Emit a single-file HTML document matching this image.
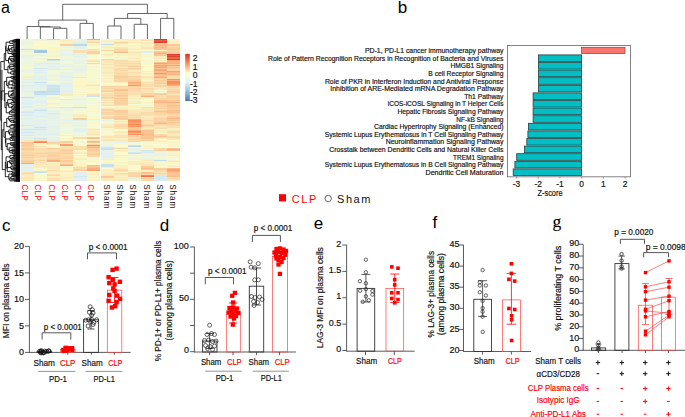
<!DOCTYPE html><html><head><meta charset="utf-8"><style>html,body{margin:0;padding:0;background:#fff;width:685px;height:417px;overflow:hidden;}body{position:relative;font-family:"Liberation Sans", sans-serif;}text{font-family:"Liberation Sans",sans-serif;}</style></head><body><svg width="685" height="417" viewBox="0 0 685 417" style="position:absolute;left:0;top:0;font-family:'Liberation Sans', sans-serif">
<rect x="0" y="0" width="685" height="417" fill="#fff"/>
<text x="1.00" y="12.50" font-size="16" fill="#000">a</text>
<text x="397.80" y="12.70" font-size="17" fill="#000">b</text>
<text x="2.00" y="230.70" font-size="17" fill="#000">c</text>
<text x="159.70" y="231.30" font-size="17" fill="#000">d</text>
<text x="313.80" y="228.70" font-size="17" fill="#000">e</text>
<text x="432.40" y="228.20" font-size="17" fill="#000">f</text>
<text x="552.6" y="227.3" font-size="17.5" fill="#000" stroke="#000" stroke-width="0.12" style="font-family:'Liberation Serif',serif">g</text>
<g shape-rendering="crispEdges">
<rect x="20.50" y="39.00" width="13.28" height="1.05" fill="#edf5df"/><rect x="20.50" y="40.00" width="13.28" height="1.05" fill="#f1f7da"/><rect x="20.50" y="41.00" width="13.28" height="1.05" fill="#edf5df"/><rect x="20.50" y="42.00" width="13.28" height="1.05" fill="#edf5e0"/><rect x="20.50" y="43.00" width="13.28" height="1.05" fill="#eaf4e4"/><rect x="20.50" y="44.00" width="13.28" height="1.05" fill="#edf5df"/><rect x="20.50" y="45.00" width="13.28" height="1.05" fill="#f4f8d6"/><rect x="20.50" y="46.00" width="13.28" height="1.05" fill="#f1f7da"/><rect x="20.50" y="47.00" width="13.28" height="1.05" fill="#f4f8d6"/><rect x="20.50" y="48.00" width="13.28" height="1.05" fill="#f0f6dc"/><rect x="20.50" y="49.00" width="13.28" height="1.05" fill="#fbd4a3"/><rect x="20.50" y="50.00" width="13.28" height="1.05" fill="#eff6dc"/><rect x="20.50" y="51.00" width="13.28" height="1.05" fill="#e6f2e9"/><rect x="20.50" y="52.00" width="13.28" height="1.05" fill="#f3f8d7"/><rect x="20.50" y="53.00" width="13.28" height="1.05" fill="#f1f7da"/><rect x="20.50" y="54.00" width="13.28" height="1.05" fill="#f1f7da"/><rect x="20.50" y="55.00" width="13.28" height="1.05" fill="#e6f2e9"/><rect x="20.50" y="56.00" width="13.28" height="1.05" fill="#e6f2ea"/><rect x="20.50" y="57.00" width="13.28" height="1.05" fill="#eaf4e4"/><rect x="20.50" y="58.00" width="13.28" height="1.05" fill="#ecf5e1"/><rect x="20.50" y="59.00" width="13.28" height="1.05" fill="#f0f6db"/><rect x="20.50" y="60.00" width="13.28" height="1.05" fill="#eef6de"/><rect x="20.50" y="61.00" width="13.28" height="1.05" fill="#f1f7da"/><rect x="20.50" y="62.00" width="13.28" height="1.05" fill="#ebf4e2"/><rect x="20.50" y="63.00" width="13.28" height="1.05" fill="#f0f6db"/><rect x="20.50" y="64.00" width="13.28" height="1.05" fill="#f0f7db"/><rect x="20.50" y="65.00" width="13.28" height="1.05" fill="#ebf4e2"/><rect x="20.50" y="66.00" width="13.28" height="1.05" fill="#f7f9d1"/><rect x="20.50" y="67.00" width="13.28" height="1.05" fill="#f1f7da"/><rect x="20.50" y="68.00" width="13.28" height="1.05" fill="#f4f8d5"/><rect x="20.50" y="69.00" width="13.28" height="1.05" fill="#ebf4e2"/><rect x="20.50" y="70.00" width="13.28" height="1.05" fill="#ebf4e3"/><rect x="20.50" y="71.00" width="13.28" height="1.05" fill="#edf5e0"/><rect x="20.50" y="72.00" width="13.28" height="1.05" fill="#eef6de"/><rect x="20.50" y="73.00" width="13.28" height="1.05" fill="#f2f7d9"/><rect x="20.50" y="74.00" width="13.28" height="1.05" fill="#f0f6dc"/><rect x="20.50" y="75.00" width="13.28" height="1.05" fill="#ecf5e1"/><rect x="20.50" y="76.00" width="13.28" height="1.05" fill="#fbf0c0"/><rect x="20.50" y="77.00" width="13.28" height="1.05" fill="#fbedbd"/><rect x="20.50" y="78.00" width="13.28" height="1.05" fill="#ecf5e1"/><rect x="20.50" y="79.00" width="13.28" height="1.05" fill="#e2f1ef"/><rect x="20.50" y="80.00" width="13.28" height="1.05" fill="#e7f3e7"/><rect x="20.50" y="81.00" width="13.28" height="1.05" fill="#e8f3e6"/><rect x="20.50" y="82.00" width="13.28" height="1.05" fill="#deeff3"/><rect x="20.50" y="83.00" width="13.28" height="1.05" fill="#e6f2e9"/><rect x="20.50" y="84.00" width="13.28" height="1.05" fill="#edf5e0"/><rect x="20.50" y="85.00" width="13.28" height="1.05" fill="#d8ebf2"/><rect x="20.50" y="86.00" width="13.28" height="1.05" fill="#e4f2eb"/><rect x="20.50" y="87.00" width="13.28" height="1.05" fill="#e5f2ea"/><rect x="20.50" y="88.00" width="13.28" height="1.05" fill="#e2f1ef"/><rect x="20.50" y="89.00" width="13.28" height="1.05" fill="#e8f3e6"/><rect x="20.50" y="90.00" width="13.28" height="1.05" fill="#e6f2e9"/><rect x="20.50" y="91.00" width="13.28" height="1.05" fill="#dfeff3"/><rect x="20.50" y="92.00" width="13.28" height="1.05" fill="#eaf4e3"/><rect x="20.50" y="93.00" width="13.28" height="1.05" fill="#e9f4e4"/><rect x="20.50" y="94.00" width="13.28" height="1.05" fill="#ebf4e2"/><rect x="20.50" y="95.00" width="13.28" height="1.05" fill="#edf5df"/><rect x="20.50" y="96.00" width="13.28" height="1.05" fill="#e8f3e6"/><rect x="20.50" y="97.00" width="13.28" height="1.05" fill="#c9e2ed"/><rect x="20.50" y="98.00" width="13.28" height="1.05" fill="#dff0f2"/><rect x="20.50" y="99.00" width="13.28" height="1.05" fill="#e9f4e5"/><rect x="20.50" y="100.00" width="13.28" height="1.05" fill="#e3f1ed"/><rect x="20.50" y="101.00" width="13.28" height="1.05" fill="#e4f1ec"/><rect x="20.50" y="102.00" width="13.28" height="1.05" fill="#e0f0f2"/><rect x="20.50" y="103.00" width="13.28" height="1.05" fill="#e1f0f0"/><rect x="20.50" y="104.00" width="13.28" height="1.05" fill="#e3f1ed"/><rect x="20.50" y="105.00" width="13.28" height="1.05" fill="#ecf5e0"/><rect x="20.50" y="106.00" width="13.28" height="1.05" fill="#d8ebf2"/><rect x="20.50" y="107.00" width="13.28" height="1.05" fill="#dfeff3"/><rect x="20.50" y="108.00" width="13.28" height="1.05" fill="#e7f3e7"/><rect x="20.50" y="109.00" width="13.28" height="1.05" fill="#edf5df"/><rect x="20.50" y="110.00" width="13.28" height="1.05" fill="#e9f4e5"/><rect x="20.50" y="111.00" width="13.28" height="1.05" fill="#daecf3"/><rect x="20.50" y="112.00" width="13.28" height="1.05" fill="#d2e7f0"/><rect x="20.50" y="113.00" width="13.28" height="1.05" fill="#e8f3e7"/><rect x="20.50" y="114.00" width="13.28" height="1.05" fill="#deeff4"/><rect x="20.50" y="115.00" width="13.28" height="1.05" fill="#d9ecf2"/><rect x="20.50" y="116.00" width="13.28" height="1.05" fill="#e7f3e8"/><rect x="20.50" y="117.00" width="13.28" height="1.05" fill="#e7f3e7"/><rect x="20.50" y="118.00" width="13.28" height="1.05" fill="#e3f1ee"/><rect x="20.50" y="119.00" width="13.28" height="1.05" fill="#e3f1ed"/><rect x="20.50" y="120.00" width="13.28" height="1.05" fill="#e4f1ec"/><rect x="20.50" y="121.00" width="13.28" height="1.05" fill="#eaf4e4"/><rect x="20.50" y="122.00" width="13.28" height="1.05" fill="#e5f2ea"/><rect x="20.50" y="123.00" width="13.28" height="1.05" fill="#e4f2eb"/><rect x="20.50" y="124.00" width="13.28" height="1.05" fill="#e5f2eb"/><rect x="20.50" y="125.00" width="13.28" height="1.05" fill="#d3e8f0"/><rect x="20.50" y="126.00" width="13.28" height="1.05" fill="#e8f3e6"/><rect x="20.50" y="127.00" width="13.28" height="1.05" fill="#e7f3e8"/><rect x="20.50" y="128.00" width="13.28" height="1.05" fill="#e4f2eb"/><rect x="20.50" y="129.00" width="13.28" height="1.05" fill="#d0e6ef"/><rect x="20.50" y="130.00" width="13.28" height="1.05" fill="#dfeff3"/><rect x="20.50" y="131.00" width="13.28" height="1.05" fill="#e6f2e9"/><rect x="20.50" y="132.00" width="13.28" height="1.05" fill="#d1e7f0"/><rect x="20.50" y="133.00" width="13.28" height="1.05" fill="#e1f0f0"/><rect x="20.50" y="134.00" width="13.28" height="1.05" fill="#e7f3e8"/><rect x="20.50" y="135.00" width="13.28" height="1.05" fill="#d6eaf2"/><rect x="20.50" y="136.00" width="13.28" height="1.05" fill="#eaf4e4"/><rect x="20.50" y="137.00" width="13.28" height="1.05" fill="#e5f2eb"/><rect x="20.50" y="138.00" width="13.28" height="1.05" fill="#e1f0f0"/><rect x="20.50" y="139.00" width="13.28" height="1.05" fill="#e3f1ed"/><rect x="20.50" y="140.00" width="13.28" height="1.05" fill="#fbe4b4"/><rect x="20.50" y="141.00" width="13.28" height="1.05" fill="#fbe8b8"/><rect x="20.50" y="142.00" width="13.28" height="1.05" fill="#fcc291"/><rect x="20.50" y="143.00" width="13.28" height="1.05" fill="#fbcf9e"/><rect x="20.50" y="144.00" width="13.28" height="1.05" fill="#fbce9d"/><rect x="20.50" y="145.00" width="13.28" height="1.05" fill="#fbcc9b"/><rect x="20.50" y="146.00" width="13.28" height="1.05" fill="#fbd3a3"/><rect x="20.50" y="147.00" width="13.28" height="1.05" fill="#fbdaaa"/><rect x="20.50" y="148.00" width="13.28" height="1.05" fill="#fbcd9c"/><rect x="20.50" y="149.00" width="13.28" height="1.05" fill="#fbc998"/><rect x="20.50" y="150.00" width="13.28" height="1.05" fill="#fbd7a6"/><rect x="20.50" y="151.00" width="13.28" height="1.05" fill="#fbdead"/><rect x="20.50" y="152.00" width="13.28" height="1.05" fill="#fbd5a4"/><rect x="20.50" y="153.00" width="13.28" height="1.05" fill="#fbd5a4"/><rect x="20.50" y="154.00" width="13.28" height="1.05" fill="#fbd6a5"/><rect x="20.50" y="155.00" width="13.28" height="1.05" fill="#fbc998"/><rect x="20.50" y="156.00" width="13.28" height="1.05" fill="#fbdbab"/><rect x="20.50" y="157.00" width="13.28" height="1.05" fill="#fbcb99"/><rect x="20.50" y="158.00" width="13.28" height="1.05" fill="#fbddad"/><rect x="20.50" y="159.00" width="13.28" height="1.05" fill="#fbd9a9"/><rect x="20.50" y="160.00" width="13.28" height="1.05" fill="#fbcf9e"/><rect x="20.50" y="161.00" width="13.28" height="1.05" fill="#fbcb9a"/><rect x="20.50" y="162.00" width="13.28" height="1.05" fill="#fbcd9c"/><rect x="20.50" y="163.00" width="13.28" height="1.05" fill="#fca976"/><rect x="20.50" y="164.00" width="13.28" height="1.05" fill="#e2f1ee"/><rect x="20.50" y="165.00" width="13.28" height="1.05" fill="#e3f1ee"/><rect x="20.50" y="166.00" width="13.28" height="1.05" fill="#e5f2eb"/><rect x="20.50" y="167.00" width="13.28" height="1.05" fill="#e1f0f0"/><rect x="20.50" y="168.00" width="13.28" height="1.05" fill="#e3f1ed"/><rect x="20.50" y="169.00" width="13.28" height="1.05" fill="#e5f2eb"/><rect x="20.50" y="170.00" width="13.28" height="1.05" fill="#e2f1ef"/><rect x="20.50" y="171.00" width="13.28" height="1.05" fill="#e6f2e9"/><rect x="20.50" y="172.00" width="13.28" height="1.05" fill="#fbe5b5"/><rect x="20.50" y="173.00" width="13.28" height="1.05" fill="#fbdaaa"/><rect x="20.50" y="174.00" width="13.28" height="1.05" fill="#fbe6b7"/><rect x="20.50" y="175.00" width="13.28" height="1.05" fill="#fbecbc"/><rect x="20.50" y="176.00" width="13.28" height="1.05" fill="#fbecbc"/><rect x="20.50" y="177.00" width="13.28" height="1.05" fill="#fbe9b9"/><rect x="20.50" y="178.00" width="13.28" height="1.05" fill="#fbe2b2"/><rect x="20.50" y="179.00" width="13.28" height="1.05" fill="#fbebbc"/><rect x="20.50" y="180.00" width="13.28" height="1.05" fill="#fbe6b6"/><rect x="33.73" y="39.00" width="13.28" height="1.05" fill="#fbeebe"/><rect x="33.73" y="40.00" width="13.28" height="1.05" fill="#eef6de"/><rect x="33.73" y="41.00" width="13.28" height="1.05" fill="#f5f9d4"/><rect x="33.73" y="42.00" width="13.28" height="1.05" fill="#fbf9ca"/><rect x="33.73" y="43.00" width="13.28" height="1.05" fill="#fbf8c9"/><rect x="33.73" y="44.00" width="13.28" height="1.05" fill="#fbf9ca"/><rect x="33.73" y="45.00" width="13.28" height="1.05" fill="#f9facf"/><rect x="33.73" y="46.00" width="13.28" height="1.05" fill="#fbf6c7"/><rect x="33.73" y="47.00" width="13.28" height="1.05" fill="#fbf9ca"/><rect x="33.73" y="48.00" width="13.28" height="1.05" fill="#f8fad0"/><rect x="33.73" y="49.00" width="13.28" height="1.05" fill="#fbe9ba"/><rect x="33.73" y="50.00" width="13.28" height="1.05" fill="#a5cce2"/><rect x="33.73" y="51.00" width="13.28" height="1.05" fill="#a0c9e0"/><rect x="33.73" y="52.00" width="13.28" height="1.05" fill="#a3cae1"/><rect x="33.73" y="53.00" width="13.28" height="1.05" fill="#f1f7d9"/><rect x="33.73" y="54.00" width="13.28" height="1.05" fill="#f2f7d8"/><rect x="33.73" y="55.00" width="13.28" height="1.05" fill="#e5f2eb"/><rect x="33.73" y="56.00" width="13.28" height="1.05" fill="#f0f7db"/><rect x="33.73" y="57.00" width="13.28" height="1.05" fill="#f8fad1"/><rect x="33.73" y="58.00" width="13.28" height="1.05" fill="#edf5e0"/><rect x="33.73" y="59.00" width="13.28" height="1.05" fill="#f2f7d8"/><rect x="33.73" y="60.00" width="13.28" height="1.05" fill="#f7fad1"/><rect x="33.73" y="61.00" width="13.28" height="1.05" fill="#eaf4e3"/><rect x="33.73" y="62.00" width="13.28" height="1.05" fill="#edf5df"/><rect x="33.73" y="63.00" width="13.28" height="1.05" fill="#dceef3"/><rect x="33.73" y="64.00" width="13.28" height="1.05" fill="#e4f2eb"/><rect x="33.73" y="65.00" width="13.28" height="1.05" fill="#e4f2eb"/><rect x="33.73" y="66.00" width="13.28" height="1.05" fill="#e9f4e5"/><rect x="33.73" y="67.00" width="13.28" height="1.05" fill="#ebf5e1"/><rect x="33.73" y="68.00" width="13.28" height="1.05" fill="#d1e7f0"/><rect x="33.73" y="69.00" width="13.28" height="1.05" fill="#ebf5e1"/><rect x="33.73" y="70.00" width="13.28" height="1.05" fill="#dfeff3"/><rect x="33.73" y="71.00" width="13.28" height="1.05" fill="#e9f4e4"/><rect x="33.73" y="72.00" width="13.28" height="1.05" fill="#deeff3"/><rect x="33.73" y="73.00" width="13.28" height="1.05" fill="#e7f3e8"/><rect x="33.73" y="74.00" width="13.28" height="1.05" fill="#ecf5e1"/><rect x="33.73" y="75.00" width="13.28" height="1.05" fill="#e5f2ea"/><rect x="33.73" y="76.00" width="13.28" height="1.05" fill="#e3f1ed"/><rect x="33.73" y="77.00" width="13.28" height="1.05" fill="#e6f2e9"/><rect x="33.73" y="78.00" width="13.28" height="1.05" fill="#e2f1ee"/><rect x="33.73" y="79.00" width="13.28" height="1.05" fill="#e1f0ef"/><rect x="33.73" y="80.00" width="13.28" height="1.05" fill="#eaf4e4"/><rect x="33.73" y="81.00" width="13.28" height="1.05" fill="#e7f3e8"/><rect x="33.73" y="82.00" width="13.28" height="1.05" fill="#c7e1ec"/><rect x="33.73" y="83.00" width="13.28" height="1.05" fill="#f0f6dc"/><rect x="33.73" y="84.00" width="13.28" height="1.05" fill="#d9ecf2"/><rect x="33.73" y="85.00" width="13.28" height="1.05" fill="#e6f2e8"/><rect x="33.73" y="86.00" width="13.28" height="1.05" fill="#e0f0f1"/><rect x="33.73" y="87.00" width="13.28" height="1.05" fill="#e2f1ee"/><rect x="33.73" y="88.00" width="13.28" height="1.05" fill="#e5f2ea"/><rect x="33.73" y="89.00" width="13.28" height="1.05" fill="#e3f1ed"/><rect x="33.73" y="90.00" width="13.28" height="1.05" fill="#e5f2ea"/><rect x="33.73" y="91.00" width="13.28" height="1.05" fill="#c0dcea"/><rect x="33.73" y="92.00" width="13.28" height="1.05" fill="#c0dcea"/><rect x="33.73" y="93.00" width="13.28" height="1.05" fill="#cce4ee"/><rect x="33.73" y="94.00" width="13.28" height="1.05" fill="#c3deeb"/><rect x="33.73" y="95.00" width="13.28" height="1.05" fill="#e1f0f0"/><rect x="33.73" y="96.00" width="13.28" height="1.05" fill="#dfeff3"/><rect x="33.73" y="97.00" width="13.28" height="1.05" fill="#ecf5e0"/><rect x="33.73" y="98.00" width="13.28" height="1.05" fill="#eaf4e4"/><rect x="33.73" y="99.00" width="13.28" height="1.05" fill="#edf5df"/><rect x="33.73" y="100.00" width="13.28" height="1.05" fill="#e1f0f0"/><rect x="33.73" y="101.00" width="13.28" height="1.05" fill="#e6f2e9"/><rect x="33.73" y="102.00" width="13.28" height="1.05" fill="#e0f0f1"/><rect x="33.73" y="103.00" width="13.28" height="1.05" fill="#eaf4e4"/><rect x="33.73" y="104.00" width="13.28" height="1.05" fill="#eef6de"/><rect x="33.73" y="105.00" width="13.28" height="1.05" fill="#e1f0ef"/><rect x="33.73" y="106.00" width="13.28" height="1.05" fill="#eef6de"/><rect x="33.73" y="107.00" width="13.28" height="1.05" fill="#ebf4e2"/><rect x="33.73" y="108.00" width="13.28" height="1.05" fill="#e5f2ea"/><rect x="33.73" y="109.00" width="13.28" height="1.05" fill="#d9ecf2"/><rect x="33.73" y="110.00" width="13.28" height="1.05" fill="#cce4ee"/><rect x="33.73" y="111.00" width="13.28" height="1.05" fill="#e1f0ef"/><rect x="33.73" y="112.00" width="13.28" height="1.05" fill="#dfeff3"/><rect x="33.73" y="113.00" width="13.28" height="1.05" fill="#e4f1ec"/><rect x="33.73" y="114.00" width="13.28" height="1.05" fill="#e4f1ec"/><rect x="33.73" y="115.00" width="13.28" height="1.05" fill="#e9f4e4"/><rect x="33.73" y="116.00" width="13.28" height="1.05" fill="#daedf3"/><rect x="33.73" y="117.00" width="13.28" height="1.05" fill="#e8f3e7"/><rect x="33.73" y="118.00" width="13.28" height="1.05" fill="#e9f4e4"/><rect x="33.73" y="119.00" width="13.28" height="1.05" fill="#e9f4e5"/><rect x="33.73" y="120.00" width="13.28" height="1.05" fill="#e1f0f0"/><rect x="33.73" y="121.00" width="13.28" height="1.05" fill="#deeff4"/><rect x="33.73" y="122.00" width="13.28" height="1.05" fill="#e7f3e8"/><rect x="33.73" y="123.00" width="13.28" height="1.05" fill="#e2f1ee"/><rect x="33.73" y="124.00" width="13.28" height="1.05" fill="#e2f1ee"/><rect x="33.73" y="125.00" width="13.28" height="1.05" fill="#e9f4e5"/><rect x="33.73" y="126.00" width="13.28" height="1.05" fill="#e0f0f1"/><rect x="33.73" y="127.00" width="13.28" height="1.05" fill="#cee5ef"/><rect x="33.73" y="128.00" width="13.28" height="1.05" fill="#e0f0f1"/><rect x="33.73" y="129.00" width="13.28" height="1.05" fill="#d1e7f0"/><rect x="33.73" y="130.00" width="13.28" height="1.05" fill="#e6f2e9"/><rect x="33.73" y="131.00" width="13.28" height="1.05" fill="#e3f1ed"/><rect x="33.73" y="132.00" width="13.28" height="1.05" fill="#dfeff3"/><rect x="33.73" y="133.00" width="13.28" height="1.05" fill="#e2f1ef"/><rect x="33.73" y="134.00" width="13.28" height="1.05" fill="#e6f2e9"/><rect x="33.73" y="135.00" width="13.28" height="1.05" fill="#e2f1ee"/><rect x="33.73" y="136.00" width="13.28" height="1.05" fill="#e8f3e6"/><rect x="33.73" y="137.00" width="13.28" height="1.05" fill="#e1f0ef"/><rect x="33.73" y="138.00" width="13.28" height="1.05" fill="#cee5ef"/><rect x="33.73" y="139.00" width="13.28" height="1.05" fill="#fbe4b4"/><rect x="33.73" y="140.00" width="13.28" height="1.05" fill="#fbe3b3"/><rect x="33.73" y="141.00" width="13.28" height="1.05" fill="#fc9d69"/><rect x="33.73" y="142.00" width="13.28" height="1.05" fill="#f88253"/><rect x="33.73" y="143.00" width="13.28" height="1.05" fill="#fbf6c7"/><rect x="33.73" y="144.00" width="13.28" height="1.05" fill="#fbf1c1"/><rect x="33.73" y="145.00" width="13.28" height="1.05" fill="#fbf7c8"/><rect x="33.73" y="146.00" width="13.28" height="1.05" fill="#fbe1b1"/><rect x="33.73" y="147.00" width="13.28" height="1.05" fill="#fbf2c2"/><rect x="33.73" y="148.00" width="13.28" height="1.05" fill="#fbddac"/><rect x="33.73" y="149.00" width="13.28" height="1.05" fill="#fbdeae"/><rect x="33.73" y="150.00" width="13.28" height="1.05" fill="#fbddad"/><rect x="33.73" y="151.00" width="13.28" height="1.05" fill="#fbe1b1"/><rect x="33.73" y="152.00" width="13.28" height="1.05" fill="#fbdbab"/><rect x="33.73" y="153.00" width="13.28" height="1.05" fill="#fbd09f"/><rect x="33.73" y="154.00" width="13.28" height="1.05" fill="#fbdcac"/><rect x="33.73" y="155.00" width="13.28" height="1.05" fill="#fbd9a8"/><rect x="33.73" y="156.00" width="13.28" height="1.05" fill="#fbd5a5"/><rect x="33.73" y="157.00" width="13.28" height="1.05" fill="#fbdeae"/><rect x="33.73" y="158.00" width="13.28" height="1.05" fill="#fbe6b6"/><rect x="33.73" y="159.00" width="13.28" height="1.05" fill="#fbe1b1"/><rect x="33.73" y="160.00" width="13.28" height="1.05" fill="#fbd5a4"/><rect x="33.73" y="161.00" width="13.28" height="1.05" fill="#fbe9b9"/><rect x="33.73" y="162.00" width="13.28" height="1.05" fill="#fbe1b1"/><rect x="33.73" y="163.00" width="13.28" height="1.05" fill="#fbe8b8"/><rect x="33.73" y="164.00" width="13.28" height="1.05" fill="#fbe9b9"/><rect x="33.73" y="165.00" width="13.28" height="1.05" fill="#fbefbf"/><rect x="33.73" y="166.00" width="13.28" height="1.05" fill="#fbe9b9"/><rect x="33.73" y="167.00" width="13.28" height="1.05" fill="#fbeebe"/><rect x="33.73" y="168.00" width="13.28" height="1.05" fill="#fbf7c8"/><rect x="33.73" y="169.00" width="13.28" height="1.05" fill="#fbfacb"/><rect x="33.73" y="170.00" width="13.28" height="1.05" fill="#fbf4c4"/><rect x="33.73" y="171.00" width="13.28" height="1.05" fill="#cee5ef"/><rect x="33.73" y="172.00" width="13.28" height="1.05" fill="#c5e0ec"/><rect x="33.73" y="173.00" width="13.28" height="1.05" fill="#f9facf"/><rect x="33.73" y="174.00" width="13.28" height="1.05" fill="#f9face"/><rect x="33.73" y="175.00" width="13.28" height="1.05" fill="#f5f9d4"/><rect x="33.73" y="176.00" width="13.28" height="1.05" fill="#fbf9ca"/><rect x="33.73" y="177.00" width="13.28" height="1.05" fill="#f7f9d1"/><rect x="33.73" y="178.00" width="13.28" height="1.05" fill="#fbf5c6"/><rect x="33.73" y="179.00" width="13.28" height="1.05" fill="#f1f7da"/><rect x="33.73" y="180.00" width="13.28" height="1.05" fill="#fbf6c6"/><rect x="46.97" y="39.00" width="13.28" height="1.05" fill="#fbc998"/><rect x="46.97" y="40.00" width="13.28" height="1.05" fill="#f1f7da"/><rect x="46.97" y="41.00" width="13.28" height="1.05" fill="#fbf6c6"/><rect x="46.97" y="42.00" width="13.28" height="1.05" fill="#faface"/><rect x="46.97" y="43.00" width="13.28" height="1.05" fill="#f0f6dc"/><rect x="46.97" y="44.00" width="13.28" height="1.05" fill="#f7f9d2"/><rect x="46.97" y="45.00" width="13.28" height="1.05" fill="#fbf9ca"/><rect x="46.97" y="46.00" width="13.28" height="1.05" fill="#f9facf"/><rect x="46.97" y="47.00" width="13.28" height="1.05" fill="#fbf5c6"/><rect x="46.97" y="48.00" width="13.28" height="1.05" fill="#fbf6c6"/><rect x="46.97" y="49.00" width="13.28" height="1.05" fill="#fbf6c7"/><rect x="46.97" y="50.00" width="13.28" height="1.05" fill="#fbf9ca"/><rect x="46.97" y="51.00" width="13.28" height="1.05" fill="#fbf1c2"/><rect x="46.97" y="52.00" width="13.28" height="1.05" fill="#fbf6c7"/><rect x="46.97" y="53.00" width="13.28" height="1.05" fill="#fbf8c9"/><rect x="46.97" y="54.00" width="13.28" height="1.05" fill="#f0f7db"/><rect x="46.97" y="55.00" width="13.28" height="1.05" fill="#fbf4c5"/><rect x="46.97" y="56.00" width="13.28" height="1.05" fill="#fbf1c2"/><rect x="46.97" y="57.00" width="13.28" height="1.05" fill="#faface"/><rect x="46.97" y="58.00" width="13.28" height="1.05" fill="#f9facf"/><rect x="46.97" y="59.00" width="13.28" height="1.05" fill="#fcb987"/><rect x="46.97" y="60.00" width="13.28" height="1.05" fill="#d1e7f0"/><rect x="46.97" y="61.00" width="13.28" height="1.05" fill="#e4f2ec"/><rect x="46.97" y="62.00" width="13.28" height="1.05" fill="#eef6de"/><rect x="46.97" y="63.00" width="13.28" height="1.05" fill="#dcedf3"/><rect x="46.97" y="64.00" width="13.28" height="1.05" fill="#e5f2ea"/><rect x="46.97" y="65.00" width="13.28" height="1.05" fill="#ebf4e2"/><rect x="46.97" y="66.00" width="13.28" height="1.05" fill="#e1f0f0"/><rect x="46.97" y="67.00" width="13.28" height="1.05" fill="#e5f2eb"/><rect x="46.97" y="68.00" width="13.28" height="1.05" fill="#e6f2e9"/><rect x="46.97" y="69.00" width="13.28" height="1.05" fill="#dceef3"/><rect x="46.97" y="70.00" width="13.28" height="1.05" fill="#eef6de"/><rect x="46.97" y="71.00" width="13.28" height="1.05" fill="#f0f6db"/><rect x="46.97" y="72.00" width="13.28" height="1.05" fill="#f3f8d8"/><rect x="46.97" y="73.00" width="13.28" height="1.05" fill="#eef6de"/><rect x="46.97" y="74.00" width="13.28" height="1.05" fill="#edf5df"/><rect x="46.97" y="75.00" width="13.28" height="1.05" fill="#e9f4e4"/><rect x="46.97" y="76.00" width="13.28" height="1.05" fill="#edf5e0"/><rect x="46.97" y="77.00" width="13.28" height="1.05" fill="#f3f8d7"/><rect x="46.97" y="78.00" width="13.28" height="1.05" fill="#eff6dd"/><rect x="46.97" y="79.00" width="13.28" height="1.05" fill="#eaf4e3"/><rect x="46.97" y="80.00" width="13.28" height="1.05" fill="#eaf4e3"/><rect x="46.97" y="81.00" width="13.28" height="1.05" fill="#fbfacb"/><rect x="46.97" y="82.00" width="13.28" height="1.05" fill="#f4f8d5"/><rect x="46.97" y="83.00" width="13.28" height="1.05" fill="#f2f7d9"/><rect x="46.97" y="84.00" width="13.28" height="1.05" fill="#e1f0ef"/><rect x="46.97" y="85.00" width="13.28" height="1.05" fill="#cce4ee"/><rect x="46.97" y="86.00" width="13.28" height="1.05" fill="#cbe3ee"/><rect x="46.97" y="87.00" width="13.28" height="1.05" fill="#d2e7f0"/><rect x="46.97" y="88.00" width="13.28" height="1.05" fill="#cbe3ee"/><rect x="46.97" y="89.00" width="13.28" height="1.05" fill="#c8e1ed"/><rect x="46.97" y="90.00" width="13.28" height="1.05" fill="#cbe3ee"/><rect x="46.97" y="91.00" width="13.28" height="1.05" fill="#bedbea"/><rect x="46.97" y="92.00" width="13.28" height="1.05" fill="#cee5ef"/><rect x="46.97" y="93.00" width="13.28" height="1.05" fill="#cae3ee"/><rect x="46.97" y="94.00" width="13.28" height="1.05" fill="#c5dfec"/><rect x="46.97" y="95.00" width="13.28" height="1.05" fill="#f5f9d4"/><rect x="46.97" y="96.00" width="13.28" height="1.05" fill="#f8fad1"/><rect x="46.97" y="97.00" width="13.28" height="1.05" fill="#e7f3e7"/><rect x="46.97" y="98.00" width="13.28" height="1.05" fill="#ebf4e2"/><rect x="46.97" y="99.00" width="13.28" height="1.05" fill="#f0f6db"/><rect x="46.97" y="100.00" width="13.28" height="1.05" fill="#fbfacb"/><rect x="46.97" y="101.00" width="13.28" height="1.05" fill="#f9facf"/><rect x="46.97" y="102.00" width="13.28" height="1.05" fill="#f6f9d3"/><rect x="46.97" y="103.00" width="13.28" height="1.05" fill="#fbecbc"/><rect x="46.97" y="104.00" width="13.28" height="1.05" fill="#fbf3c4"/><rect x="46.97" y="105.00" width="13.28" height="1.05" fill="#f5f9d4"/><rect x="46.97" y="106.00" width="13.28" height="1.05" fill="#f4f8d5"/><rect x="46.97" y="107.00" width="13.28" height="1.05" fill="#fbefbf"/><rect x="46.97" y="108.00" width="13.28" height="1.05" fill="#ebf4e2"/><rect x="46.97" y="109.00" width="13.28" height="1.05" fill="#eff6dc"/><rect x="46.97" y="110.00" width="13.28" height="1.05" fill="#eaf4e3"/><rect x="46.97" y="111.00" width="13.28" height="1.05" fill="#e2f0ef"/><rect x="46.97" y="112.00" width="13.28" height="1.05" fill="#e7f3e7"/><rect x="46.97" y="113.00" width="13.28" height="1.05" fill="#d6eaf1"/><rect x="46.97" y="114.00" width="13.28" height="1.05" fill="#e2f1ee"/><rect x="46.97" y="115.00" width="13.28" height="1.05" fill="#e6f2e9"/><rect x="46.97" y="116.00" width="13.28" height="1.05" fill="#e9f3e5"/><rect x="46.97" y="117.00" width="13.28" height="1.05" fill="#e2f1ee"/><rect x="46.97" y="118.00" width="13.28" height="1.05" fill="#e5f2ea"/><rect x="46.97" y="119.00" width="13.28" height="1.05" fill="#e8f3e6"/><rect x="46.97" y="120.00" width="13.28" height="1.05" fill="#e8f3e6"/><rect x="46.97" y="121.00" width="13.28" height="1.05" fill="#e9f4e5"/><rect x="46.97" y="122.00" width="13.28" height="1.05" fill="#e7f3e8"/><rect x="46.97" y="123.00" width="13.28" height="1.05" fill="#e4f2eb"/><rect x="46.97" y="124.00" width="13.28" height="1.05" fill="#eaf4e4"/><rect x="46.97" y="125.00" width="13.28" height="1.05" fill="#e6f2e9"/><rect x="46.97" y="126.00" width="13.28" height="1.05" fill="#e2f1ef"/><rect x="46.97" y="127.00" width="13.28" height="1.05" fill="#e3f1ed"/><rect x="46.97" y="128.00" width="13.28" height="1.05" fill="#e6f2e9"/><rect x="46.97" y="129.00" width="13.28" height="1.05" fill="#e5f2ea"/><rect x="46.97" y="130.00" width="13.28" height="1.05" fill="#e7f3e8"/><rect x="46.97" y="131.00" width="13.28" height="1.05" fill="#e6f2e9"/><rect x="46.97" y="132.00" width="13.28" height="1.05" fill="#e7f3e8"/><rect x="46.97" y="133.00" width="13.28" height="1.05" fill="#e5f2ea"/><rect x="46.97" y="134.00" width="13.28" height="1.05" fill="#e0f0f2"/><rect x="46.97" y="135.00" width="13.28" height="1.05" fill="#e8f3e6"/><rect x="46.97" y="136.00" width="13.28" height="1.05" fill="#ebf5e2"/><rect x="46.97" y="137.00" width="13.28" height="1.05" fill="#e8f3e6"/><rect x="46.97" y="138.00" width="13.28" height="1.05" fill="#e5f2ea"/><rect x="46.97" y="139.00" width="13.28" height="1.05" fill="#e8f3e6"/><rect x="46.97" y="140.00" width="13.28" height="1.05" fill="#e1f0f0"/><rect x="46.97" y="141.00" width="13.28" height="1.05" fill="#daecf3"/><rect x="46.97" y="142.00" width="13.28" height="1.05" fill="#fbd09f"/><rect x="46.97" y="143.00" width="13.28" height="1.05" fill="#fbd7a7"/><rect x="46.97" y="144.00" width="13.28" height="1.05" fill="#fbeaba"/><rect x="46.97" y="145.00" width="13.28" height="1.05" fill="#fbf7c8"/><rect x="46.97" y="146.00" width="13.28" height="1.05" fill="#f6f9d3"/><rect x="46.97" y="147.00" width="13.28" height="1.05" fill="#fbf6c7"/><rect x="46.97" y="148.00" width="13.28" height="1.05" fill="#fbcb9a"/><rect x="46.97" y="149.00" width="13.28" height="1.05" fill="#fbd9a9"/><rect x="46.97" y="150.00" width="13.28" height="1.05" fill="#fbe1b0"/><rect x="46.97" y="151.00" width="13.28" height="1.05" fill="#fbdcac"/><rect x="46.97" y="152.00" width="13.28" height="1.05" fill="#fbd3a2"/><rect x="46.97" y="153.00" width="13.28" height="1.05" fill="#fbd3a2"/><rect x="46.97" y="154.00" width="13.28" height="1.05" fill="#fbd5a5"/><rect x="46.97" y="155.00" width="13.28" height="1.05" fill="#fbcc9b"/><rect x="46.97" y="156.00" width="13.28" height="1.05" fill="#fbd2a1"/><rect x="46.97" y="157.00" width="13.28" height="1.05" fill="#fbd7a6"/><rect x="46.97" y="158.00" width="13.28" height="1.05" fill="#fbd2a2"/><rect x="46.97" y="159.00" width="13.28" height="1.05" fill="#fbcb99"/><rect x="46.97" y="160.00" width="13.28" height="1.05" fill="#fcad7a"/><rect x="46.97" y="161.00" width="13.28" height="1.05" fill="#fcac79"/><rect x="46.97" y="162.00" width="13.28" height="1.05" fill="#fbf7c8"/><rect x="46.97" y="163.00" width="13.28" height="1.05" fill="#fbf0c0"/><rect x="46.97" y="164.00" width="13.28" height="1.05" fill="#fbeaba"/><rect x="46.97" y="165.00" width="13.28" height="1.05" fill="#fbf1c2"/><rect x="46.97" y="166.00" width="13.28" height="1.05" fill="#fbe7b7"/><rect x="46.97" y="167.00" width="13.28" height="1.05" fill="#fbebbb"/><rect x="46.97" y="168.00" width="13.28" height="1.05" fill="#fbe8b8"/><rect x="46.97" y="169.00" width="13.28" height="1.05" fill="#fbf0c1"/><rect x="46.97" y="170.00" width="13.28" height="1.05" fill="#fbdcac"/><rect x="46.97" y="171.00" width="13.28" height="1.05" fill="#fbe6b6"/><rect x="46.97" y="172.00" width="13.28" height="1.05" fill="#fbf0c1"/><rect x="46.97" y="173.00" width="13.28" height="1.05" fill="#fbeebf"/><rect x="46.97" y="174.00" width="13.28" height="1.05" fill="#fbdcac"/><rect x="46.97" y="175.00" width="13.28" height="1.05" fill="#fbd9a9"/><rect x="46.97" y="176.00" width="13.28" height="1.05" fill="#fbefbf"/><rect x="46.97" y="177.00" width="13.28" height="1.05" fill="#fbeebe"/><rect x="46.97" y="178.00" width="13.28" height="1.05" fill="#fbddac"/><rect x="46.97" y="179.00" width="13.28" height="1.05" fill="#fbe5b5"/><rect x="46.97" y="180.00" width="13.28" height="1.05" fill="#fbdbab"/><rect x="60.20" y="39.00" width="13.28" height="1.05" fill="#fbf2c3"/><rect x="60.20" y="40.00" width="13.28" height="1.05" fill="#fbedbd"/><rect x="60.20" y="41.00" width="13.28" height="1.05" fill="#fbefc0"/><rect x="60.20" y="42.00" width="13.28" height="1.05" fill="#fbf5c5"/><rect x="60.20" y="43.00" width="13.28" height="1.05" fill="#fbefbf"/><rect x="60.20" y="44.00" width="13.28" height="1.05" fill="#fbcd9c"/><rect x="60.20" y="45.00" width="13.28" height="1.05" fill="#fbcf9e"/><rect x="60.20" y="46.00" width="13.28" height="1.05" fill="#eff6dd"/><rect x="60.20" y="47.00" width="13.28" height="1.05" fill="#edf5df"/><rect x="60.20" y="48.00" width="13.28" height="1.05" fill="#f2f7d9"/><rect x="60.20" y="49.00" width="13.28" height="1.05" fill="#e9f4e5"/><rect x="60.20" y="50.00" width="13.28" height="1.05" fill="#ebf4e2"/><rect x="60.20" y="51.00" width="13.28" height="1.05" fill="#eef6dd"/><rect x="60.20" y="52.00" width="13.28" height="1.05" fill="#e7f3e8"/><rect x="60.20" y="53.00" width="13.28" height="1.05" fill="#ecf5e0"/><rect x="60.20" y="54.00" width="13.28" height="1.05" fill="#e4f2eb"/><rect x="60.20" y="55.00" width="13.28" height="1.05" fill="#ebf4e2"/><rect x="60.20" y="56.00" width="13.28" height="1.05" fill="#f1f7d9"/><rect x="60.20" y="57.00" width="13.28" height="1.05" fill="#f1f7d9"/><rect x="60.20" y="58.00" width="13.28" height="1.05" fill="#eef6de"/><rect x="60.20" y="59.00" width="13.28" height="1.05" fill="#edf5df"/><rect x="60.20" y="60.00" width="13.28" height="1.05" fill="#e7f3e7"/><rect x="60.20" y="61.00" width="13.28" height="1.05" fill="#f8fad1"/><rect x="60.20" y="62.00" width="13.28" height="1.05" fill="#f1f7da"/><rect x="60.20" y="63.00" width="13.28" height="1.05" fill="#f4f8d6"/><rect x="60.20" y="64.00" width="13.28" height="1.05" fill="#eaf4e4"/><rect x="60.20" y="65.00" width="13.28" height="1.05" fill="#edf5df"/><rect x="60.20" y="66.00" width="13.28" height="1.05" fill="#e5f2ea"/><rect x="60.20" y="67.00" width="13.28" height="1.05" fill="#f2f7d8"/><rect x="60.20" y="68.00" width="13.28" height="1.05" fill="#f3f8d7"/><rect x="60.20" y="69.00" width="13.28" height="1.05" fill="#e5f2eb"/><rect x="60.20" y="70.00" width="13.28" height="1.05" fill="#eef6de"/><rect x="60.20" y="71.00" width="13.28" height="1.05" fill="#f2f7d9"/><rect x="60.20" y="72.00" width="13.28" height="1.05" fill="#e5f2ea"/><rect x="60.20" y="73.00" width="13.28" height="1.05" fill="#e5f2ea"/><rect x="60.20" y="74.00" width="13.28" height="1.05" fill="#e9f4e5"/><rect x="60.20" y="75.00" width="13.28" height="1.05" fill="#ebf4e2"/><rect x="60.20" y="76.00" width="13.28" height="1.05" fill="#dfeff3"/><rect x="60.20" y="77.00" width="13.28" height="1.05" fill="#e6f2e9"/><rect x="60.20" y="78.00" width="13.28" height="1.05" fill="#e7f3e7"/><rect x="60.20" y="79.00" width="13.28" height="1.05" fill="#e9f4e5"/><rect x="60.20" y="80.00" width="13.28" height="1.05" fill="#eaf4e4"/><rect x="60.20" y="81.00" width="13.28" height="1.05" fill="#eef5df"/><rect x="60.20" y="82.00" width="13.28" height="1.05" fill="#ecf5e1"/><rect x="60.20" y="83.00" width="13.28" height="1.05" fill="#dff0f2"/><rect x="60.20" y="84.00" width="13.28" height="1.05" fill="#e3f1ed"/><rect x="60.20" y="85.00" width="13.28" height="1.05" fill="#e1f0f0"/><rect x="60.20" y="86.00" width="13.28" height="1.05" fill="#e1f0f0"/><rect x="60.20" y="87.00" width="13.28" height="1.05" fill="#e6f2ea"/><rect x="60.20" y="88.00" width="13.28" height="1.05" fill="#e6f2e9"/><rect x="60.20" y="89.00" width="13.28" height="1.05" fill="#e8f3e6"/><rect x="60.20" y="90.00" width="13.28" height="1.05" fill="#deeff4"/><rect x="60.20" y="91.00" width="13.28" height="1.05" fill="#e0f0f2"/><rect x="60.20" y="92.00" width="13.28" height="1.05" fill="#e6f2e9"/><rect x="60.20" y="93.00" width="13.28" height="1.05" fill="#fbeabb"/><rect x="60.20" y="94.00" width="13.28" height="1.05" fill="#fbebbb"/><rect x="60.20" y="95.00" width="13.28" height="1.05" fill="#fbe9ba"/><rect x="60.20" y="96.00" width="13.28" height="1.05" fill="#f3f8d7"/><rect x="60.20" y="97.00" width="13.28" height="1.05" fill="#fafbcd"/><rect x="60.20" y="98.00" width="13.28" height="1.05" fill="#f9facf"/><rect x="60.20" y="99.00" width="13.28" height="1.05" fill="#fbe3b3"/><rect x="60.20" y="100.00" width="13.28" height="1.05" fill="#f3f8d6"/><rect x="60.20" y="101.00" width="13.28" height="1.05" fill="#f6f9d3"/><rect x="60.20" y="102.00" width="13.28" height="1.05" fill="#e9f4e5"/><rect x="60.20" y="103.00" width="13.28" height="1.05" fill="#f2f7d9"/><rect x="60.20" y="104.00" width="13.28" height="1.05" fill="#f7f9d2"/><rect x="60.20" y="105.00" width="13.28" height="1.05" fill="#eff6dc"/><rect x="60.20" y="106.00" width="13.28" height="1.05" fill="#f8fad0"/><rect x="60.20" y="107.00" width="13.28" height="1.05" fill="#fbe2b2"/><rect x="60.20" y="108.00" width="13.28" height="1.05" fill="#e7f3e7"/><rect x="60.20" y="109.00" width="13.28" height="1.05" fill="#edf5df"/><rect x="60.20" y="110.00" width="13.28" height="1.05" fill="#edf5e0"/><rect x="60.20" y="111.00" width="13.28" height="1.05" fill="#f1f7da"/><rect x="60.20" y="112.00" width="13.28" height="1.05" fill="#f1f7d9"/><rect x="60.20" y="113.00" width="13.28" height="1.05" fill="#eef6de"/><rect x="60.20" y="114.00" width="13.28" height="1.05" fill="#eaf4e3"/><rect x="60.20" y="115.00" width="13.28" height="1.05" fill="#eef5de"/><rect x="60.20" y="116.00" width="13.28" height="1.05" fill="#eef6de"/><rect x="60.20" y="117.00" width="13.28" height="1.05" fill="#f2f7d8"/><rect x="60.20" y="118.00" width="13.28" height="1.05" fill="#f0f6db"/><rect x="60.20" y="119.00" width="13.28" height="1.05" fill="#ebf4e2"/><rect x="60.20" y="120.00" width="13.28" height="1.05" fill="#e8f3e7"/><rect x="60.20" y="121.00" width="13.28" height="1.05" fill="#edf5e0"/><rect x="60.20" y="122.00" width="13.28" height="1.05" fill="#ebf4e3"/><rect x="60.20" y="123.00" width="13.28" height="1.05" fill="#e9f3e5"/><rect x="60.20" y="124.00" width="13.28" height="1.05" fill="#eef6de"/><rect x="60.20" y="125.00" width="13.28" height="1.05" fill="#ecf5e1"/><rect x="60.20" y="126.00" width="13.28" height="1.05" fill="#eff6dd"/><rect x="60.20" y="127.00" width="13.28" height="1.05" fill="#f1f7da"/><rect x="60.20" y="128.00" width="13.28" height="1.05" fill="#ecf5e0"/><rect x="60.20" y="129.00" width="13.28" height="1.05" fill="#fafbcd"/><rect x="60.20" y="130.00" width="13.28" height="1.05" fill="#edf5e0"/><rect x="60.20" y="131.00" width="13.28" height="1.05" fill="#f4f8d6"/><rect x="60.20" y="132.00" width="13.28" height="1.05" fill="#eff6dd"/><rect x="60.20" y="133.00" width="13.28" height="1.05" fill="#f4f8d6"/><rect x="60.20" y="134.00" width="13.28" height="1.05" fill="#fbfacb"/><rect x="60.20" y="135.00" width="13.28" height="1.05" fill="#fbeebf"/><rect x="60.20" y="136.00" width="13.28" height="1.05" fill="#f8fad0"/><rect x="60.20" y="137.00" width="13.28" height="1.05" fill="#fafbce"/><rect x="60.20" y="138.00" width="13.28" height="1.05" fill="#fbf0c1"/><rect x="60.20" y="139.00" width="13.28" height="1.05" fill="#f8fad0"/><rect x="60.20" y="140.00" width="13.28" height="1.05" fill="#fbf8c9"/><rect x="60.20" y="141.00" width="13.28" height="1.05" fill="#fbd1a0"/><rect x="60.20" y="142.00" width="13.28" height="1.05" fill="#fbd09f"/><rect x="60.20" y="143.00" width="13.28" height="1.05" fill="#fbebbb"/><rect x="60.20" y="144.00" width="13.28" height="1.05" fill="#fca370"/><rect x="60.20" y="145.00" width="13.28" height="1.05" fill="#fc9663"/><rect x="60.20" y="146.00" width="13.28" height="1.05" fill="#fbebbb"/><rect x="60.20" y="147.00" width="13.28" height="1.05" fill="#fbdaaa"/><rect x="60.20" y="148.00" width="13.28" height="1.05" fill="#fbdeae"/><rect x="60.20" y="149.00" width="13.28" height="1.05" fill="#fbd5a4"/><rect x="60.20" y="150.00" width="13.28" height="1.05" fill="#fbc796"/><rect x="60.20" y="151.00" width="13.28" height="1.05" fill="#fbd8a8"/><rect x="60.20" y="152.00" width="13.28" height="1.05" fill="#fbd7a6"/><rect x="60.20" y="153.00" width="13.28" height="1.05" fill="#fbce9d"/><rect x="60.20" y="154.00" width="13.28" height="1.05" fill="#fbd7a6"/><rect x="60.20" y="155.00" width="13.28" height="1.05" fill="#fbddac"/><rect x="60.20" y="156.00" width="13.28" height="1.05" fill="#fbd5a4"/><rect x="60.20" y="157.00" width="13.28" height="1.05" fill="#fbd2a2"/><rect x="60.20" y="158.00" width="13.28" height="1.05" fill="#fbd2a1"/><rect x="60.20" y="159.00" width="13.28" height="1.05" fill="#fbdcac"/><rect x="60.20" y="160.00" width="13.28" height="1.05" fill="#fbca99"/><rect x="60.20" y="161.00" width="13.28" height="1.05" fill="#fbcb99"/><rect x="60.20" y="162.00" width="13.28" height="1.05" fill="#fbd7a6"/><rect x="60.20" y="163.00" width="13.28" height="1.05" fill="#fbd5a4"/><rect x="60.20" y="164.00" width="13.28" height="1.05" fill="#fcc290"/><rect x="60.20" y="165.00" width="13.28" height="1.05" fill="#fca471"/><rect x="60.20" y="166.00" width="13.28" height="1.05" fill="#fbfacb"/><rect x="60.20" y="167.00" width="13.28" height="1.05" fill="#fbf0c1"/><rect x="60.20" y="168.00" width="13.28" height="1.05" fill="#fbf8c9"/><rect x="60.20" y="169.00" width="13.28" height="1.05" fill="#fbfacb"/><rect x="60.20" y="170.00" width="13.28" height="1.05" fill="#fbf0c0"/><rect x="60.20" y="171.00" width="13.28" height="1.05" fill="#fbebbc"/><rect x="60.20" y="172.00" width="13.28" height="1.05" fill="#fbf5c6"/><rect x="60.20" y="173.00" width="13.28" height="1.05" fill="#fbfacb"/><rect x="60.20" y="174.00" width="13.28" height="1.05" fill="#fbefc0"/><rect x="60.20" y="175.00" width="13.28" height="1.05" fill="#fbf5c6"/><rect x="60.20" y="176.00" width="13.28" height="1.05" fill="#fbf3c3"/><rect x="60.20" y="177.00" width="13.28" height="1.05" fill="#fbeaba"/><rect x="60.20" y="178.00" width="13.28" height="1.05" fill="#fbedbd"/><rect x="60.20" y="179.00" width="13.28" height="1.05" fill="#fbf9ca"/><rect x="60.20" y="180.00" width="13.28" height="1.05" fill="#fbe4b4"/><rect x="73.43" y="39.00" width="13.28" height="1.05" fill="#e6f2e9"/><rect x="73.43" y="40.00" width="13.28" height="1.05" fill="#eaf4e4"/><rect x="73.43" y="41.00" width="13.28" height="1.05" fill="#e3f1ee"/><rect x="73.43" y="42.00" width="13.28" height="1.05" fill="#e6f2e9"/><rect x="73.43" y="43.00" width="13.28" height="1.05" fill="#dceef3"/><rect x="73.43" y="44.00" width="13.28" height="1.05" fill="#bbd9e9"/><rect x="73.43" y="45.00" width="13.28" height="1.05" fill="#b9d8e8"/><rect x="73.43" y="46.00" width="13.28" height="1.05" fill="#e4f2ec"/><rect x="73.43" y="47.00" width="13.28" height="1.05" fill="#e3f1ee"/><rect x="73.43" y="48.00" width="13.28" height="1.05" fill="#e2f1ee"/><rect x="73.43" y="49.00" width="13.28" height="1.05" fill="#f0f6db"/><rect x="73.43" y="50.00" width="13.28" height="1.05" fill="#fbe0b0"/><rect x="73.43" y="51.00" width="13.28" height="1.05" fill="#fbddad"/><rect x="73.43" y="52.00" width="13.28" height="1.05" fill="#fbdfaf"/><rect x="73.43" y="53.00" width="13.28" height="1.05" fill="#eaf4e4"/><rect x="73.43" y="54.00" width="13.28" height="1.05" fill="#e5f2eb"/><rect x="73.43" y="55.00" width="13.28" height="1.05" fill="#eaf4e3"/><rect x="73.43" y="56.00" width="13.28" height="1.05" fill="#e3f1ed"/><rect x="73.43" y="57.00" width="13.28" height="1.05" fill="#eaf4e4"/><rect x="73.43" y="58.00" width="13.28" height="1.05" fill="#ecf5e1"/><rect x="73.43" y="59.00" width="13.28" height="1.05" fill="#edf5e0"/><rect x="73.43" y="60.00" width="13.28" height="1.05" fill="#e9f4e5"/><rect x="73.43" y="61.00" width="13.28" height="1.05" fill="#e6f2e9"/><rect x="73.43" y="62.00" width="13.28" height="1.05" fill="#ebf4e2"/><rect x="73.43" y="63.00" width="13.28" height="1.05" fill="#e8f3e7"/><rect x="73.43" y="64.00" width="13.28" height="1.05" fill="#f2f7d8"/><rect x="73.43" y="65.00" width="13.28" height="1.05" fill="#eef6de"/><rect x="73.43" y="66.00" width="13.28" height="1.05" fill="#eaf4e4"/><rect x="73.43" y="67.00" width="13.28" height="1.05" fill="#e8f3e6"/><rect x="73.43" y="68.00" width="13.28" height="1.05" fill="#e7f3e8"/><rect x="73.43" y="69.00" width="13.28" height="1.05" fill="#e5f2ea"/><rect x="73.43" y="70.00" width="13.28" height="1.05" fill="#e8f3e6"/><rect x="73.43" y="71.00" width="13.28" height="1.05" fill="#ecf5e1"/><rect x="73.43" y="72.00" width="13.28" height="1.05" fill="#edf5e0"/><rect x="73.43" y="73.00" width="13.28" height="1.05" fill="#edf5df"/><rect x="73.43" y="74.00" width="13.28" height="1.05" fill="#f5f8d5"/><rect x="73.43" y="75.00" width="13.28" height="1.05" fill="#e7f3e8"/><rect x="73.43" y="76.00" width="13.28" height="1.05" fill="#fbf8c9"/><rect x="73.43" y="77.00" width="13.28" height="1.05" fill="#fbe4b4"/><rect x="73.43" y="78.00" width="13.28" height="1.05" fill="#f4f8d6"/><rect x="73.43" y="79.00" width="13.28" height="1.05" fill="#fafbcd"/><rect x="73.43" y="80.00" width="13.28" height="1.05" fill="#fbf7c8"/><rect x="73.43" y="81.00" width="13.28" height="1.05" fill="#fbf7c8"/><rect x="73.43" y="82.00" width="13.28" height="1.05" fill="#fbf5c6"/><rect x="73.43" y="83.00" width="13.28" height="1.05" fill="#fbfacb"/><rect x="73.43" y="84.00" width="13.28" height="1.05" fill="#fbf5c6"/><rect x="73.43" y="85.00" width="13.28" height="1.05" fill="#fbf8c8"/><rect x="73.43" y="86.00" width="13.28" height="1.05" fill="#fbf2c3"/><rect x="73.43" y="87.00" width="13.28" height="1.05" fill="#f4f8d6"/><rect x="73.43" y="88.00" width="13.28" height="1.05" fill="#f9facf"/><rect x="73.43" y="89.00" width="13.28" height="1.05" fill="#fbf8c9"/><rect x="73.43" y="90.00" width="13.28" height="1.05" fill="#f8fad0"/><rect x="73.43" y="91.00" width="13.28" height="1.05" fill="#f8fad0"/><rect x="73.43" y="92.00" width="13.28" height="1.05" fill="#fbf3c4"/><rect x="73.43" y="93.00" width="13.28" height="1.05" fill="#fafbce"/><rect x="73.43" y="94.00" width="13.28" height="1.05" fill="#fbf3c4"/><rect x="73.43" y="95.00" width="13.28" height="1.05" fill="#f2f7d8"/><rect x="73.43" y="96.00" width="13.28" height="1.05" fill="#f0f6db"/><rect x="73.43" y="97.00" width="13.28" height="1.05" fill="#f1f7da"/><rect x="73.43" y="98.00" width="13.28" height="1.05" fill="#eef6de"/><rect x="73.43" y="99.00" width="13.28" height="1.05" fill="#e7f3e7"/><rect x="73.43" y="100.00" width="13.28" height="1.05" fill="#eef6de"/><rect x="73.43" y="101.00" width="13.28" height="1.05" fill="#f1f7da"/><rect x="73.43" y="102.00" width="13.28" height="1.05" fill="#ecf5e1"/><rect x="73.43" y="103.00" width="13.28" height="1.05" fill="#eef6de"/><rect x="73.43" y="104.00" width="13.28" height="1.05" fill="#f2f7d8"/><rect x="73.43" y="105.00" width="13.28" height="1.05" fill="#eaf4e4"/><rect x="73.43" y="106.00" width="13.28" height="1.05" fill="#f2f7d9"/><rect x="73.43" y="107.00" width="13.28" height="1.05" fill="#cae2ed"/><rect x="73.43" y="108.00" width="13.28" height="1.05" fill="#f0f6db"/><rect x="73.43" y="109.00" width="13.28" height="1.05" fill="#f3f8d7"/><rect x="73.43" y="110.00" width="13.28" height="1.05" fill="#f2f7d9"/><rect x="73.43" y="111.00" width="13.28" height="1.05" fill="#fafbcd"/><rect x="73.43" y="112.00" width="13.28" height="1.05" fill="#f4f8d5"/><rect x="73.43" y="113.00" width="13.28" height="1.05" fill="#f7f9d1"/><rect x="73.43" y="114.00" width="13.28" height="1.05" fill="#fbeebe"/><rect x="73.43" y="115.00" width="13.28" height="1.05" fill="#fbe9b9"/><rect x="73.43" y="116.00" width="13.28" height="1.05" fill="#fbe9b9"/><rect x="73.43" y="117.00" width="13.28" height="1.05" fill="#fbf6c7"/><rect x="73.43" y="118.00" width="13.28" height="1.05" fill="#fbcc9b"/><rect x="73.43" y="119.00" width="13.28" height="1.05" fill="#fbd09f"/><rect x="73.43" y="120.00" width="13.28" height="1.05" fill="#e1f0ef"/><rect x="73.43" y="121.00" width="13.28" height="1.05" fill="#eef6de"/><rect x="73.43" y="122.00" width="13.28" height="1.05" fill="#eaf4e4"/><rect x="73.43" y="123.00" width="13.28" height="1.05" fill="#ecf5e0"/><rect x="73.43" y="124.00" width="13.28" height="1.05" fill="#ecf5e1"/><rect x="73.43" y="125.00" width="13.28" height="1.05" fill="#e3f1ee"/><rect x="73.43" y="126.00" width="13.28" height="1.05" fill="#e9f4e5"/><rect x="73.43" y="127.00" width="13.28" height="1.05" fill="#f2f7d9"/><rect x="73.43" y="128.00" width="13.28" height="1.05" fill="#e7f3e7"/><rect x="73.43" y="129.00" width="13.28" height="1.05" fill="#e5f2ea"/><rect x="73.43" y="130.00" width="13.28" height="1.05" fill="#e3f1ed"/><rect x="73.43" y="131.00" width="13.28" height="1.05" fill="#e4f1ec"/><rect x="73.43" y="132.00" width="13.28" height="1.05" fill="#ecf5e1"/><rect x="73.43" y="133.00" width="13.28" height="1.05" fill="#f3f8d7"/><rect x="73.43" y="134.00" width="13.28" height="1.05" fill="#ecf5e0"/><rect x="73.43" y="135.00" width="13.28" height="1.05" fill="#ebf5e1"/><rect x="73.43" y="136.00" width="13.28" height="1.05" fill="#f5f9d4"/><rect x="73.43" y="137.00" width="13.28" height="1.05" fill="#fbdaaa"/><rect x="73.43" y="138.00" width="13.28" height="1.05" fill="#fbdcab"/><rect x="73.43" y="139.00" width="13.28" height="1.05" fill="#f9face"/><rect x="73.43" y="140.00" width="13.28" height="1.05" fill="#faface"/><rect x="73.43" y="141.00" width="13.28" height="1.05" fill="#f2f7d9"/><rect x="73.43" y="142.00" width="13.28" height="1.05" fill="#f1f7da"/><rect x="73.43" y="143.00" width="13.28" height="1.05" fill="#f8fad0"/><rect x="73.43" y="144.00" width="13.28" height="1.05" fill="#f8fad0"/><rect x="73.43" y="145.00" width="13.28" height="1.05" fill="#f0f7db"/><rect x="73.43" y="146.00" width="13.28" height="1.05" fill="#fbdeae"/><rect x="73.43" y="147.00" width="13.28" height="1.05" fill="#fbe1b0"/><rect x="73.43" y="148.00" width="13.28" height="1.05" fill="#fbd9a9"/><rect x="73.43" y="149.00" width="13.28" height="1.05" fill="#fbdead"/><rect x="73.43" y="150.00" width="13.28" height="1.05" fill="#fbf6c6"/><rect x="73.43" y="151.00" width="13.28" height="1.05" fill="#fbf8c8"/><rect x="73.43" y="152.00" width="13.28" height="1.05" fill="#fbedbe"/><rect x="73.43" y="153.00" width="13.28" height="1.05" fill="#fbebbb"/><rect x="73.43" y="154.00" width="13.28" height="1.05" fill="#fbf8c8"/><rect x="73.43" y="155.00" width="13.28" height="1.05" fill="#fbefbf"/><rect x="73.43" y="156.00" width="13.28" height="1.05" fill="#fbfacb"/><rect x="73.43" y="157.00" width="13.28" height="1.05" fill="#fbf4c5"/><rect x="73.43" y="158.00" width="13.28" height="1.05" fill="#fbf0c0"/><rect x="73.43" y="159.00" width="13.28" height="1.05" fill="#fbeaba"/><rect x="73.43" y="160.00" width="13.28" height="1.05" fill="#fbf8c9"/><rect x="73.43" y="161.00" width="13.28" height="1.05" fill="#fbf5c6"/><rect x="73.43" y="162.00" width="13.28" height="1.05" fill="#fbf4c4"/><rect x="73.43" y="163.00" width="13.28" height="1.05" fill="#fbfacb"/><rect x="73.43" y="164.00" width="13.28" height="1.05" fill="#fbefbf"/><rect x="73.43" y="165.00" width="13.28" height="1.05" fill="#fbf4c4"/><rect x="73.43" y="166.00" width="13.28" height="1.05" fill="#fbecbd"/><rect x="73.43" y="167.00" width="13.28" height="1.05" fill="#fbd9a8"/><rect x="73.43" y="168.00" width="13.28" height="1.05" fill="#fbdfaf"/><rect x="73.43" y="169.00" width="13.28" height="1.05" fill="#fbd09f"/><rect x="73.43" y="170.00" width="13.28" height="1.05" fill="#fbcf9e"/><rect x="73.43" y="171.00" width="13.28" height="1.05" fill="#dfeff3"/><rect x="73.43" y="172.00" width="13.28" height="1.05" fill="#e6f2e9"/><rect x="73.43" y="173.00" width="13.28" height="1.05" fill="#e0f0f1"/><rect x="73.43" y="174.00" width="13.28" height="1.05" fill="#dfeff3"/><rect x="73.43" y="175.00" width="13.28" height="1.05" fill="#e4f2eb"/><rect x="73.43" y="176.00" width="13.28" height="1.05" fill="#d3e8f0"/><rect x="73.43" y="177.00" width="13.28" height="1.05" fill="#deeff4"/><rect x="73.43" y="178.00" width="13.28" height="1.05" fill="#e2f1ef"/><rect x="73.43" y="179.00" width="13.28" height="1.05" fill="#e6f2e9"/><rect x="73.43" y="180.00" width="13.28" height="1.05" fill="#e1f0f0"/><rect x="86.67" y="39.00" width="13.28" height="1.05" fill="#fca977"/><rect x="86.67" y="40.00" width="13.28" height="1.05" fill="#fbe8b8"/><rect x="86.67" y="41.00" width="13.28" height="1.05" fill="#fbe1b0"/><rect x="86.67" y="42.00" width="13.28" height="1.05" fill="#fbd7a6"/><rect x="86.67" y="43.00" width="13.28" height="1.05" fill="#f3f8d7"/><rect x="86.67" y="44.00" width="13.28" height="1.05" fill="#fbf0c0"/><rect x="86.67" y="45.00" width="13.28" height="1.05" fill="#f4f8d6"/><rect x="86.67" y="46.00" width="13.28" height="1.05" fill="#f7f9d2"/><rect x="86.67" y="47.00" width="13.28" height="1.05" fill="#f8fad1"/><rect x="86.67" y="48.00" width="13.28" height="1.05" fill="#fbfacb"/><rect x="86.67" y="49.00" width="13.28" height="1.05" fill="#fbe0af"/><rect x="86.67" y="50.00" width="13.28" height="1.05" fill="#fbe6b6"/><rect x="86.67" y="51.00" width="13.28" height="1.05" fill="#fbd2a1"/><rect x="86.67" y="52.00" width="13.28" height="1.05" fill="#fbd1a0"/><rect x="86.67" y="53.00" width="13.28" height="1.05" fill="#fbd2a1"/><rect x="86.67" y="54.00" width="13.28" height="1.05" fill="#fbeebe"/><rect x="86.67" y="55.00" width="13.28" height="1.05" fill="#f8fad0"/><rect x="86.67" y="56.00" width="13.28" height="1.05" fill="#f8fad0"/><rect x="86.67" y="57.00" width="13.28" height="1.05" fill="#fbfacb"/><rect x="86.67" y="58.00" width="13.28" height="1.05" fill="#f9facf"/><rect x="86.67" y="59.00" width="13.28" height="1.05" fill="#fbf5c6"/><rect x="86.67" y="60.00" width="13.28" height="1.05" fill="#fbe6b6"/><rect x="86.67" y="61.00" width="13.28" height="1.05" fill="#fbdfaf"/><rect x="86.67" y="62.00" width="13.28" height="1.05" fill="#fbf6c7"/><rect x="86.67" y="63.00" width="13.28" height="1.05" fill="#fbd7a6"/><rect x="86.67" y="64.00" width="13.28" height="1.05" fill="#f5f8d4"/><rect x="86.67" y="65.00" width="13.28" height="1.05" fill="#fbfacb"/><rect x="86.67" y="66.00" width="13.28" height="1.05" fill="#fbf1c2"/><rect x="86.67" y="67.00" width="13.28" height="1.05" fill="#f7f9d2"/><rect x="86.67" y="68.00" width="13.28" height="1.05" fill="#f6f9d4"/><rect x="86.67" y="69.00" width="13.28" height="1.05" fill="#f4f8d5"/><rect x="86.67" y="70.00" width="13.28" height="1.05" fill="#f3f8d8"/><rect x="86.67" y="71.00" width="13.28" height="1.05" fill="#f4f8d6"/><rect x="86.67" y="72.00" width="13.28" height="1.05" fill="#fafbcd"/><rect x="86.67" y="73.00" width="13.28" height="1.05" fill="#f7f9d2"/><rect x="86.67" y="74.00" width="13.28" height="1.05" fill="#f7f9d1"/><rect x="86.67" y="75.00" width="13.28" height="1.05" fill="#f6f9d3"/><rect x="86.67" y="76.00" width="13.28" height="1.05" fill="#fbfacb"/><rect x="86.67" y="77.00" width="13.28" height="1.05" fill="#f9face"/><rect x="86.67" y="78.00" width="13.28" height="1.05" fill="#f6f9d3"/><rect x="86.67" y="79.00" width="13.28" height="1.05" fill="#fafbcd"/><rect x="86.67" y="80.00" width="13.28" height="1.05" fill="#f6f9d3"/><rect x="86.67" y="81.00" width="13.28" height="1.05" fill="#f1f7da"/><rect x="86.67" y="82.00" width="13.28" height="1.05" fill="#fbf6c7"/><rect x="86.67" y="83.00" width="13.28" height="1.05" fill="#f9facf"/><rect x="86.67" y="84.00" width="13.28" height="1.05" fill="#fbf0c0"/><rect x="86.67" y="85.00" width="13.28" height="1.05" fill="#fbe1b1"/><rect x="86.67" y="86.00" width="13.28" height="1.05" fill="#fbf8c9"/><rect x="86.67" y="87.00" width="13.28" height="1.05" fill="#f3f8d7"/><rect x="86.67" y="88.00" width="13.28" height="1.05" fill="#fbefc0"/><rect x="86.67" y="89.00" width="13.28" height="1.05" fill="#fbf9c9"/><rect x="86.67" y="90.00" width="13.28" height="1.05" fill="#fbf5c5"/><rect x="86.67" y="91.00" width="13.28" height="1.05" fill="#fbfaca"/><rect x="86.67" y="92.00" width="13.28" height="1.05" fill="#fafbcd"/><rect x="86.67" y="93.00" width="13.28" height="1.05" fill="#fbf1c2"/><rect x="86.67" y="94.00" width="13.28" height="1.05" fill="#fbdfae"/><rect x="86.67" y="95.00" width="13.28" height="1.05" fill="#d2e8f0"/><rect x="86.67" y="96.00" width="13.28" height="1.05" fill="#d0e6ef"/><rect x="86.67" y="97.00" width="13.28" height="1.05" fill="#f9facf"/><rect x="86.67" y="98.00" width="13.28" height="1.05" fill="#f7f9d1"/><rect x="86.67" y="99.00" width="13.28" height="1.05" fill="#fafbcd"/><rect x="86.67" y="100.00" width="13.28" height="1.05" fill="#f5f8d4"/><rect x="86.67" y="101.00" width="13.28" height="1.05" fill="#f7f9d2"/><rect x="86.67" y="102.00" width="13.28" height="1.05" fill="#ecf5e1"/><rect x="86.67" y="103.00" width="13.28" height="1.05" fill="#f5f8d5"/><rect x="86.67" y="104.00" width="13.28" height="1.05" fill="#fafbcd"/><rect x="86.67" y="105.00" width="13.28" height="1.05" fill="#fbf7c8"/><rect x="86.67" y="106.00" width="13.28" height="1.05" fill="#f5f9d4"/><rect x="86.67" y="107.00" width="13.28" height="1.05" fill="#f6f9d3"/><rect x="86.67" y="108.00" width="13.28" height="1.05" fill="#fbf6c6"/><rect x="86.67" y="109.00" width="13.28" height="1.05" fill="#f5f9d4"/><rect x="86.67" y="110.00" width="13.28" height="1.05" fill="#fafbcd"/><rect x="86.67" y="111.00" width="13.28" height="1.05" fill="#fbf5c6"/><rect x="86.67" y="112.00" width="13.28" height="1.05" fill="#f7f9d2"/><rect x="86.67" y="113.00" width="13.28" height="1.05" fill="#fbf8c9"/><rect x="86.67" y="114.00" width="13.28" height="1.05" fill="#f3f8d7"/><rect x="86.67" y="115.00" width="13.28" height="1.05" fill="#f8fad0"/><rect x="86.67" y="116.00" width="13.28" height="1.05" fill="#f6f9d2"/><rect x="86.67" y="117.00" width="13.28" height="1.05" fill="#f7f9d1"/><rect x="86.67" y="118.00" width="13.28" height="1.05" fill="#fbf9ca"/><rect x="86.67" y="119.00" width="13.28" height="1.05" fill="#fbf0c0"/><rect x="86.67" y="120.00" width="13.28" height="1.05" fill="#f3f8d6"/><rect x="86.67" y="121.00" width="13.28" height="1.05" fill="#f4f8d6"/><rect x="86.67" y="122.00" width="13.28" height="1.05" fill="#f9face"/><rect x="86.67" y="123.00" width="13.28" height="1.05" fill="#f1f7d9"/><rect x="86.67" y="124.00" width="13.28" height="1.05" fill="#f9face"/><rect x="86.67" y="125.00" width="13.28" height="1.05" fill="#faface"/><rect x="86.67" y="126.00" width="13.28" height="1.05" fill="#f5f9d4"/><rect x="86.67" y="127.00" width="13.28" height="1.05" fill="#f9face"/><rect x="86.67" y="128.00" width="13.28" height="1.05" fill="#fbf4c5"/><rect x="86.67" y="129.00" width="13.28" height="1.05" fill="#fbe3b3"/><rect x="86.67" y="130.00" width="13.28" height="1.05" fill="#fbf4c5"/><rect x="86.67" y="131.00" width="13.28" height="1.05" fill="#fbeebe"/><rect x="86.67" y="132.00" width="13.28" height="1.05" fill="#fbedbd"/><rect x="86.67" y="133.00" width="13.28" height="1.05" fill="#fbecbc"/><rect x="86.67" y="134.00" width="13.28" height="1.05" fill="#fbe3b3"/><rect x="86.67" y="135.00" width="13.28" height="1.05" fill="#fbf4c5"/><rect x="86.67" y="136.00" width="13.28" height="1.05" fill="#fbf8c9"/><rect x="86.67" y="137.00" width="13.28" height="1.05" fill="#fbc795"/><rect x="86.67" y="138.00" width="13.28" height="1.05" fill="#fcbf8d"/><rect x="86.67" y="139.00" width="13.28" height="1.05" fill="#fbefbf"/><rect x="86.67" y="140.00" width="13.28" height="1.05" fill="#fbecbd"/><rect x="86.67" y="141.00" width="13.28" height="1.05" fill="#fcb785"/><rect x="86.67" y="142.00" width="13.28" height="1.05" fill="#fcc391"/><rect x="86.67" y="143.00" width="13.28" height="1.05" fill="#fbf2c3"/><rect x="86.67" y="144.00" width="13.28" height="1.05" fill="#fbd7a6"/><rect x="86.67" y="145.00" width="13.28" height="1.05" fill="#fa8756"/><rect x="86.67" y="146.00" width="13.28" height="1.05" fill="#fbc795"/><rect x="86.67" y="147.00" width="13.28" height="1.05" fill="#fcb07d"/><rect x="86.67" y="148.00" width="13.28" height="1.05" fill="#fbce9d"/><rect x="86.67" y="149.00" width="13.28" height="1.05" fill="#fbca98"/><rect x="86.67" y="150.00" width="13.28" height="1.05" fill="#fbcc9b"/><rect x="86.67" y="151.00" width="13.28" height="1.05" fill="#fbd3a2"/><rect x="86.67" y="152.00" width="13.28" height="1.05" fill="#fbd8a8"/><rect x="86.67" y="153.00" width="13.28" height="1.05" fill="#fbd09f"/><rect x="86.67" y="154.00" width="13.28" height="1.05" fill="#fbc998"/><rect x="86.67" y="155.00" width="13.28" height="1.05" fill="#fbd9a8"/><rect x="86.67" y="156.00" width="13.28" height="1.05" fill="#fbd8a8"/><rect x="86.67" y="157.00" width="13.28" height="1.05" fill="#fbf5c6"/><rect x="86.67" y="158.00" width="13.28" height="1.05" fill="#f5f9d4"/><rect x="86.67" y="159.00" width="13.28" height="1.05" fill="#fbf7c8"/><rect x="86.67" y="160.00" width="13.28" height="1.05" fill="#fbf8c9"/><rect x="86.67" y="161.00" width="13.28" height="1.05" fill="#fbf2c2"/><rect x="86.67" y="162.00" width="13.28" height="1.05" fill="#fbfacb"/><rect x="86.67" y="163.00" width="13.28" height="1.05" fill="#fbfbcc"/><rect x="86.67" y="164.00" width="13.28" height="1.05" fill="#fbf8c9"/><rect x="86.67" y="165.00" width="13.28" height="1.05" fill="#fcbf8d"/><rect x="86.67" y="166.00" width="13.28" height="1.05" fill="#fcc392"/><rect x="86.67" y="167.00" width="13.28" height="1.05" fill="#fcbe8d"/><rect x="86.67" y="168.00" width="13.28" height="1.05" fill="#fcb17e"/><rect x="86.67" y="169.00" width="13.28" height="1.05" fill="#fca976"/><rect x="86.67" y="170.00" width="13.28" height="1.05" fill="#fc9f6c"/><rect x="86.67" y="171.00" width="13.28" height="1.05" fill="#fbfbcc"/><rect x="86.67" y="172.00" width="13.28" height="1.05" fill="#fbf8c9"/><rect x="86.67" y="173.00" width="13.28" height="1.05" fill="#f3f8d7"/><rect x="86.67" y="174.00" width="13.28" height="1.05" fill="#fbe7b7"/><rect x="86.67" y="175.00" width="13.28" height="1.05" fill="#fbfacb"/><rect x="86.67" y="176.00" width="13.28" height="1.05" fill="#fbf5c6"/><rect x="86.67" y="177.00" width="13.28" height="1.05" fill="#fbf1c2"/><rect x="86.67" y="178.00" width="13.28" height="1.05" fill="#f8fad0"/><rect x="86.67" y="179.00" width="13.28" height="1.05" fill="#fbf2c2"/><rect x="86.67" y="180.00" width="13.28" height="1.05" fill="#fbf5c6"/><rect x="101.20" y="39.00" width="13.25" height="1.05" fill="#f6f9d3"/><rect x="101.20" y="40.00" width="13.25" height="1.05" fill="#fbf3c3"/><rect x="101.20" y="41.00" width="13.25" height="1.05" fill="#fbecbd"/><rect x="101.20" y="42.00" width="13.25" height="1.05" fill="#f6f9d3"/><rect x="101.20" y="43.00" width="13.25" height="1.05" fill="#fbefc0"/><rect x="101.20" y="44.00" width="13.25" height="1.05" fill="#c5dfec"/><rect x="101.20" y="45.00" width="13.25" height="1.05" fill="#fbf2c2"/><rect x="101.20" y="46.00" width="13.25" height="1.05" fill="#fbf2c2"/><rect x="101.20" y="47.00" width="13.25" height="1.05" fill="#fbebbc"/><rect x="101.20" y="48.00" width="13.25" height="1.05" fill="#fbf7c7"/><rect x="101.20" y="49.00" width="13.25" height="1.05" fill="#fbefbf"/><rect x="101.20" y="50.00" width="13.25" height="1.05" fill="#fbdaa9"/><rect x="101.20" y="51.00" width="13.25" height="1.05" fill="#fbf0c0"/><rect x="101.20" y="52.00" width="13.25" height="1.05" fill="#fbfbcc"/><rect x="101.20" y="53.00" width="13.25" height="1.05" fill="#fbf6c6"/><rect x="101.20" y="54.00" width="13.25" height="1.05" fill="#fbe8b9"/><rect x="101.20" y="55.00" width="13.25" height="1.05" fill="#fbf2c2"/><rect x="101.20" y="56.00" width="13.25" height="1.05" fill="#fbf6c7"/><rect x="101.20" y="57.00" width="13.25" height="1.05" fill="#f9face"/><rect x="101.20" y="58.00" width="13.25" height="1.05" fill="#fbfbcc"/><rect x="101.20" y="59.00" width="13.25" height="1.05" fill="#c5dfec"/><rect x="101.20" y="60.00" width="13.25" height="1.05" fill="#fbe5b5"/><rect x="101.20" y="61.00" width="13.25" height="1.05" fill="#fbe9b9"/><rect x="101.20" y="62.00" width="13.25" height="1.05" fill="#fbe8b8"/><rect x="101.20" y="63.00" width="13.25" height="1.05" fill="#fbecbd"/><rect x="101.20" y="64.00" width="13.25" height="1.05" fill="#fbe2b2"/><rect x="101.20" y="65.00" width="13.25" height="1.05" fill="#fbefbf"/><rect x="101.20" y="66.00" width="13.25" height="1.05" fill="#fbf0c0"/><rect x="101.20" y="67.00" width="13.25" height="1.05" fill="#fbe5b5"/><rect x="101.20" y="68.00" width="13.25" height="1.05" fill="#fbebbc"/><rect x="101.20" y="69.00" width="13.25" height="1.05" fill="#fbeebe"/><rect x="101.20" y="70.00" width="13.25" height="1.05" fill="#fbf0c1"/><rect x="101.20" y="71.00" width="13.25" height="1.05" fill="#fbeebe"/><rect x="101.20" y="72.00" width="13.25" height="1.05" fill="#fbe7b7"/><rect x="101.20" y="73.00" width="13.25" height="1.05" fill="#fbe9ba"/><rect x="101.20" y="74.00" width="13.25" height="1.05" fill="#fbf5c5"/><rect x="101.20" y="75.00" width="13.25" height="1.05" fill="#fbe9b9"/><rect x="101.20" y="76.00" width="13.25" height="1.05" fill="#fbf1c1"/><rect x="101.20" y="77.00" width="13.25" height="1.05" fill="#fbf9ca"/><rect x="101.20" y="78.00" width="13.25" height="1.05" fill="#fbecbd"/><rect x="101.20" y="79.00" width="13.25" height="1.05" fill="#fbf4c5"/><rect x="101.20" y="80.00" width="13.25" height="1.05" fill="#fbf4c5"/><rect x="101.20" y="81.00" width="13.25" height="1.05" fill="#fbecbc"/><rect x="101.20" y="82.00" width="13.25" height="1.05" fill="#fbf7c8"/><rect x="101.20" y="83.00" width="13.25" height="1.05" fill="#f3f8d7"/><rect x="101.20" y="84.00" width="13.25" height="1.05" fill="#fbf8c9"/><rect x="101.20" y="85.00" width="13.25" height="1.05" fill="#f7f9d2"/><rect x="101.20" y="86.00" width="13.25" height="1.05" fill="#fbcc9b"/><rect x="101.20" y="87.00" width="13.25" height="1.05" fill="#fbe0b0"/><rect x="101.20" y="88.00" width="13.25" height="1.05" fill="#fbd4a3"/><rect x="101.20" y="89.00" width="13.25" height="1.05" fill="#fbe1b1"/><rect x="101.20" y="90.00" width="13.25" height="1.05" fill="#fbd7a6"/><rect x="101.20" y="91.00" width="13.25" height="1.05" fill="#fbcd9c"/><rect x="101.20" y="92.00" width="13.25" height="1.05" fill="#fbefc0"/><rect x="101.20" y="93.00" width="13.25" height="1.05" fill="#fbe0b0"/><rect x="101.20" y="94.00" width="13.25" height="1.05" fill="#fbd9a9"/><rect x="101.20" y="95.00" width="13.25" height="1.05" fill="#fbddad"/><rect x="101.20" y="96.00" width="13.25" height="1.05" fill="#fbe2b1"/><rect x="101.20" y="97.00" width="13.25" height="1.05" fill="#fbcd9c"/><rect x="101.20" y="98.00" width="13.25" height="1.05" fill="#fbdcac"/><rect x="101.20" y="99.00" width="13.25" height="1.05" fill="#fbe9b9"/><rect x="101.20" y="100.00" width="13.25" height="1.05" fill="#fbe3b3"/><rect x="101.20" y="101.00" width="13.25" height="1.05" fill="#fbf5c6"/><rect x="101.20" y="102.00" width="13.25" height="1.05" fill="#fbe0b0"/><rect x="101.20" y="103.00" width="13.25" height="1.05" fill="#fbedbd"/><rect x="101.20" y="104.00" width="13.25" height="1.05" fill="#fbe8b8"/><rect x="101.20" y="105.00" width="13.25" height="1.05" fill="#fbe0af"/><rect x="101.20" y="106.00" width="13.25" height="1.05" fill="#fbfacb"/><rect x="101.20" y="107.00" width="13.25" height="1.05" fill="#f4f8d6"/><rect x="101.20" y="108.00" width="13.25" height="1.05" fill="#fbe6b6"/><rect x="101.20" y="109.00" width="13.25" height="1.05" fill="#fbd1a0"/><rect x="101.20" y="110.00" width="13.25" height="1.05" fill="#fbd4a4"/><rect x="101.20" y="111.00" width="13.25" height="1.05" fill="#fbe0af"/><rect x="101.20" y="112.00" width="13.25" height="1.05" fill="#fbd3a3"/><rect x="101.20" y="113.00" width="13.25" height="1.05" fill="#fbd6a5"/><rect x="101.20" y="114.00" width="13.25" height="1.05" fill="#fbd5a4"/><rect x="101.20" y="115.00" width="13.25" height="1.05" fill="#fbeaba"/><rect x="101.20" y="116.00" width="13.25" height="1.05" fill="#fbdcac"/><rect x="101.20" y="117.00" width="13.25" height="1.05" fill="#fbd3a2"/><rect x="101.20" y="118.00" width="13.25" height="1.05" fill="#fbd4a4"/><rect x="101.20" y="119.00" width="13.25" height="1.05" fill="#f7f9d1"/><rect x="101.20" y="120.00" width="13.25" height="1.05" fill="#e6f2e9"/><rect x="101.20" y="121.00" width="13.25" height="1.05" fill="#f3f8d6"/><rect x="101.20" y="122.00" width="13.25" height="1.05" fill="#f5f9d4"/><rect x="101.20" y="123.00" width="13.25" height="1.05" fill="#fbf5c5"/><rect x="101.20" y="124.00" width="13.25" height="1.05" fill="#fbf0c0"/><rect x="101.20" y="125.00" width="13.25" height="1.05" fill="#fbebbc"/><rect x="101.20" y="126.00" width="13.25" height="1.05" fill="#fbe9b9"/><rect x="101.20" y="127.00" width="13.25" height="1.05" fill="#fbe2b2"/><rect x="101.20" y="128.00" width="13.25" height="1.05" fill="#f9facf"/><rect x="101.20" y="129.00" width="13.25" height="1.05" fill="#fbf3c3"/><rect x="101.20" y="130.00" width="13.25" height="1.05" fill="#f7f9d1"/><rect x="101.20" y="131.00" width="13.25" height="1.05" fill="#fbf9ca"/><rect x="101.20" y="132.00" width="13.25" height="1.05" fill="#f8fad0"/><rect x="101.20" y="133.00" width="13.25" height="1.05" fill="#fbfacb"/><rect x="101.20" y="134.00" width="13.25" height="1.05" fill="#f8fad1"/><rect x="101.20" y="135.00" width="13.25" height="1.05" fill="#fbf4c5"/><rect x="101.20" y="136.00" width="13.25" height="1.05" fill="#fbe1b1"/><rect x="101.20" y="137.00" width="13.25" height="1.05" fill="#fbe7b7"/><rect x="101.20" y="138.00" width="13.25" height="1.05" fill="#fbedbd"/><rect x="101.20" y="139.00" width="13.25" height="1.05" fill="#fbe7b7"/><rect x="101.20" y="140.00" width="13.25" height="1.05" fill="#fbe2b2"/><rect x="101.20" y="141.00" width="13.25" height="1.05" fill="#e9f4e4"/><rect x="101.20" y="142.00" width="13.25" height="1.05" fill="#eef6de"/><rect x="101.20" y="143.00" width="13.25" height="1.05" fill="#f1f7da"/><rect x="101.20" y="144.00" width="13.25" height="1.05" fill="#f1f7da"/><rect x="101.20" y="145.00" width="13.25" height="1.05" fill="#edf5e0"/><rect x="101.20" y="146.00" width="13.25" height="1.05" fill="#e4f1ec"/><rect x="101.20" y="147.00" width="13.25" height="1.05" fill="#cfe6ef"/><rect x="101.20" y="148.00" width="13.25" height="1.05" fill="#cae3ee"/><rect x="101.20" y="149.00" width="13.25" height="1.05" fill="#c9e2ed"/><rect x="101.20" y="150.00" width="13.25" height="1.05" fill="#e5f2eb"/><rect x="101.20" y="151.00" width="13.25" height="1.05" fill="#e7f3e7"/><rect x="101.20" y="152.00" width="13.25" height="1.05" fill="#e4f1ec"/><rect x="101.20" y="153.00" width="13.25" height="1.05" fill="#e1f0f0"/><rect x="101.20" y="154.00" width="13.25" height="1.05" fill="#e2f1ee"/><rect x="101.20" y="155.00" width="13.25" height="1.05" fill="#e3f1ed"/><rect x="101.20" y="156.00" width="13.25" height="1.05" fill="#e3f1ed"/><rect x="101.20" y="157.00" width="13.25" height="1.05" fill="#e0f0f1"/><rect x="101.20" y="158.00" width="13.25" height="1.05" fill="#e9f4e5"/><rect x="101.20" y="159.00" width="13.25" height="1.05" fill="#dff0f2"/><rect x="101.20" y="160.00" width="13.25" height="1.05" fill="#fbf6c7"/><rect x="101.20" y="161.00" width="13.25" height="1.05" fill="#f6f9d3"/><rect x="101.20" y="162.00" width="13.25" height="1.05" fill="#fbf8c9"/><rect x="101.20" y="163.00" width="13.25" height="1.05" fill="#fbf1c2"/><rect x="101.20" y="164.00" width="13.25" height="1.05" fill="#cae2ed"/><rect x="101.20" y="165.00" width="13.25" height="1.05" fill="#c4dfec"/><rect x="101.20" y="166.00" width="13.25" height="1.05" fill="#c9e2ed"/><rect x="101.20" y="167.00" width="13.25" height="1.05" fill="#fbeebe"/><rect x="101.20" y="168.00" width="13.25" height="1.05" fill="#fbfbcc"/><rect x="101.20" y="169.00" width="13.25" height="1.05" fill="#fbf3c4"/><rect x="101.20" y="170.00" width="13.25" height="1.05" fill="#fbeebe"/><rect x="101.20" y="171.00" width="13.25" height="1.05" fill="#fbf2c3"/><rect x="101.20" y="172.00" width="13.25" height="1.05" fill="#fbeebf"/><rect x="101.20" y="173.00" width="13.25" height="1.05" fill="#fbeaba"/><rect x="101.20" y="174.00" width="13.25" height="1.05" fill="#fbe9ba"/><rect x="101.20" y="175.00" width="13.25" height="1.05" fill="#fbe8b8"/><rect x="101.20" y="176.00" width="13.25" height="1.05" fill="#fbc695"/><rect x="101.20" y="177.00" width="13.25" height="1.05" fill="#fbcd9c"/><rect x="101.20" y="178.00" width="13.25" height="1.05" fill="#fbe9b9"/><rect x="101.20" y="179.00" width="13.25" height="1.05" fill="#fbebbb"/><rect x="101.20" y="180.00" width="13.25" height="1.05" fill="#fbebbb"/><rect x="114.40" y="39.00" width="13.25" height="1.05" fill="#fbeaba"/><rect x="114.40" y="40.00" width="13.25" height="1.05" fill="#fbf5c6"/><rect x="114.40" y="41.00" width="13.25" height="1.05" fill="#fbebbc"/><rect x="114.40" y="42.00" width="13.25" height="1.05" fill="#fbd7a6"/><rect x="114.40" y="43.00" width="13.25" height="1.05" fill="#fbdead"/><rect x="114.40" y="44.00" width="13.25" height="1.05" fill="#fbf5c6"/><rect x="114.40" y="45.00" width="13.25" height="1.05" fill="#fbf1c2"/><rect x="114.40" y="46.00" width="13.25" height="1.05" fill="#fbf6c7"/><rect x="114.40" y="47.00" width="13.25" height="1.05" fill="#fbe6b6"/><rect x="114.40" y="48.00" width="13.25" height="1.05" fill="#fbe4b4"/><rect x="114.40" y="49.00" width="13.25" height="1.05" fill="#fbd2a1"/><rect x="114.40" y="50.00" width="13.25" height="1.05" fill="#fbdeae"/><rect x="114.40" y="51.00" width="13.25" height="1.05" fill="#fbca98"/><rect x="114.40" y="52.00" width="13.25" height="1.05" fill="#fcbc8a"/><rect x="114.40" y="53.00" width="13.25" height="1.05" fill="#f3f8d8"/><rect x="114.40" y="54.00" width="13.25" height="1.05" fill="#fbf4c5"/><rect x="114.40" y="55.00" width="13.25" height="1.05" fill="#fbf1c2"/><rect x="114.40" y="56.00" width="13.25" height="1.05" fill="#fbf7c8"/><rect x="114.40" y="57.00" width="13.25" height="1.05" fill="#fbf1c1"/><rect x="114.40" y="58.00" width="13.25" height="1.05" fill="#f4f8d6"/><rect x="114.40" y="59.00" width="13.25" height="1.05" fill="#fbefbf"/><rect x="114.40" y="60.00" width="13.25" height="1.05" fill="#fbdaaa"/><rect x="114.40" y="61.00" width="13.25" height="1.05" fill="#fbddac"/><rect x="114.40" y="62.00" width="13.25" height="1.05" fill="#fbe1b1"/><rect x="114.40" y="63.00" width="13.25" height="1.05" fill="#fbd8a8"/><rect x="114.40" y="64.00" width="13.25" height="1.05" fill="#fbe0b0"/><rect x="114.40" y="65.00" width="13.25" height="1.05" fill="#fbdbab"/><rect x="114.40" y="66.00" width="13.25" height="1.05" fill="#fbe0b0"/><rect x="114.40" y="67.00" width="13.25" height="1.05" fill="#fbedbd"/><rect x="114.40" y="68.00" width="13.25" height="1.05" fill="#fbddad"/><rect x="114.40" y="69.00" width="13.25" height="1.05" fill="#fbdbab"/><rect x="114.40" y="70.00" width="13.25" height="1.05" fill="#fbd7a7"/><rect x="114.40" y="71.00" width="13.25" height="1.05" fill="#fbe3b3"/><rect x="114.40" y="72.00" width="13.25" height="1.05" fill="#fbddad"/><rect x="114.40" y="73.00" width="13.25" height="1.05" fill="#fbd8a8"/><rect x="114.40" y="74.00" width="13.25" height="1.05" fill="#fbdcab"/><rect x="114.40" y="75.00" width="13.25" height="1.05" fill="#fbd4a3"/><rect x="114.40" y="76.00" width="13.25" height="1.05" fill="#fbce9d"/><rect x="114.40" y="77.00" width="13.25" height="1.05" fill="#fbcb9a"/><rect x="114.40" y="78.00" width="13.25" height="1.05" fill="#fbd2a2"/><rect x="114.40" y="79.00" width="13.25" height="1.05" fill="#fbd7a6"/><rect x="114.40" y="80.00" width="13.25" height="1.05" fill="#fbd2a1"/><rect x="114.40" y="81.00" width="13.25" height="1.05" fill="#fbd6a5"/><rect x="114.40" y="82.00" width="13.25" height="1.05" fill="#fbefbf"/><rect x="114.40" y="83.00" width="13.25" height="1.05" fill="#fbf9ca"/><rect x="114.40" y="84.00" width="13.25" height="1.05" fill="#fbfacb"/><rect x="114.40" y="85.00" width="13.25" height="1.05" fill="#fbefbf"/><rect x="114.40" y="86.00" width="13.25" height="1.05" fill="#fbd7a7"/><rect x="114.40" y="87.00" width="13.25" height="1.05" fill="#fbdead"/><rect x="114.40" y="88.00" width="13.25" height="1.05" fill="#fbd8a7"/><rect x="114.40" y="89.00" width="13.25" height="1.05" fill="#fcbf8d"/><rect x="114.40" y="90.00" width="13.25" height="1.05" fill="#fcc391"/><rect x="114.40" y="91.00" width="13.25" height="1.05" fill="#fbd6a5"/><rect x="114.40" y="92.00" width="13.25" height="1.05" fill="#fbd6a5"/><rect x="114.40" y="93.00" width="13.25" height="1.05" fill="#fbcf9e"/><rect x="114.40" y="94.00" width="13.25" height="1.05" fill="#fbd6a5"/><rect x="114.40" y="95.00" width="13.25" height="1.05" fill="#fbc796"/><rect x="114.40" y="96.00" width="13.25" height="1.05" fill="#fbd1a0"/><rect x="114.40" y="97.00" width="13.25" height="1.05" fill="#fbd9a8"/><rect x="114.40" y="98.00" width="13.25" height="1.05" fill="#fbc796"/><rect x="114.40" y="99.00" width="13.25" height="1.05" fill="#fbd5a4"/><rect x="114.40" y="100.00" width="13.25" height="1.05" fill="#fbcf9e"/><rect x="114.40" y="101.00" width="13.25" height="1.05" fill="#fbd1a0"/><rect x="114.40" y="102.00" width="13.25" height="1.05" fill="#fbd3a2"/><rect x="114.40" y="103.00" width="13.25" height="1.05" fill="#fbce9d"/><rect x="114.40" y="104.00" width="13.25" height="1.05" fill="#fbd6a5"/><rect x="114.40" y="105.00" width="13.25" height="1.05" fill="#fbdeae"/><rect x="114.40" y="106.00" width="13.25" height="1.05" fill="#fbf9ca"/><rect x="114.40" y="107.00" width="13.25" height="1.05" fill="#fbf2c3"/><rect x="114.40" y="108.00" width="13.25" height="1.05" fill="#fbeebf"/><rect x="114.40" y="109.00" width="13.25" height="1.05" fill="#fbe9b9"/><rect x="114.40" y="110.00" width="13.25" height="1.05" fill="#fbcd9c"/><rect x="114.40" y="111.00" width="13.25" height="1.05" fill="#fbca98"/><rect x="114.40" y="112.00" width="13.25" height="1.05" fill="#fbcd9c"/><rect x="114.40" y="113.00" width="13.25" height="1.05" fill="#fbd3a3"/><rect x="114.40" y="114.00" width="13.25" height="1.05" fill="#fbd3a2"/><rect x="114.40" y="115.00" width="13.25" height="1.05" fill="#fbddad"/><rect x="114.40" y="116.00" width="13.25" height="1.05" fill="#fbcf9e"/><rect x="114.40" y="117.00" width="13.25" height="1.05" fill="#fbca99"/><rect x="114.40" y="118.00" width="13.25" height="1.05" fill="#fbca99"/><rect x="114.40" y="119.00" width="13.25" height="1.05" fill="#fbcf9d"/><rect x="114.40" y="120.00" width="13.25" height="1.05" fill="#fbf0c1"/><rect x="114.40" y="121.00" width="13.25" height="1.05" fill="#fbe8b8"/><rect x="114.40" y="122.00" width="13.25" height="1.05" fill="#fbefbf"/><rect x="114.40" y="123.00" width="13.25" height="1.05" fill="#fbeaba"/><rect x="114.40" y="124.00" width="13.25" height="1.05" fill="#fbd9a8"/><rect x="114.40" y="125.00" width="13.25" height="1.05" fill="#fbdbab"/><rect x="114.40" y="126.00" width="13.25" height="1.05" fill="#fbd3a2"/><rect x="114.40" y="127.00" width="13.25" height="1.05" fill="#fbe1b1"/><rect x="114.40" y="128.00" width="13.25" height="1.05" fill="#fbdfaf"/><rect x="114.40" y="129.00" width="13.25" height="1.05" fill="#fbfbcc"/><rect x="114.40" y="130.00" width="13.25" height="1.05" fill="#fbfbcc"/><rect x="114.40" y="131.00" width="13.25" height="1.05" fill="#fbeaba"/><rect x="114.40" y="132.00" width="13.25" height="1.05" fill="#fbe8b8"/><rect x="114.40" y="133.00" width="13.25" height="1.05" fill="#fbf5c6"/><rect x="114.40" y="134.00" width="13.25" height="1.05" fill="#fbf1c1"/><rect x="114.40" y="135.00" width="13.25" height="1.05" fill="#fbe0b0"/><rect x="114.40" y="136.00" width="13.25" height="1.05" fill="#fbe3b3"/><rect x="114.40" y="137.00" width="13.25" height="1.05" fill="#fbe0b0"/><rect x="114.40" y="138.00" width="13.25" height="1.05" fill="#fbf2c3"/><rect x="114.40" y="139.00" width="13.25" height="1.05" fill="#fbedbe"/><rect x="114.40" y="140.00" width="13.25" height="1.05" fill="#fbe6b6"/><rect x="114.40" y="141.00" width="13.25" height="1.05" fill="#e9f4e5"/><rect x="114.40" y="142.00" width="13.25" height="1.05" fill="#e2f1ee"/><rect x="114.40" y="143.00" width="13.25" height="1.05" fill="#f7f9d2"/><rect x="114.40" y="144.00" width="13.25" height="1.05" fill="#f9face"/><rect x="114.40" y="145.00" width="13.25" height="1.05" fill="#f8fad1"/><rect x="114.40" y="146.00" width="13.25" height="1.05" fill="#f7f9d2"/><rect x="114.40" y="147.00" width="13.25" height="1.05" fill="#fbf0c1"/><rect x="114.40" y="148.00" width="13.25" height="1.05" fill="#fbd5a4"/><rect x="114.40" y="149.00" width="13.25" height="1.05" fill="#fbfbcc"/><rect x="114.40" y="150.00" width="13.25" height="1.05" fill="#fbebbc"/><rect x="114.40" y="151.00" width="13.25" height="1.05" fill="#fbf2c3"/><rect x="114.40" y="152.00" width="13.25" height="1.05" fill="#fbf9c9"/><rect x="114.40" y="153.00" width="13.25" height="1.05" fill="#f8fad0"/><rect x="114.40" y="154.00" width="13.25" height="1.05" fill="#fbf8c9"/><rect x="114.40" y="155.00" width="13.25" height="1.05" fill="#fbefc0"/><rect x="114.40" y="156.00" width="13.25" height="1.05" fill="#fbf6c7"/><rect x="114.40" y="157.00" width="13.25" height="1.05" fill="#fbf2c2"/><rect x="114.40" y="158.00" width="13.25" height="1.05" fill="#fbfacb"/><rect x="114.40" y="159.00" width="13.25" height="1.05" fill="#fbf7c8"/><rect x="114.40" y="160.00" width="13.25" height="1.05" fill="#fafbcd"/><rect x="114.40" y="161.00" width="13.25" height="1.05" fill="#fbf8c9"/><rect x="114.40" y="162.00" width="13.25" height="1.05" fill="#fbf2c2"/><rect x="114.40" y="163.00" width="13.25" height="1.05" fill="#f4f8d6"/><rect x="114.40" y="164.00" width="13.25" height="1.05" fill="#fbfbcc"/><rect x="114.40" y="165.00" width="13.25" height="1.05" fill="#fbedbe"/><rect x="114.40" y="166.00" width="13.25" height="1.05" fill="#fbf3c4"/><rect x="114.40" y="167.00" width="13.25" height="1.05" fill="#fbf1c2"/><rect x="114.40" y="168.00" width="13.25" height="1.05" fill="#fbe9b9"/><rect x="114.40" y="169.00" width="13.25" height="1.05" fill="#fbe0b0"/><rect x="114.40" y="170.00" width="13.25" height="1.05" fill="#fbd2a1"/><rect x="114.40" y="171.00" width="13.25" height="1.05" fill="#fbe6b7"/><rect x="114.40" y="172.00" width="13.25" height="1.05" fill="#fbf4c5"/><rect x="114.40" y="173.00" width="13.25" height="1.05" fill="#fbdbaa"/><rect x="114.40" y="174.00" width="13.25" height="1.05" fill="#fbe8b8"/><rect x="114.40" y="175.00" width="13.25" height="1.05" fill="#fbe9b9"/><rect x="114.40" y="176.00" width="13.25" height="1.05" fill="#fbf1c2"/><rect x="114.40" y="177.00" width="13.25" height="1.05" fill="#fbe9b9"/><rect x="114.40" y="178.00" width="13.25" height="1.05" fill="#fbf1c1"/><rect x="114.40" y="179.00" width="13.25" height="1.05" fill="#fbe8b8"/><rect x="114.40" y="180.00" width="13.25" height="1.05" fill="#fbe5b5"/><rect x="127.60" y="39.00" width="13.25" height="1.05" fill="#fbefbf"/><rect x="127.60" y="40.00" width="13.25" height="1.05" fill="#fbedbd"/><rect x="127.60" y="41.00" width="13.25" height="1.05" fill="#fbf5c6"/><rect x="127.60" y="42.00" width="13.25" height="1.05" fill="#fbe5b4"/><rect x="127.60" y="43.00" width="13.25" height="1.05" fill="#fbf4c4"/><rect x="127.60" y="44.00" width="13.25" height="1.05" fill="#fafbcd"/><rect x="127.60" y="45.00" width="13.25" height="1.05" fill="#fbf0c1"/><rect x="127.60" y="46.00" width="13.25" height="1.05" fill="#fbf4c5"/><rect x="127.60" y="47.00" width="13.25" height="1.05" fill="#fbf6c7"/><rect x="127.60" y="48.00" width="13.25" height="1.05" fill="#fbf1c2"/><rect x="127.60" y="49.00" width="13.25" height="1.05" fill="#fbedbd"/><rect x="127.60" y="50.00" width="13.25" height="1.05" fill="#fbf7c8"/><rect x="127.60" y="51.00" width="13.25" height="1.05" fill="#fbf0c0"/><rect x="127.60" y="52.00" width="13.25" height="1.05" fill="#fbe5b5"/><rect x="127.60" y="53.00" width="13.25" height="1.05" fill="#fbeaba"/><rect x="127.60" y="54.00" width="13.25" height="1.05" fill="#fbf0c1"/><rect x="127.60" y="55.00" width="13.25" height="1.05" fill="#fbeebe"/><rect x="127.60" y="56.00" width="13.25" height="1.05" fill="#fbf0c0"/><rect x="127.60" y="57.00" width="13.25" height="1.05" fill="#fbefc0"/><rect x="127.60" y="58.00" width="13.25" height="1.05" fill="#fbeaba"/><rect x="127.60" y="59.00" width="13.25" height="1.05" fill="#fbf0c0"/><rect x="127.60" y="60.00" width="13.25" height="1.05" fill="#fbeebf"/><rect x="127.60" y="61.00" width="13.25" height="1.05" fill="#fbddad"/><rect x="127.60" y="62.00" width="13.25" height="1.05" fill="#fbe3b3"/><rect x="127.60" y="63.00" width="13.25" height="1.05" fill="#fbd8a7"/><rect x="127.60" y="64.00" width="13.25" height="1.05" fill="#fbe1b1"/><rect x="127.60" y="65.00" width="13.25" height="1.05" fill="#fbdcab"/><rect x="127.60" y="66.00" width="13.25" height="1.05" fill="#fbcd9c"/><rect x="127.60" y="67.00" width="13.25" height="1.05" fill="#fbe4b4"/><rect x="127.60" y="68.00" width="13.25" height="1.05" fill="#fbd3a2"/><rect x="127.60" y="69.00" width="13.25" height="1.05" fill="#fbd5a4"/><rect x="127.60" y="70.00" width="13.25" height="1.05" fill="#fbeebf"/><rect x="127.60" y="71.00" width="13.25" height="1.05" fill="#fbeabb"/><rect x="127.60" y="72.00" width="13.25" height="1.05" fill="#fbdaaa"/><rect x="127.60" y="73.00" width="13.25" height="1.05" fill="#fbe1b1"/><rect x="127.60" y="74.00" width="13.25" height="1.05" fill="#fbeabb"/><rect x="127.60" y="75.00" width="13.25" height="1.05" fill="#fbe8b8"/><rect x="127.60" y="76.00" width="13.25" height="1.05" fill="#fbd2a1"/><rect x="127.60" y="77.00" width="13.25" height="1.05" fill="#fbdcac"/><rect x="127.60" y="78.00" width="13.25" height="1.05" fill="#fbd9a9"/><rect x="127.60" y="79.00" width="13.25" height="1.05" fill="#fbd4a4"/><rect x="127.60" y="80.00" width="13.25" height="1.05" fill="#fbcd9c"/><rect x="127.60" y="81.00" width="13.25" height="1.05" fill="#fbc997"/><rect x="127.60" y="82.00" width="13.25" height="1.05" fill="#fcab79"/><rect x="127.60" y="83.00" width="13.25" height="1.05" fill="#fcbc8a"/><rect x="127.60" y="84.00" width="13.25" height="1.05" fill="#fcbb89"/><rect x="127.60" y="85.00" width="13.25" height="1.05" fill="#fc9d6a"/><rect x="127.60" y="86.00" width="13.25" height="1.05" fill="#fbcc9b"/><rect x="127.60" y="87.00" width="13.25" height="1.05" fill="#fbd9a8"/><rect x="127.60" y="88.00" width="13.25" height="1.05" fill="#fbd3a3"/><rect x="127.60" y="89.00" width="13.25" height="1.05" fill="#fbd5a4"/><rect x="127.60" y="90.00" width="13.25" height="1.05" fill="#fbd6a6"/><rect x="127.60" y="91.00" width="13.25" height="1.05" fill="#fbdaaa"/><rect x="127.60" y="92.00" width="13.25" height="1.05" fill="#fbe0b0"/><rect x="127.60" y="93.00" width="13.25" height="1.05" fill="#fbdbaa"/><rect x="127.60" y="94.00" width="13.25" height="1.05" fill="#fbe2b2"/><rect x="127.60" y="95.00" width="13.25" height="1.05" fill="#fbe6b6"/><rect x="127.60" y="96.00" width="13.25" height="1.05" fill="#fbebbb"/><rect x="127.60" y="97.00" width="13.25" height="1.05" fill="#f9facf"/><rect x="127.60" y="98.00" width="13.25" height="1.05" fill="#fbebbb"/><rect x="127.60" y="99.00" width="13.25" height="1.05" fill="#fbeebf"/><rect x="127.60" y="100.00" width="13.25" height="1.05" fill="#f6f9d3"/><rect x="127.60" y="101.00" width="13.25" height="1.05" fill="#fbe8b8"/><rect x="127.60" y="102.00" width="13.25" height="1.05" fill="#fbefc0"/><rect x="127.60" y="103.00" width="13.25" height="1.05" fill="#fbe6b6"/><rect x="127.60" y="104.00" width="13.25" height="1.05" fill="#f9facf"/><rect x="127.60" y="105.00" width="13.25" height="1.05" fill="#fbf1c2"/><rect x="127.60" y="106.00" width="13.25" height="1.05" fill="#fbf2c2"/><rect x="127.60" y="107.00" width="13.25" height="1.05" fill="#fbf3c4"/><rect x="127.60" y="108.00" width="13.25" height="1.05" fill="#fbf4c4"/><rect x="127.60" y="109.00" width="13.25" height="1.05" fill="#fbedbe"/><rect x="127.60" y="110.00" width="13.25" height="1.05" fill="#fbe8b8"/><rect x="127.60" y="111.00" width="13.25" height="1.05" fill="#fbe6b6"/><rect x="127.60" y="112.00" width="13.25" height="1.05" fill="#fbe7b7"/><rect x="127.60" y="113.00" width="13.25" height="1.05" fill="#fbe1b1"/><rect x="127.60" y="114.00" width="13.25" height="1.05" fill="#fbe1b1"/><rect x="127.60" y="115.00" width="13.25" height="1.05" fill="#fbdaaa"/><rect x="127.60" y="116.00" width="13.25" height="1.05" fill="#fbdbaa"/><rect x="127.60" y="117.00" width="13.25" height="1.05" fill="#fbddac"/><rect x="127.60" y="118.00" width="13.25" height="1.05" fill="#fbe2b2"/><rect x="127.60" y="119.00" width="13.25" height="1.05" fill="#fca875"/><rect x="127.60" y="120.00" width="13.25" height="1.05" fill="#fc8e5a"/><rect x="127.60" y="121.00" width="13.25" height="1.05" fill="#fc925e"/><rect x="127.60" y="122.00" width="13.25" height="1.05" fill="#fc9e6b"/><rect x="127.60" y="123.00" width="13.25" height="1.05" fill="#fca673"/><rect x="127.60" y="124.00" width="13.25" height="1.05" fill="#f98554"/><rect x="127.60" y="125.00" width="13.25" height="1.05" fill="#fcab78"/><rect x="127.60" y="126.00" width="13.25" height="1.05" fill="#fc9460"/><rect x="127.60" y="127.00" width="13.25" height="1.05" fill="#fcc291"/><rect x="127.60" y="128.00" width="13.25" height="1.05" fill="#fbcd9b"/><rect x="127.60" y="129.00" width="13.25" height="1.05" fill="#fbc593"/><rect x="127.60" y="130.00" width="13.25" height="1.05" fill="#fcad7a"/><rect x="127.60" y="131.00" width="13.25" height="1.05" fill="#f98655"/><rect x="127.60" y="132.00" width="13.25" height="1.05" fill="#fc9461"/><rect x="127.60" y="133.00" width="13.25" height="1.05" fill="#fcb583"/><rect x="127.60" y="134.00" width="13.25" height="1.05" fill="#fc8c58"/><rect x="127.60" y="135.00" width="13.25" height="1.05" fill="#fbddad"/><rect x="127.60" y="136.00" width="13.25" height="1.05" fill="#fbcd9c"/><rect x="127.60" y="137.00" width="13.25" height="1.05" fill="#fbdcab"/><rect x="127.60" y="138.00" width="13.25" height="1.05" fill="#fbd8a7"/><rect x="127.60" y="139.00" width="13.25" height="1.05" fill="#fbd5a4"/><rect x="127.60" y="140.00" width="13.25" height="1.05" fill="#fbd9a9"/><rect x="127.60" y="141.00" width="13.25" height="1.05" fill="#fbd5a4"/><rect x="127.60" y="142.00" width="13.25" height="1.05" fill="#f0f6db"/><rect x="127.60" y="143.00" width="13.25" height="1.05" fill="#f6f9d3"/><rect x="127.60" y="144.00" width="13.25" height="1.05" fill="#f3f8d8"/><rect x="127.60" y="145.00" width="13.25" height="1.05" fill="#cae2ed"/><rect x="127.60" y="146.00" width="13.25" height="1.05" fill="#b9d8e8"/><rect x="127.60" y="147.00" width="13.25" height="1.05" fill="#f0f6db"/><rect x="127.60" y="148.00" width="13.25" height="1.05" fill="#eaf4e3"/><rect x="127.60" y="149.00" width="13.25" height="1.05" fill="#e1f0f0"/><rect x="127.60" y="150.00" width="13.25" height="1.05" fill="#ebf4e3"/><rect x="127.60" y="151.00" width="13.25" height="1.05" fill="#edf5e0"/><rect x="127.60" y="152.00" width="13.25" height="1.05" fill="#d5e9f1"/><rect x="127.60" y="153.00" width="13.25" height="1.05" fill="#c7e1ed"/><rect x="127.60" y="154.00" width="13.25" height="1.05" fill="#f2f7d8"/><rect x="127.60" y="155.00" width="13.25" height="1.05" fill="#e9f4e4"/><rect x="127.60" y="156.00" width="13.25" height="1.05" fill="#f6f9d3"/><rect x="127.60" y="157.00" width="13.25" height="1.05" fill="#e9f4e4"/><rect x="127.60" y="158.00" width="13.25" height="1.05" fill="#eef5de"/><rect x="127.60" y="159.00" width="13.25" height="1.05" fill="#e8f3e6"/><rect x="127.60" y="160.00" width="13.25" height="1.05" fill="#faface"/><rect x="127.60" y="161.00" width="13.25" height="1.05" fill="#fbedbd"/><rect x="127.60" y="162.00" width="13.25" height="1.05" fill="#fbeebf"/><rect x="127.60" y="163.00" width="13.25" height="1.05" fill="#fbeaba"/><rect x="127.60" y="164.00" width="13.25" height="1.05" fill="#fbefbf"/><rect x="127.60" y="165.00" width="13.25" height="1.05" fill="#fbf9ca"/><rect x="127.60" y="166.00" width="13.25" height="1.05" fill="#f7f9d2"/><rect x="127.60" y="167.00" width="13.25" height="1.05" fill="#fbfacb"/><rect x="127.60" y="168.00" width="13.25" height="1.05" fill="#fbfacb"/><rect x="127.60" y="169.00" width="13.25" height="1.05" fill="#fbfbcc"/><rect x="127.60" y="170.00" width="13.25" height="1.05" fill="#fbf1c1"/><rect x="127.60" y="171.00" width="13.25" height="1.05" fill="#fbf3c3"/><rect x="127.60" y="172.00" width="13.25" height="1.05" fill="#fbd9a8"/><rect x="127.60" y="173.00" width="13.25" height="1.05" fill="#fbd5a5"/><rect x="127.60" y="174.00" width="13.25" height="1.05" fill="#fbd8a7"/><rect x="127.60" y="175.00" width="13.25" height="1.05" fill="#fbd5a4"/><rect x="127.60" y="176.00" width="13.25" height="1.05" fill="#fbd1a0"/><rect x="127.60" y="177.00" width="13.25" height="1.05" fill="#eff6dd"/><rect x="127.60" y="178.00" width="13.25" height="1.05" fill="#e7f3e8"/><rect x="127.60" y="179.00" width="13.25" height="1.05" fill="#e3f1ee"/><rect x="127.60" y="180.00" width="13.25" height="1.05" fill="#f1f7d9"/><rect x="140.80" y="39.00" width="13.25" height="1.05" fill="#fbe8b8"/><rect x="140.80" y="40.00" width="13.25" height="1.05" fill="#fbe1b1"/><rect x="140.80" y="41.00" width="13.25" height="1.05" fill="#fbf5c5"/><rect x="140.80" y="42.00" width="13.25" height="1.05" fill="#fbebbc"/><rect x="140.80" y="43.00" width="13.25" height="1.05" fill="#fbe9b9"/><rect x="140.80" y="44.00" width="13.25" height="1.05" fill="#fbf3c4"/><rect x="140.80" y="45.00" width="13.25" height="1.05" fill="#ecf5e1"/><rect x="140.80" y="46.00" width="13.25" height="1.05" fill="#fbeaba"/><rect x="140.80" y="47.00" width="13.25" height="1.05" fill="#fbe7b7"/><rect x="140.80" y="48.00" width="13.25" height="1.05" fill="#fbe3b3"/><rect x="140.80" y="49.00" width="13.25" height="1.05" fill="#fbf5c6"/><rect x="140.80" y="50.00" width="13.25" height="1.05" fill="#fbf9ca"/><rect x="140.80" y="51.00" width="13.25" height="1.05" fill="#fbebbb"/><rect x="140.80" y="52.00" width="13.25" height="1.05" fill="#deeff4"/><rect x="140.80" y="53.00" width="13.25" height="1.05" fill="#fbfacb"/><rect x="140.80" y="54.00" width="13.25" height="1.05" fill="#f4f8d5"/><rect x="140.80" y="55.00" width="13.25" height="1.05" fill="#fbf5c6"/><rect x="140.80" y="56.00" width="13.25" height="1.05" fill="#fbf5c6"/><rect x="140.80" y="57.00" width="13.25" height="1.05" fill="#fbf7c8"/><rect x="140.80" y="58.00" width="13.25" height="1.05" fill="#f9facf"/><rect x="140.80" y="59.00" width="13.25" height="1.05" fill="#fbf9ca"/><rect x="140.80" y="60.00" width="13.25" height="1.05" fill="#fbf5c6"/><rect x="140.80" y="61.00" width="13.25" height="1.05" fill="#f8fad0"/><rect x="140.80" y="62.00" width="13.25" height="1.05" fill="#f2f7d9"/><rect x="140.80" y="63.00" width="13.25" height="1.05" fill="#fbf9ca"/><rect x="140.80" y="64.00" width="13.25" height="1.05" fill="#fbf8c8"/><rect x="140.80" y="65.00" width="13.25" height="1.05" fill="#fbfbcc"/><rect x="140.80" y="66.00" width="13.25" height="1.05" fill="#fbf5c5"/><rect x="140.80" y="67.00" width="13.25" height="1.05" fill="#f8fad0"/><rect x="140.80" y="68.00" width="13.25" height="1.05" fill="#fbfbcd"/><rect x="140.80" y="69.00" width="13.25" height="1.05" fill="#f9face"/><rect x="140.80" y="70.00" width="13.25" height="1.05" fill="#fbf7c8"/><rect x="140.80" y="71.00" width="13.25" height="1.05" fill="#fbefc0"/><rect x="140.80" y="72.00" width="13.25" height="1.05" fill="#faface"/><rect x="140.80" y="73.00" width="13.25" height="1.05" fill="#fbecbc"/><rect x="140.80" y="74.00" width="13.25" height="1.05" fill="#fbf0c0"/><rect x="140.80" y="75.00" width="13.25" height="1.05" fill="#fbf5c6"/><rect x="140.80" y="76.00" width="13.25" height="1.05" fill="#fbebbb"/><rect x="140.80" y="77.00" width="13.25" height="1.05" fill="#fbe2b2"/><rect x="140.80" y="78.00" width="13.25" height="1.05" fill="#fbf0c1"/><rect x="140.80" y="79.00" width="13.25" height="1.05" fill="#fbf0c0"/><rect x="140.80" y="80.00" width="13.25" height="1.05" fill="#fbf7c7"/><rect x="140.80" y="81.00" width="13.25" height="1.05" fill="#fbebbc"/><rect x="140.80" y="82.00" width="13.25" height="1.05" fill="#fbe5b5"/><rect x="140.80" y="83.00" width="13.25" height="1.05" fill="#fbebbb"/><rect x="140.80" y="84.00" width="13.25" height="1.05" fill="#fbdaa9"/><rect x="140.80" y="85.00" width="13.25" height="1.05" fill="#fbdeae"/><rect x="140.80" y="86.00" width="13.25" height="1.05" fill="#fbdcab"/><rect x="140.80" y="87.00" width="13.25" height="1.05" fill="#fbe7b7"/><rect x="140.80" y="88.00" width="13.25" height="1.05" fill="#fbd5a4"/><rect x="140.80" y="89.00" width="13.25" height="1.05" fill="#fbe0af"/><rect x="140.80" y="90.00" width="13.25" height="1.05" fill="#fbe5b5"/><rect x="140.80" y="91.00" width="13.25" height="1.05" fill="#fbe2b2"/><rect x="140.80" y="92.00" width="13.25" height="1.05" fill="#fbe3b3"/><rect x="140.80" y="93.00" width="13.25" height="1.05" fill="#fbd7a6"/><rect x="140.80" y="94.00" width="13.25" height="1.05" fill="#fbd5a4"/><rect x="140.80" y="95.00" width="13.25" height="1.05" fill="#fbc897"/><rect x="140.80" y="96.00" width="13.25" height="1.05" fill="#fcad7b"/><rect x="140.80" y="97.00" width="13.25" height="1.05" fill="#fbefbf"/><rect x="140.80" y="98.00" width="13.25" height="1.05" fill="#fbf9ca"/><rect x="140.80" y="99.00" width="13.25" height="1.05" fill="#f8fad1"/><rect x="140.80" y="100.00" width="13.25" height="1.05" fill="#fbfacb"/><rect x="140.80" y="101.00" width="13.25" height="1.05" fill="#fbfaca"/><rect x="140.80" y="102.00" width="13.25" height="1.05" fill="#fbf2c3"/><rect x="140.80" y="103.00" width="13.25" height="1.05" fill="#fbf8c8"/><rect x="140.80" y="104.00" width="13.25" height="1.05" fill="#f5f9d4"/><rect x="140.80" y="105.00" width="13.25" height="1.05" fill="#fbf3c4"/><rect x="140.80" y="106.00" width="13.25" height="1.05" fill="#f7fad1"/><rect x="140.80" y="107.00" width="13.25" height="1.05" fill="#fbdcac"/><rect x="140.80" y="108.00" width="13.25" height="1.05" fill="#fbecbc"/><rect x="140.80" y="109.00" width="13.25" height="1.05" fill="#fbe8b8"/><rect x="140.80" y="110.00" width="13.25" height="1.05" fill="#fbe9b9"/><rect x="140.80" y="111.00" width="13.25" height="1.05" fill="#fbe7b7"/><rect x="140.80" y="112.00" width="13.25" height="1.05" fill="#fbd9a9"/><rect x="140.80" y="113.00" width="13.25" height="1.05" fill="#fbddac"/><rect x="140.80" y="114.00" width="13.25" height="1.05" fill="#fbdeae"/><rect x="140.80" y="115.00" width="13.25" height="1.05" fill="#fbe0b0"/><rect x="140.80" y="116.00" width="13.25" height="1.05" fill="#fbeebe"/><rect x="140.80" y="117.00" width="13.25" height="1.05" fill="#fbe7b7"/><rect x="140.80" y="118.00" width="13.25" height="1.05" fill="#fbe7b7"/><rect x="140.80" y="119.00" width="13.25" height="1.05" fill="#fbe4b4"/><rect x="140.80" y="120.00" width="13.25" height="1.05" fill="#fbd9a9"/><rect x="140.80" y="121.00" width="13.25" height="1.05" fill="#fbe2b2"/><rect x="140.80" y="122.00" width="13.25" height="1.05" fill="#fbe2b2"/><rect x="140.80" y="123.00" width="13.25" height="1.05" fill="#fbe4b4"/><rect x="140.80" y="124.00" width="13.25" height="1.05" fill="#fbdaa9"/><rect x="140.80" y="125.00" width="13.25" height="1.05" fill="#fbc695"/><rect x="140.80" y="126.00" width="13.25" height="1.05" fill="#fbd9a9"/><rect x="140.80" y="127.00" width="13.25" height="1.05" fill="#fbe2b1"/><rect x="140.80" y="128.00" width="13.25" height="1.05" fill="#fbeaba"/><rect x="140.80" y="129.00" width="13.25" height="1.05" fill="#fbdbab"/><rect x="140.80" y="130.00" width="13.25" height="1.05" fill="#fbc695"/><rect x="140.80" y="131.00" width="13.25" height="1.05" fill="#fcbf8d"/><rect x="140.80" y="132.00" width="13.25" height="1.05" fill="#fbc594"/><rect x="140.80" y="133.00" width="13.25" height="1.05" fill="#fcc18f"/><rect x="140.80" y="134.00" width="13.25" height="1.05" fill="#fcba88"/><rect x="140.80" y="135.00" width="13.25" height="1.05" fill="#fcbf8e"/><rect x="140.80" y="136.00" width="13.25" height="1.05" fill="#fbcb9a"/><rect x="140.80" y="137.00" width="13.25" height="1.05" fill="#fcc08e"/><rect x="140.80" y="138.00" width="13.25" height="1.05" fill="#fcc290"/><rect x="140.80" y="139.00" width="13.25" height="1.05" fill="#fbd3a2"/><rect x="140.80" y="140.00" width="13.25" height="1.05" fill="#fbcb99"/><rect x="140.80" y="141.00" width="13.25" height="1.05" fill="#f4f8d6"/><rect x="140.80" y="142.00" width="13.25" height="1.05" fill="#fafbcd"/><rect x="140.80" y="143.00" width="13.25" height="1.05" fill="#fbf7c8"/><rect x="140.80" y="144.00" width="13.25" height="1.05" fill="#f6f9d3"/><rect x="140.80" y="145.00" width="13.25" height="1.05" fill="#f1f7da"/><rect x="140.80" y="146.00" width="13.25" height="1.05" fill="#fbf2c2"/><rect x="140.80" y="147.00" width="13.25" height="1.05" fill="#fbf8c9"/><rect x="140.80" y="148.00" width="13.25" height="1.05" fill="#fbf0c1"/><rect x="140.80" y="149.00" width="13.25" height="1.05" fill="#f4f8d5"/><rect x="140.80" y="150.00" width="13.25" height="1.05" fill="#cee5ef"/><rect x="140.80" y="151.00" width="13.25" height="1.05" fill="#d7ebf2"/><rect x="140.80" y="152.00" width="13.25" height="1.05" fill="#d6eaf1"/><rect x="140.80" y="153.00" width="13.25" height="1.05" fill="#e9f4e5"/><rect x="140.80" y="154.00" width="13.25" height="1.05" fill="#ecf5e1"/><rect x="140.80" y="155.00" width="13.25" height="1.05" fill="#e9f4e4"/><rect x="140.80" y="156.00" width="13.25" height="1.05" fill="#eff6dc"/><rect x="140.80" y="157.00" width="13.25" height="1.05" fill="#eff6dc"/><rect x="140.80" y="158.00" width="13.25" height="1.05" fill="#ebf4e3"/><rect x="140.80" y="159.00" width="13.25" height="1.05" fill="#e3f1ed"/><rect x="140.80" y="160.00" width="13.25" height="1.05" fill="#fbeaba"/><rect x="140.80" y="161.00" width="13.25" height="1.05" fill="#fbf2c3"/><rect x="140.80" y="162.00" width="13.25" height="1.05" fill="#fbeabb"/><rect x="140.80" y="163.00" width="13.25" height="1.05" fill="#fbedbd"/><rect x="140.80" y="164.00" width="13.25" height="1.05" fill="#fbe3b3"/><rect x="140.80" y="165.00" width="13.25" height="1.05" fill="#d6eaf1"/><rect x="140.80" y="166.00" width="13.25" height="1.05" fill="#fbce9d"/><rect x="140.80" y="167.00" width="13.25" height="1.05" fill="#fbc897"/><rect x="140.80" y="168.00" width="13.25" height="1.05" fill="#fcbd8b"/><rect x="140.80" y="169.00" width="13.25" height="1.05" fill="#fbcf9d"/><rect x="140.80" y="170.00" width="13.25" height="1.05" fill="#fbf2c2"/><rect x="140.80" y="171.00" width="13.25" height="1.05" fill="#fbecbd"/><rect x="140.80" y="172.00" width="13.25" height="1.05" fill="#fcc190"/><rect x="140.80" y="173.00" width="13.25" height="1.05" fill="#fbc795"/><rect x="140.80" y="174.00" width="13.25" height="1.05" fill="#fbd4a3"/><rect x="140.80" y="175.00" width="13.25" height="1.05" fill="#fb8957"/><rect x="140.80" y="176.00" width="13.25" height="1.05" fill="#f1724a"/><rect x="140.80" y="177.00" width="13.25" height="1.05" fill="#fbdaa9"/><rect x="140.80" y="178.00" width="13.25" height="1.05" fill="#fbca99"/><rect x="140.80" y="179.00" width="13.25" height="1.05" fill="#fbe3b3"/><rect x="140.80" y="180.00" width="13.25" height="1.05" fill="#fbd4a4"/><rect x="154.00" y="39.00" width="13.25" height="1.05" fill="#d9362a"/><rect x="154.00" y="40.00" width="13.25" height="1.05" fill="#e85c3f"/><rect x="154.00" y="41.00" width="13.25" height="1.05" fill="#e34e37"/><rect x="154.00" y="42.00" width="13.25" height="1.05" fill="#dd3f2f"/><rect x="154.00" y="43.00" width="13.25" height="1.05" fill="#fcc290"/><rect x="154.00" y="44.00" width="13.25" height="1.05" fill="#fcc08e"/><rect x="154.00" y="45.00" width="13.25" height="1.05" fill="#fcb684"/><rect x="154.00" y="46.00" width="13.25" height="1.05" fill="#fbc493"/><rect x="154.00" y="47.00" width="13.25" height="1.05" fill="#fcb684"/><rect x="154.00" y="48.00" width="13.25" height="1.05" fill="#fcc392"/><rect x="154.00" y="49.00" width="13.25" height="1.05" fill="#fcc291"/><rect x="154.00" y="50.00" width="13.25" height="1.05" fill="#fbf7c8"/><rect x="154.00" y="51.00" width="13.25" height="1.05" fill="#fbc997"/><rect x="154.00" y="52.00" width="13.25" height="1.05" fill="#fcc291"/><rect x="154.00" y="53.00" width="13.25" height="1.05" fill="#fcb07e"/><rect x="154.00" y="54.00" width="13.25" height="1.05" fill="#fbc493"/><rect x="154.00" y="55.00" width="13.25" height="1.05" fill="#fbc694"/><rect x="154.00" y="56.00" width="13.25" height="1.05" fill="#fbeaba"/><rect x="154.00" y="57.00" width="13.25" height="1.05" fill="#fbf2c2"/><rect x="154.00" y="58.00" width="13.25" height="1.05" fill="#fbe7b7"/><rect x="154.00" y="59.00" width="13.25" height="1.05" fill="#fbf8c9"/><rect x="154.00" y="60.00" width="13.25" height="1.05" fill="#fbeabb"/><rect x="154.00" y="61.00" width="13.25" height="1.05" fill="#f0f6db"/><rect x="154.00" y="62.00" width="13.25" height="1.05" fill="#fbc493"/><rect x="154.00" y="63.00" width="13.25" height="1.05" fill="#fc9e6b"/><rect x="154.00" y="64.00" width="13.25" height="1.05" fill="#fbc593"/><rect x="154.00" y="65.00" width="13.25" height="1.05" fill="#fc9e6b"/><rect x="154.00" y="66.00" width="13.25" height="1.05" fill="#fcb280"/><rect x="154.00" y="67.00" width="13.25" height="1.05" fill="#fca471"/><rect x="154.00" y="68.00" width="13.25" height="1.05" fill="#fbc694"/><rect x="154.00" y="69.00" width="13.25" height="1.05" fill="#fca876"/><rect x="154.00" y="70.00" width="13.25" height="1.05" fill="#fca471"/><rect x="154.00" y="71.00" width="13.25" height="1.05" fill="#fcbf8e"/><rect x="154.00" y="72.00" width="13.25" height="1.05" fill="#fcbf8e"/><rect x="154.00" y="73.00" width="13.25" height="1.05" fill="#fc915d"/><rect x="154.00" y="74.00" width="13.25" height="1.05" fill="#fcbb89"/><rect x="154.00" y="75.00" width="13.25" height="1.05" fill="#fcc290"/><rect x="154.00" y="76.00" width="13.25" height="1.05" fill="#fcbb89"/><rect x="154.00" y="77.00" width="13.25" height="1.05" fill="#fca774"/><rect x="154.00" y="78.00" width="13.25" height="1.05" fill="#fbd4a4"/><rect x="154.00" y="79.00" width="13.25" height="1.05" fill="#fbd5a5"/><rect x="154.00" y="80.00" width="13.25" height="1.05" fill="#fbca99"/><rect x="154.00" y="81.00" width="13.25" height="1.05" fill="#fbd9a9"/><rect x="154.00" y="82.00" width="13.25" height="1.05" fill="#fbd3a2"/><rect x="154.00" y="83.00" width="13.25" height="1.05" fill="#fbcc9b"/><rect x="154.00" y="84.00" width="13.25" height="1.05" fill="#fbdeae"/><rect x="154.00" y="85.00" width="13.25" height="1.05" fill="#fbcf9e"/><rect x="154.00" y="86.00" width="13.25" height="1.05" fill="#fbd5a5"/><rect x="154.00" y="87.00" width="13.25" height="1.05" fill="#fbedbd"/><rect x="154.00" y="88.00" width="13.25" height="1.05" fill="#fbebbb"/><rect x="154.00" y="89.00" width="13.25" height="1.05" fill="#fbeabb"/><rect x="154.00" y="90.00" width="13.25" height="1.05" fill="#f6f9d3"/><rect x="154.00" y="91.00" width="13.25" height="1.05" fill="#fbf2c2"/><rect x="154.00" y="92.00" width="13.25" height="1.05" fill="#f6f9d3"/><rect x="154.00" y="93.00" width="13.25" height="1.05" fill="#fbd3a2"/><rect x="154.00" y="94.00" width="13.25" height="1.05" fill="#fbcc9b"/><rect x="154.00" y="95.00" width="13.25" height="1.05" fill="#fbe2b2"/><rect x="154.00" y="96.00" width="13.25" height="1.05" fill="#fbd9a8"/><rect x="154.00" y="97.00" width="13.25" height="1.05" fill="#fbe5b5"/><rect x="154.00" y="98.00" width="13.25" height="1.05" fill="#fbd1a0"/><rect x="154.00" y="99.00" width="13.25" height="1.05" fill="#fbdcac"/><rect x="154.00" y="100.00" width="13.25" height="1.05" fill="#fcc08f"/><rect x="154.00" y="101.00" width="13.25" height="1.05" fill="#fcbd8c"/><rect x="154.00" y="102.00" width="13.25" height="1.05" fill="#fcb482"/><rect x="154.00" y="103.00" width="13.25" height="1.05" fill="#fbd3a2"/><rect x="154.00" y="104.00" width="13.25" height="1.05" fill="#fbd1a0"/><rect x="154.00" y="105.00" width="13.25" height="1.05" fill="#fbd5a4"/><rect x="154.00" y="106.00" width="13.25" height="1.05" fill="#fbd09f"/><rect x="154.00" y="107.00" width="13.25" height="1.05" fill="#fbd9a9"/><rect x="154.00" y="108.00" width="13.25" height="1.05" fill="#fbd09f"/><rect x="154.00" y="109.00" width="13.25" height="1.05" fill="#fbdfae"/><rect x="154.00" y="110.00" width="13.25" height="1.05" fill="#fbd4a3"/><rect x="154.00" y="111.00" width="13.25" height="1.05" fill="#fcc391"/><rect x="154.00" y="112.00" width="13.25" height="1.05" fill="#fbd09f"/><rect x="154.00" y="113.00" width="13.25" height="1.05" fill="#fbdaa9"/><rect x="154.00" y="114.00" width="13.25" height="1.05" fill="#fbd5a4"/><rect x="154.00" y="115.00" width="13.25" height="1.05" fill="#fbdead"/><rect x="154.00" y="116.00" width="13.25" height="1.05" fill="#fbe3b3"/><rect x="154.00" y="117.00" width="13.25" height="1.05" fill="#fbdcac"/><rect x="154.00" y="118.00" width="13.25" height="1.05" fill="#fbd1a0"/><rect x="154.00" y="119.00" width="13.25" height="1.05" fill="#fbd4a3"/><rect x="154.00" y="120.00" width="13.25" height="1.05" fill="#fbd7a7"/><rect x="154.00" y="121.00" width="13.25" height="1.05" fill="#fbcb9a"/><rect x="154.00" y="122.00" width="13.25" height="1.05" fill="#fbcc9b"/><rect x="154.00" y="123.00" width="13.25" height="1.05" fill="#fcb583"/><rect x="154.00" y="124.00" width="13.25" height="1.05" fill="#fbd5a4"/><rect x="154.00" y="125.00" width="13.25" height="1.05" fill="#fbdead"/><rect x="154.00" y="126.00" width="13.25" height="1.05" fill="#fbe6b6"/><rect x="154.00" y="127.00" width="13.25" height="1.05" fill="#fbe1b0"/><rect x="154.00" y="128.00" width="13.25" height="1.05" fill="#fbddad"/><rect x="154.00" y="129.00" width="13.25" height="1.05" fill="#fbf7c8"/><rect x="154.00" y="130.00" width="13.25" height="1.05" fill="#fbefc0"/><rect x="154.00" y="131.00" width="13.25" height="1.05" fill="#fbedbe"/><rect x="154.00" y="132.00" width="13.25" height="1.05" fill="#fbf0c1"/><rect x="154.00" y="133.00" width="13.25" height="1.05" fill="#fbf1c1"/><rect x="154.00" y="134.00" width="13.25" height="1.05" fill="#fbdbaa"/><rect x="154.00" y="135.00" width="13.25" height="1.05" fill="#fbd8a8"/><rect x="154.00" y="136.00" width="13.25" height="1.05" fill="#fbc493"/><rect x="154.00" y="137.00" width="13.25" height="1.05" fill="#fbd6a5"/><rect x="154.00" y="138.00" width="13.25" height="1.05" fill="#fbe9b9"/><rect x="154.00" y="139.00" width="13.25" height="1.05" fill="#fbfbcc"/><rect x="154.00" y="140.00" width="13.25" height="1.05" fill="#fbf1c1"/><rect x="154.00" y="141.00" width="13.25" height="1.05" fill="#fbedbd"/><rect x="154.00" y="142.00" width="13.25" height="1.05" fill="#fbfaca"/><rect x="154.00" y="143.00" width="13.25" height="1.05" fill="#f1f7da"/><rect x="154.00" y="144.00" width="13.25" height="1.05" fill="#fafbce"/><rect x="154.00" y="145.00" width="13.25" height="1.05" fill="#f9facf"/><rect x="154.00" y="146.00" width="13.25" height="1.05" fill="#f3f8d7"/><rect x="154.00" y="147.00" width="13.25" height="1.05" fill="#f9face"/><rect x="154.00" y="148.00" width="13.25" height="1.05" fill="#fbd7a7"/><rect x="154.00" y="149.00" width="13.25" height="1.05" fill="#fbd6a6"/><rect x="154.00" y="150.00" width="13.25" height="1.05" fill="#fbd1a0"/><rect x="154.00" y="151.00" width="13.25" height="1.05" fill="#e1f0f0"/><rect x="154.00" y="152.00" width="13.25" height="1.05" fill="#eef6de"/><rect x="154.00" y="153.00" width="13.25" height="1.05" fill="#e9f4e4"/><rect x="154.00" y="154.00" width="13.25" height="1.05" fill="#e7f3e8"/><rect x="154.00" y="155.00" width="13.25" height="1.05" fill="#ecf5e0"/><rect x="154.00" y="156.00" width="13.25" height="1.05" fill="#f2f7d8"/><rect x="154.00" y="157.00" width="13.25" height="1.05" fill="#ecf5e0"/><rect x="154.00" y="158.00" width="13.25" height="1.05" fill="#f5f8d5"/><rect x="154.00" y="159.00" width="13.25" height="1.05" fill="#e9f3e5"/><rect x="154.00" y="160.00" width="13.25" height="1.05" fill="#c1ddeb"/><rect x="154.00" y="161.00" width="13.25" height="1.05" fill="#fbf0c0"/><rect x="154.00" y="162.00" width="13.25" height="1.05" fill="#fbf8c9"/><rect x="154.00" y="163.00" width="13.25" height="1.05" fill="#fbf4c5"/><rect x="154.00" y="164.00" width="13.25" height="1.05" fill="#f7f9d2"/><rect x="154.00" y="165.00" width="13.25" height="1.05" fill="#fbf5c6"/><rect x="154.00" y="166.00" width="13.25" height="1.05" fill="#fbf9ca"/><rect x="154.00" y="167.00" width="13.25" height="1.05" fill="#fbf6c7"/><rect x="154.00" y="168.00" width="13.25" height="1.05" fill="#fbd0a0"/><rect x="154.00" y="169.00" width="13.25" height="1.05" fill="#fbc897"/><rect x="154.00" y="170.00" width="13.25" height="1.05" fill="#fbd5a5"/><rect x="154.00" y="171.00" width="13.25" height="1.05" fill="#fbd8a7"/><rect x="154.00" y="172.00" width="13.25" height="1.05" fill="#fbe7b8"/><rect x="154.00" y="173.00" width="13.25" height="1.05" fill="#fbd4a4"/><rect x="154.00" y="174.00" width="13.25" height="1.05" fill="#fbe2b2"/><rect x="154.00" y="175.00" width="13.25" height="1.05" fill="#fbe4b4"/><rect x="154.00" y="176.00" width="13.25" height="1.05" fill="#d1e7f0"/><rect x="154.00" y="177.00" width="13.25" height="1.05" fill="#d7ebf2"/><rect x="154.00" y="178.00" width="13.25" height="1.05" fill="#cfe6ef"/><rect x="154.00" y="179.00" width="13.25" height="1.05" fill="#d9ecf2"/><rect x="154.00" y="180.00" width="13.25" height="1.05" fill="#d4e9f1"/><rect x="167.20" y="39.00" width="13.25" height="1.05" fill="#fbf3c4"/><rect x="167.20" y="40.00" width="13.25" height="1.05" fill="#fbf6c7"/><rect x="167.20" y="41.00" width="13.25" height="1.05" fill="#fbefbf"/><rect x="167.20" y="42.00" width="13.25" height="1.05" fill="#fbf2c3"/><rect x="167.20" y="43.00" width="13.25" height="1.05" fill="#fbeebe"/><rect x="167.20" y="44.00" width="13.25" height="1.05" fill="#fbc998"/><rect x="167.20" y="45.00" width="13.25" height="1.05" fill="#fbc897"/><rect x="167.20" y="46.00" width="13.25" height="1.05" fill="#fbdaaa"/><rect x="167.20" y="47.00" width="13.25" height="1.05" fill="#fbce9d"/><rect x="167.20" y="48.00" width="13.25" height="1.05" fill="#fbd09f"/><rect x="167.20" y="49.00" width="13.25" height="1.05" fill="#fbc594"/><rect x="167.20" y="50.00" width="13.25" height="1.05" fill="#fbd6a5"/><rect x="167.20" y="51.00" width="13.25" height="1.05" fill="#fbd09f"/><rect x="167.20" y="52.00" width="13.25" height="1.05" fill="#fbcd9c"/><rect x="167.20" y="53.00" width="13.25" height="1.05" fill="#fbcd9c"/><rect x="167.20" y="54.00" width="13.25" height="1.05" fill="#dd3f2f"/><rect x="167.20" y="55.00" width="13.25" height="1.05" fill="#e6563b"/><rect x="167.20" y="56.00" width="13.25" height="1.05" fill="#dd402f"/><rect x="167.20" y="57.00" width="13.25" height="1.05" fill="#ec6644"/><rect x="167.20" y="58.00" width="13.25" height="1.05" fill="#ee6b47"/><rect x="167.20" y="59.00" width="13.25" height="1.05" fill="#dc3c2d"/><rect x="167.20" y="60.00" width="13.25" height="1.05" fill="#fcaf7c"/><rect x="167.20" y="61.00" width="13.25" height="1.05" fill="#fcae7b"/><rect x="167.20" y="62.00" width="13.25" height="1.05" fill="#fcb582"/><rect x="167.20" y="63.00" width="13.25" height="1.05" fill="#fcae7b"/><rect x="167.20" y="64.00" width="13.25" height="1.05" fill="#fbc493"/><rect x="167.20" y="65.00" width="13.25" height="1.05" fill="#fca572"/><rect x="167.20" y="66.00" width="13.25" height="1.05" fill="#fbce9d"/><rect x="167.20" y="67.00" width="13.25" height="1.05" fill="#fcc392"/><rect x="167.20" y="68.00" width="13.25" height="1.05" fill="#fbca99"/><rect x="167.20" y="69.00" width="13.25" height="1.05" fill="#fbd9a8"/><rect x="167.20" y="70.00" width="13.25" height="1.05" fill="#fbd4a3"/><rect x="167.20" y="71.00" width="13.25" height="1.05" fill="#fca26f"/><rect x="167.20" y="72.00" width="13.25" height="1.05" fill="#fcb987"/><rect x="167.20" y="73.00" width="13.25" height="1.05" fill="#fcbe8c"/><rect x="167.20" y="74.00" width="13.25" height="1.05" fill="#fcb280"/><rect x="167.20" y="75.00" width="13.25" height="1.05" fill="#fbce9d"/><rect x="167.20" y="76.00" width="13.25" height="1.05" fill="#fbe1b1"/><rect x="167.20" y="77.00" width="13.25" height="1.05" fill="#fbdcac"/><rect x="167.20" y="78.00" width="13.25" height="1.05" fill="#fbdcab"/><rect x="167.20" y="79.00" width="13.25" height="1.05" fill="#fc935f"/><rect x="167.20" y="80.00" width="13.25" height="1.05" fill="#fcae7c"/><rect x="167.20" y="81.00" width="13.25" height="1.05" fill="#fc8c59"/><rect x="167.20" y="82.00" width="13.25" height="1.05" fill="#fc8e5a"/><rect x="167.20" y="83.00" width="13.25" height="1.05" fill="#fc8f5b"/><rect x="167.20" y="84.00" width="13.25" height="1.05" fill="#fc9b68"/><rect x="167.20" y="85.00" width="13.25" height="1.05" fill="#fcad7a"/><rect x="167.20" y="86.00" width="13.25" height="1.05" fill="#fbd6a5"/><rect x="167.20" y="87.00" width="13.25" height="1.05" fill="#fbd8a7"/><rect x="167.20" y="88.00" width="13.25" height="1.05" fill="#fbdcac"/><rect x="167.20" y="89.00" width="13.25" height="1.05" fill="#fbd7a7"/><rect x="167.20" y="90.00" width="13.25" height="1.05" fill="#fbdbab"/><rect x="167.20" y="91.00" width="13.25" height="1.05" fill="#fbcb9a"/><rect x="167.20" y="92.00" width="13.25" height="1.05" fill="#fbd3a2"/><rect x="167.20" y="93.00" width="13.25" height="1.05" fill="#fbdaa9"/><rect x="167.20" y="94.00" width="13.25" height="1.05" fill="#fbe5b5"/><rect x="167.20" y="95.00" width="13.25" height="1.05" fill="#fbd7a6"/><rect x="167.20" y="96.00" width="13.25" height="1.05" fill="#fbce9d"/><rect x="167.20" y="97.00" width="13.25" height="1.05" fill="#fbd2a2"/><rect x="167.20" y="98.00" width="13.25" height="1.05" fill="#fbd3a2"/><rect x="167.20" y="99.00" width="13.25" height="1.05" fill="#fbdbaa"/><rect x="167.20" y="100.00" width="13.25" height="1.05" fill="#fbc695"/><rect x="167.20" y="101.00" width="13.25" height="1.05" fill="#fbcb9a"/><rect x="167.20" y="102.00" width="13.25" height="1.05" fill="#fcae7b"/><rect x="167.20" y="103.00" width="13.25" height="1.05" fill="#fbcb9a"/><rect x="167.20" y="104.00" width="13.25" height="1.05" fill="#fbcc9b"/><rect x="167.20" y="105.00" width="13.25" height="1.05" fill="#fcc08e"/><rect x="167.20" y="106.00" width="13.25" height="1.05" fill="#fbca98"/><rect x="167.20" y="107.00" width="13.25" height="1.05" fill="#fbc998"/><rect x="167.20" y="108.00" width="13.25" height="1.05" fill="#fbcd9c"/><rect x="167.20" y="109.00" width="13.25" height="1.05" fill="#fbcf9e"/><rect x="167.20" y="110.00" width="13.25" height="1.05" fill="#fcc08e"/><rect x="167.20" y="111.00" width="13.25" height="1.05" fill="#fcc392"/><rect x="167.20" y="112.00" width="13.25" height="1.05" fill="#fcbe8c"/><rect x="167.20" y="113.00" width="13.25" height="1.05" fill="#fbcd9c"/><rect x="167.20" y="114.00" width="13.25" height="1.05" fill="#fbd6a6"/><rect x="167.20" y="115.00" width="13.25" height="1.05" fill="#fbddad"/><rect x="167.20" y="116.00" width="13.25" height="1.05" fill="#fbd09f"/><rect x="167.20" y="117.00" width="13.25" height="1.05" fill="#fbc997"/><rect x="167.20" y="118.00" width="13.25" height="1.05" fill="#fcb482"/><rect x="167.20" y="119.00" width="13.25" height="1.05" fill="#fbc997"/><rect x="167.20" y="120.00" width="13.25" height="1.05" fill="#fbc695"/><rect x="167.20" y="121.00" width="13.25" height="1.05" fill="#fbd7a7"/><rect x="167.20" y="122.00" width="13.25" height="1.05" fill="#fbc997"/><rect x="167.20" y="123.00" width="13.25" height="1.05" fill="#fbd6a5"/><rect x="167.20" y="124.00" width="13.25" height="1.05" fill="#fbd6a5"/><rect x="167.20" y="125.00" width="13.25" height="1.05" fill="#fbdaaa"/><rect x="167.20" y="126.00" width="13.25" height="1.05" fill="#fbe0b0"/><rect x="167.20" y="127.00" width="13.25" height="1.05" fill="#fbddad"/><rect x="167.20" y="128.00" width="13.25" height="1.05" fill="#fbedbe"/><rect x="167.20" y="129.00" width="13.25" height="1.05" fill="#fbeebf"/><rect x="167.20" y="130.00" width="13.25" height="1.05" fill="#fbebbc"/><rect x="167.20" y="131.00" width="13.25" height="1.05" fill="#fbd7a6"/><rect x="167.20" y="132.00" width="13.25" height="1.05" fill="#fbdcab"/><rect x="167.20" y="133.00" width="13.25" height="1.05" fill="#fbe7b7"/><rect x="167.20" y="134.00" width="13.25" height="1.05" fill="#fbf0c0"/><rect x="167.20" y="135.00" width="13.25" height="1.05" fill="#fbe8b8"/><rect x="167.20" y="136.00" width="13.25" height="1.05" fill="#fbdaaa"/><rect x="167.20" y="137.00" width="13.25" height="1.05" fill="#fbd5a5"/><rect x="167.20" y="138.00" width="13.25" height="1.05" fill="#fbe5b5"/><rect x="167.20" y="139.00" width="13.25" height="1.05" fill="#fbe8b8"/><rect x="167.20" y="140.00" width="13.25" height="1.05" fill="#f8fad0"/><rect x="167.20" y="141.00" width="13.25" height="1.05" fill="#f1f7d9"/><rect x="167.20" y="142.00" width="13.25" height="1.05" fill="#fbf4c5"/><rect x="167.20" y="143.00" width="13.25" height="1.05" fill="#f6f9d4"/><rect x="167.20" y="144.00" width="13.25" height="1.05" fill="#fbf3c4"/><rect x="167.20" y="145.00" width="13.25" height="1.05" fill="#f2f7d8"/><rect x="167.20" y="146.00" width="13.25" height="1.05" fill="#f5f8d5"/><rect x="167.20" y="147.00" width="13.25" height="1.05" fill="#fbf9ca"/><rect x="167.20" y="148.00" width="13.25" height="1.05" fill="#fbc493"/><rect x="167.20" y="149.00" width="13.25" height="1.05" fill="#fcb07e"/><rect x="167.20" y="150.00" width="13.25" height="1.05" fill="#fcbe8d"/><rect x="167.20" y="151.00" width="13.25" height="1.05" fill="#f5f9d4"/><rect x="167.20" y="152.00" width="13.25" height="1.05" fill="#fbf6c7"/><rect x="167.20" y="153.00" width="13.25" height="1.05" fill="#fbf5c6"/><rect x="167.20" y="154.00" width="13.25" height="1.05" fill="#f1f7d9"/><rect x="167.20" y="155.00" width="13.25" height="1.05" fill="#fbeebe"/><rect x="167.20" y="156.00" width="13.25" height="1.05" fill="#fbf7c8"/><rect x="167.20" y="157.00" width="13.25" height="1.05" fill="#fbf5c6"/><rect x="167.20" y="158.00" width="13.25" height="1.05" fill="#f2f7d9"/><rect x="167.20" y="159.00" width="13.25" height="1.05" fill="#f7f9d1"/><rect x="167.20" y="160.00" width="13.25" height="1.05" fill="#fbf1c2"/><rect x="167.20" y="161.00" width="13.25" height="1.05" fill="#fbe7b7"/><rect x="167.20" y="162.00" width="13.25" height="1.05" fill="#fbf9ca"/><rect x="167.20" y="163.00" width="13.25" height="1.05" fill="#fbf5c6"/><rect x="167.20" y="164.00" width="13.25" height="1.05" fill="#f9facf"/><rect x="167.20" y="165.00" width="13.25" height="1.05" fill="#fbf1c1"/><rect x="167.20" y="166.00" width="13.25" height="1.05" fill="#fbecbd"/><rect x="167.20" y="167.00" width="13.25" height="1.05" fill="#fbfbcc"/><rect x="167.20" y="168.00" width="13.25" height="1.05" fill="#fcba88"/><rect x="167.20" y="169.00" width="13.25" height="1.05" fill="#fca673"/><rect x="167.20" y="170.00" width="13.25" height="1.05" fill="#fca16e"/><rect x="167.20" y="171.00" width="13.25" height="1.05" fill="#fcb280"/><rect x="167.20" y="172.00" width="13.25" height="1.05" fill="#fcc18f"/><rect x="167.20" y="173.00" width="13.25" height="1.05" fill="#fbc796"/><rect x="167.20" y="174.00" width="13.25" height="1.05" fill="#fbc594"/><rect x="167.20" y="175.00" width="13.25" height="1.05" fill="#fcc392"/><rect x="167.20" y="176.00" width="13.25" height="1.05" fill="#fcbc8a"/><rect x="167.20" y="177.00" width="13.25" height="1.05" fill="#fbe3b3"/><rect x="167.20" y="178.00" width="13.25" height="1.05" fill="#fbd7a6"/><rect x="167.20" y="179.00" width="13.25" height="1.05" fill="#fbe1b1"/><rect x="167.20" y="180.00" width="13.25" height="1.05" fill="#fbebbb"/>
</g>
<rect x="0.30" y="70.00" width="2.60" height="30.00" fill="#9a9a9a" stroke="none" stroke-width="0.9"/>
<path d="M19.90 39.25H15.86M19.90 39.76H15.86M15.86 39.25V39.76M15.86 39.51H14.58M19.90 40.27H14.58M14.58 39.51V40.27M14.58 39.89H13.53M19.90 40.78H13.53M13.53 39.89V40.78M19.90 41.29H15.77M19.90 41.80H15.77M15.77 41.29V41.80M13.53 40.34H11.97M15.77 41.54H11.97M11.97 40.34V41.54M19.90 42.82H16.21M19.90 43.33H16.21M16.21 42.82V43.33M19.90 42.31H14.70M16.21 43.07H14.70M14.70 42.31V43.07M19.90 43.83H16.03M19.90 44.34H16.03M16.03 43.83V44.34M14.70 42.69H12.81M16.03 44.09H12.81M12.81 42.69V44.09M11.97 40.94H9.75M12.81 43.39H9.75M9.75 40.94V43.39M19.90 44.85H15.91M19.90 45.36H15.91M15.91 44.85V45.36M19.90 45.87H16.30M19.90 46.38H16.30M16.30 45.87V46.38M15.91 45.11H12.89M16.30 46.12H12.89M12.89 45.11V46.12M19.90 46.89H15.70M19.90 47.40H15.70M15.70 46.89V47.40M19.90 47.91H15.57M19.90 48.42H15.57M15.57 47.91V48.42M15.70 47.14H13.07M15.57 48.16H13.07M13.07 47.14V48.16M19.90 48.92H16.30M19.90 49.43H16.30M16.30 48.92V49.43M16.30 49.18H14.57M19.90 49.94H14.57M14.57 49.18V49.94M14.57 49.56H13.54M19.90 50.45H13.54M13.54 49.56V50.45M13.07 47.65H11.23M13.54 50.01H11.23M11.23 47.65V50.01M19.90 51.47H15.63M19.90 51.98H15.63M15.63 51.47V51.98M19.90 50.96H14.37M15.63 51.72H14.37M14.37 50.96V51.72M11.23 48.83H9.50M14.37 51.34H9.50M9.50 48.83V51.34M12.89 45.62H8.54M9.50 50.09H8.54M8.54 45.62V50.09M19.90 52.49H16.01M19.90 53.00H16.01M16.01 52.49V53.00M19.90 54.52H15.81M19.90 55.03H15.81M15.81 54.52V55.03M19.90 54.01H13.97M15.81 54.78H13.97M13.97 54.01V54.78M13.97 54.40H13.14M19.90 55.54H13.14M13.14 54.40V55.54M19.90 53.50H12.58M13.14 54.97H12.58M12.58 53.50V54.97M16.01 52.74H11.38M12.58 54.24H11.38M11.38 52.74V54.24M8.54 47.85H7.96M11.38 53.49H7.96M7.96 47.85V53.49M9.75 42.16H6.09M7.96 50.67H6.09M6.09 42.16V50.67M19.90 57.07H15.61M19.90 57.58H15.61M15.61 57.07V57.58M19.90 56.56H14.01M15.61 57.32H14.01M14.01 56.56V57.32M19.90 56.05H13.01M14.01 56.94H13.01M13.01 56.05V56.94M19.90 58.08H15.76M19.90 58.59H15.76M15.76 58.08V58.59M19.90 59.61H15.72M19.90 60.12H15.72M15.72 59.61V60.12M19.90 59.10H13.98M15.72 59.87H13.98M13.98 59.10V59.87M13.98 59.48H13.14M19.90 60.63H13.14M13.14 59.48V60.63M19.90 61.65H15.72M19.90 62.16H15.72M15.72 61.65V62.16M19.90 61.14H14.65M15.72 61.90H14.65M14.65 61.14V61.90M13.14 60.06H11.48M14.65 61.52H11.48M11.48 60.06V61.52M15.76 58.34H10.70M11.48 60.79H10.70M10.70 58.34V60.79M13.01 56.49H9.62M10.70 59.56H9.62M9.62 56.49V59.56M19.90 63.17H16.14M19.90 63.68H16.14M16.14 63.17V63.68M19.90 62.67H14.62M16.14 63.43H14.62M14.62 62.67V63.43M9.62 58.03H8.53M14.62 63.05H8.53M8.53 58.03V63.05M6.09 46.42H5.68M8.53 60.54H5.68M5.68 46.42V60.54M19.90 64.70H15.58M19.90 65.21H15.58M15.58 64.70V65.21M15.58 64.96H14.04M19.90 65.72H14.04M14.04 64.96V65.72M19.90 64.19H12.97M14.04 65.34H12.97M12.97 64.19V65.34M19.90 66.74H15.58M19.90 67.25H15.58M15.58 66.74V67.25M19.90 66.23H14.06M15.58 66.99H14.06M14.06 66.23V66.99M19.90 67.75H15.67M19.90 68.26H15.67M15.67 67.75V68.26M19.90 68.77H15.82M19.90 69.28H15.82M15.82 68.77V69.28M15.67 68.01H13.57M15.82 69.03H13.57M13.57 68.01V69.03M19.90 70.30H15.76M19.90 70.81H15.76M15.76 70.30V70.81M19.90 69.79H14.29M15.76 70.55H14.29M14.29 69.79V70.55M13.57 68.52H11.63M14.29 70.17H11.63M11.63 68.52V70.17M14.06 66.61H9.87M11.63 69.34H9.87M9.87 66.61V69.34M12.97 64.76H9.28M9.87 67.98H9.28M9.28 64.76V67.98M19.90 72.33H16.06M19.90 72.84H16.06M16.06 72.33V72.84M19.90 71.83H14.60M16.06 72.59H14.60M14.60 71.83V72.59M19.90 71.32H13.29M14.60 72.21H13.29M13.29 71.32V72.21M19.90 73.35H16.24M19.90 73.86H16.24M16.24 73.35V73.86M19.90 74.37H16.28M19.90 74.88H16.28M16.28 74.37V74.88M16.24 73.61H12.96M16.28 74.62H12.96M12.96 73.61V74.62M13.29 71.76H10.76M12.96 74.12H10.76M10.76 71.76V74.12M9.28 66.37H7.92M10.76 72.94H7.92M7.92 66.37V72.94M5.68 53.48H4.24M7.92 69.65H4.24M4.24 53.48V69.65M19.90 75.39H16.25M19.90 75.90H16.25M16.25 75.39V75.90M16.25 75.64H14.50M19.90 76.41H14.50M14.50 75.64V76.41M14.50 76.02H12.96M19.90 76.92H12.96M12.96 76.02V76.92M19.90 78.44H16.31M19.90 78.95H16.31M16.31 78.44V78.95M19.90 77.93H14.09M16.31 78.70H14.09M14.09 77.93V78.70M14.09 78.31H13.41M19.90 79.46H13.41M13.41 78.31V79.46M19.90 77.42H12.78M13.41 78.89H12.78M12.78 77.42V78.89M12.96 76.47H10.91M12.78 78.16H10.91M10.91 76.47V78.16M19.90 79.97H15.60M19.90 80.48H15.60M15.60 79.97V80.48M19.90 80.99H16.22M19.90 81.50H16.22M16.22 80.99V81.50M19.90 82.51H15.76M19.90 83.02H15.76M15.76 82.51V83.02M19.90 82.00H14.58M15.76 82.77H14.58M14.58 82.00V82.77M16.22 81.24H12.83M14.58 82.39H12.83M12.83 81.24V82.39M15.60 80.22H11.67M12.83 81.81H11.67M11.67 80.22V81.81M19.90 84.04H16.16M19.90 84.55H16.16M16.16 84.04V84.55M19.90 83.53H14.25M16.16 84.29H14.25M14.25 83.53V84.29M19.90 85.06H15.86M19.90 85.57H15.86M15.86 85.06V85.57M15.86 85.31H14.57M19.90 86.08H14.57M14.57 85.31V86.08M14.25 83.91H12.21M14.57 85.69H12.21M12.21 83.91V85.69M11.67 81.02H9.14M12.21 84.80H9.14M9.14 81.02V84.80M19.90 86.58H15.68M19.90 87.09H15.68M15.68 86.58V87.09M15.68 86.84H14.47M19.90 87.60H14.47M14.47 86.84V87.60M19.90 88.11H15.93M19.90 88.62H15.93M15.93 88.11V88.62M15.93 88.37H14.72M19.90 89.13H14.72M14.72 88.37V89.13M14.47 87.22H11.53M14.72 88.75H11.53M11.53 87.22V88.75M9.14 82.91H8.15M11.53 87.98H8.15M8.15 82.91V87.98M10.91 77.31H6.66M8.15 85.45H6.66M6.66 77.31V85.45M19.90 89.64H16.03M19.90 90.15H16.03M16.03 89.64V90.15M19.90 90.66H16.32M19.90 91.17H16.32M16.32 90.66V91.17M16.03 89.89H13.26M16.32 90.91H13.26M13.26 89.89V90.91M19.90 91.67H15.91M19.90 92.18H15.91M15.91 91.67V92.18M13.26 90.40H12.17M15.91 91.93H12.17M12.17 90.40V91.93M19.90 92.69H16.02M19.90 93.20H16.02M16.02 92.69V93.20M19.90 93.71H16.28M19.90 94.22H16.28M16.28 93.71V94.22M16.02 92.95H12.98M16.28 93.96H12.98M12.98 92.95V93.96M19.90 94.73H15.93M19.90 95.24H15.93M15.93 94.73V95.24M12.98 93.46H11.85M15.93 94.98H11.85M11.85 93.46V94.98M19.90 95.75H15.90M19.90 96.25H15.90M15.90 95.75V96.25M11.85 94.22H11.28M15.90 96.00H11.28M11.28 94.22V96.00M19.90 97.27H16.25M19.90 97.78H16.25M16.25 97.27V97.78M19.90 96.76H14.54M16.25 97.53H14.54M14.54 96.76V97.53M14.54 97.15H13.03M19.90 98.29H13.03M13.03 97.15V98.29M11.28 95.11H9.95M13.03 97.72H9.95M9.95 95.11V97.72M12.17 91.17H8.63M9.95 96.41H8.63M8.63 91.17V96.41M19.90 99.31H15.77M19.90 99.82H15.77M15.77 99.31V99.82M15.77 99.56H14.65M19.90 100.33H14.65M14.65 99.56V100.33M19.90 100.83H15.75M19.90 101.34H15.75M15.75 100.83V101.34M14.65 99.94H12.85M15.75 101.09H12.85M12.85 99.94V101.09M19.90 98.80H12.16M12.85 100.52H12.16M12.16 98.80V100.52M19.90 102.87H16.22M19.90 103.38H16.22M16.22 102.87V103.38M19.90 102.36H14.26M16.22 103.12H14.26M14.26 102.36V103.12M19.90 101.85H12.99M14.26 102.74H12.99M12.99 101.85V102.74M19.90 104.40H15.73M19.90 104.91H15.73M15.73 104.40V104.91M19.90 103.89H14.60M15.73 104.65H14.60M14.60 103.89V104.65M12.99 102.30H11.08M14.60 104.27H11.08M11.08 102.30V104.27M19.90 105.42H15.66M19.90 105.92H15.66M15.66 105.42V105.92M19.90 106.43H15.57M19.90 106.94H15.57M15.57 106.43V106.94M15.57 106.69H14.11M19.90 107.45H14.11M14.11 106.69V107.45M15.66 105.67H12.62M14.11 107.07H12.62M12.62 105.67V107.07M19.90 107.96H16.06M19.90 108.47H16.06M16.06 107.96V108.47M12.62 106.37H11.39M16.06 108.21H11.39M11.39 106.37V108.21M11.08 103.28H8.70M11.39 107.29H8.70M8.70 103.28V107.29M12.16 99.66H7.73M8.70 105.29H7.73M7.73 99.66V105.29M19.90 109.49H15.58M19.90 110.00H15.58M15.58 109.49V110.00M15.58 109.74H14.54M19.90 110.50H14.54M14.54 109.74V110.50M19.90 108.98H13.34M14.54 110.12H13.34M13.34 108.98V110.12M19.90 111.01H16.04M19.90 111.52H16.04M16.04 111.01V111.52M13.34 109.55H11.84M16.04 111.27H11.84M11.84 109.55V111.27M19.90 112.54H15.92M19.90 113.05H15.92M15.92 112.54V113.05M19.90 112.03H14.72M15.92 112.79H14.72M14.72 112.03V112.79M11.84 110.41H10.80M14.72 112.41H10.80M10.80 110.41V112.41M19.90 113.56H15.58M19.90 114.07H15.58M15.58 113.56V114.07M15.58 113.81H14.23M19.90 114.58H14.23M14.23 113.81V114.58M10.80 111.41H9.33M14.23 114.19H9.33M9.33 111.41V114.19M7.73 102.47H6.25M9.33 112.80H6.25M6.25 102.47V112.80M8.63 93.79H4.93M6.25 107.64H4.93M4.93 93.79V107.64M6.66 81.38H4.33M4.93 100.71H4.33M4.33 81.38V100.71M19.90 115.08H16.13M19.90 115.59H16.13M16.13 115.08V115.59M16.13 115.34H14.32M19.90 116.10H14.32M14.32 115.34V116.10M19.90 117.12H16.10M19.90 117.63H16.10M16.10 117.12V117.63M19.90 116.61H14.49M16.10 117.38H14.49M14.49 116.61V117.38M14.32 115.72H11.74M14.49 116.99H11.74M11.74 115.72V116.99M19.90 118.14H15.92M19.90 118.65H15.92M15.92 118.14V118.65M15.92 118.39H14.52M19.90 119.16H14.52M14.52 118.39V119.16M19.90 119.67H16.23M19.90 120.17H16.23M16.23 119.67V120.17M19.90 120.68H16.09M19.90 121.19H16.09M16.09 120.68V121.19M16.23 119.92H13.35M16.09 120.94H13.35M13.35 119.92V120.94M19.90 122.72H15.89M19.90 123.23H15.89M15.89 122.72V123.23M19.90 122.21H14.06M15.89 122.97H14.06M14.06 122.21V122.97M19.90 121.70H13.19M14.06 122.59H13.19M13.19 121.70V122.59M13.35 120.43H10.84M13.19 122.15H10.84M10.84 120.43V122.15M14.52 118.77H9.74M10.84 121.29H9.74M9.74 118.77V121.29M11.74 116.36H8.72M9.74 120.03H8.72M8.72 116.36V120.03M19.90 123.74H15.95M19.90 124.25H15.95M15.95 123.74V124.25M15.95 123.99H14.49M19.90 124.75H14.49M14.49 123.99V124.75M19.90 126.28H16.02M19.90 126.79H16.02M16.02 126.28V126.79M19.90 125.77H14.27M16.02 126.54H14.27M14.27 125.77V126.54M19.90 125.26H13.67M14.27 126.15H13.67M13.67 125.26V126.15M14.49 124.37H11.46M13.67 125.71H11.46M11.46 124.37V125.71M19.90 127.81H15.93M19.90 128.32H15.93M15.93 127.81V128.32M19.90 127.30H14.51M15.93 128.06H14.51M14.51 127.30V128.06M14.51 127.68H12.89M19.90 128.83H12.89M12.89 127.68V128.83M11.46 125.04H10.02M12.89 128.25H10.02M10.02 125.04V128.25M8.72 118.19H6.74M10.02 126.65H6.74M6.74 118.19V126.65M19.90 129.33H16.28M19.90 129.84H16.28M16.28 129.33V129.84M16.28 129.59H14.43M19.90 130.35H14.43M14.43 129.59V130.35M19.90 131.37H15.56M19.90 131.88H15.56M15.56 131.37V131.88M19.90 130.86H14.14M15.56 131.62H14.14M14.14 130.86V131.62M19.90 132.39H16.06M19.90 132.90H16.06M16.06 132.39V132.90M14.14 131.24H12.61M16.06 132.64H12.61M12.61 131.24V132.64M19.90 133.41H15.67M19.90 133.92H15.67M15.67 133.41V133.92M19.90 134.42H15.74M19.90 134.93H15.74M15.74 134.42V134.93M15.67 133.66H13.09M15.74 134.68H13.09M13.09 133.66V134.68M19.90 135.44H15.95M19.90 135.95H15.95M15.95 135.44V135.95M13.09 134.17H11.63M15.95 135.70H11.63M11.63 134.17V135.70M12.61 131.94H9.69M11.63 134.93H9.69M9.69 131.94V134.93M14.43 129.97H8.76M9.69 133.44H8.76M8.76 129.97V133.44M19.90 136.97H15.56M19.90 137.48H15.56M15.56 136.97V137.48M19.90 137.99H15.99M19.90 138.50H15.99M15.99 137.99V138.50M15.56 137.22H13.05M15.99 138.24H13.05M13.05 137.22V138.24M19.90 139.00H15.84M19.90 139.51H15.84M15.84 139.00V139.51M13.05 137.73H11.96M15.84 139.26H11.96M11.96 137.73V139.26M19.90 136.46H11.38M11.96 138.50H11.38M11.38 136.46V138.50M19.90 140.53H16.09M19.90 141.04H16.09M16.09 140.53V141.04M19.90 140.02H14.42M16.09 140.79H14.42M14.42 140.02V140.79M11.38 137.48H10.12M14.42 140.40H10.12M10.12 137.48V140.40M19.90 141.55H15.97M19.90 142.06H15.97M15.97 141.55V142.06M15.97 141.80H14.59M19.90 142.57H14.59M14.59 141.80V142.57M14.59 142.19H13.44M19.90 143.08H13.44M13.44 142.19V143.08M19.90 143.58H15.86M19.90 144.09H15.86M15.86 143.58V144.09M19.90 145.62H15.66M19.90 146.13H15.66M15.66 145.62V146.13M19.90 145.11H13.97M15.66 145.88H13.97M13.97 145.11V145.88M13.97 145.49H13.52M19.90 146.64H13.52M13.52 145.49V146.64M19.90 144.60H12.55M13.52 146.07H12.55M12.55 144.60V146.07M15.86 143.84H11.01M12.55 145.33H11.01M11.01 143.84V145.33M13.44 142.63H10.25M11.01 144.59H10.25M10.25 142.63V144.59M19.90 147.15H15.59M19.90 147.66H15.59M15.59 147.15V147.66M15.59 147.40H14.12M19.90 148.17H14.12M14.12 147.40V148.17M19.90 148.67H16.02M19.90 149.18H16.02M16.02 148.67V149.18M16.02 148.93H14.45M19.90 149.69H14.45M14.45 148.93V149.69M19.90 150.20H16.05M19.90 150.71H16.05M16.05 150.20V150.71M14.45 149.31H12.13M16.05 150.46H12.13M12.13 149.31V150.46M12.13 149.88H11.72M19.90 151.22H11.72M11.72 149.88V151.22M19.90 152.24H16.01M19.90 152.75H16.01M16.01 152.24V152.75M19.90 151.73H14.29M16.01 152.49H14.29M14.29 151.73V152.49M19.90 153.25H15.62M19.90 153.76H15.62M15.62 153.25V153.76M14.29 152.11H12.12M15.62 153.51H12.12M12.12 152.11V153.51M11.72 150.55H9.87M12.12 152.81H9.87M9.87 150.55V152.81M14.12 147.78H9.14M9.87 151.68H9.14M9.14 147.78V151.68M10.25 143.61H7.20M9.14 149.73H7.20M7.20 143.61V149.73M10.12 138.94H5.89M7.20 146.67H5.89M5.89 138.94V146.67M8.76 131.70H5.42M5.89 142.81H5.42M5.42 131.70V142.81M6.74 122.42H3.97M5.42 137.26H3.97M3.97 122.42V137.26M19.90 154.27H16.24M19.90 154.78H16.24M16.24 154.27V154.78M16.24 154.53H14.02M19.90 155.29H14.02M14.02 154.53V155.29M14.02 154.91H13.13M19.90 155.80H13.13M13.13 154.91V155.80M19.90 156.82H16.10M19.90 157.33H16.10M16.10 156.82V157.33M19.90 156.31H14.33M16.10 157.07H14.33M14.33 156.31V157.07M14.33 156.69H13.28M19.90 157.83H13.28M13.28 156.69V157.83M13.28 157.26H12.74M19.90 158.34H12.74M12.74 157.26V158.34M19.90 158.85H15.82M19.90 159.36H15.82M15.82 158.85V159.36M12.74 157.80H11.26M15.82 159.11H11.26M11.26 157.80V159.11M13.13 155.35H9.97M11.26 158.46H9.97M9.97 155.35V158.46M19.90 160.38H16.08M19.90 160.89H16.08M16.08 160.38V160.89M19.90 159.87H14.18M16.08 160.63H14.18M14.18 159.87V160.63M19.90 161.40H15.65M19.90 161.91H15.65M15.65 161.40V161.91M19.90 162.42H15.93M19.90 162.92H15.93M15.93 162.42V162.92M19.90 163.43H16.11M19.90 163.94H16.11M16.11 163.43V163.94M15.93 162.67H13.16M16.11 163.69H13.16M13.16 162.67V163.69M19.90 164.45H15.87M19.90 164.96H15.87M15.87 164.45V164.96M15.87 164.71H14.41M19.90 165.47H14.41M14.41 164.71V165.47M13.16 163.18H11.64M14.41 165.09H11.64M11.64 163.18V165.09M15.65 161.65H10.78M11.64 164.13H10.78M10.78 161.65V164.13M14.18 160.25H9.37M10.78 162.89H9.37M9.37 160.25V162.89M19.90 165.98H16.19M19.90 166.49H16.19M16.19 165.98V166.49M19.90 167.00H16.28M19.90 167.50H16.28M16.28 167.00V167.50M16.28 167.25H14.73M19.90 168.01H14.73M14.73 167.25V168.01M14.73 167.63H13.06M19.90 168.52H13.06M13.06 167.63V168.52M19.90 169.54H16.04M19.90 170.05H16.04M16.04 169.54V170.05M19.90 169.03H14.60M16.04 169.79H14.60M14.60 169.03V169.79M13.06 168.08H11.53M14.60 169.41H11.53M11.53 168.08V169.41M16.19 166.23H10.83M11.53 168.74H10.83M10.83 166.23V168.74M9.37 161.57H7.50M10.83 167.49H7.50M7.50 161.57V167.49M19.90 171.07H16.02M19.90 171.58H16.02M16.02 171.07V171.58M19.90 170.56H14.69M16.02 171.32H14.69M14.69 170.56V171.32M19.90 172.08H15.86M19.90 172.59H15.86M15.86 172.08V172.59M14.69 170.94H12.12M15.86 172.34H12.12M12.12 170.94V172.34M7.50 164.53H7.23M12.12 171.64H7.23M7.23 164.53V171.64M9.97 156.90H6.02M7.23 168.08H6.02M6.02 156.90V168.08M19.90 174.12H15.67M19.90 174.63H15.67M15.67 174.12V174.63M19.90 173.61H14.49M15.67 174.38H14.49M14.49 173.61V174.38M14.49 173.99H13.20M19.90 175.14H13.20M13.20 173.99V175.14M13.20 174.57H12.12M19.90 175.65H12.12M12.12 174.57V175.65M19.90 173.10H11.87M12.12 175.11H11.87M11.87 173.10V175.11M19.90 176.67H16.15M19.90 177.17H16.15M16.15 176.67V177.17M19.90 176.16H14.49M16.15 176.92H14.49M14.49 176.16V176.92M19.90 177.68H16.13M19.90 178.19H16.13M16.13 177.68V178.19M19.90 178.70H16.04M19.90 179.21H16.04M16.04 178.70V179.21M16.13 177.94H13.53M16.04 178.96H13.53M13.53 177.94V178.96M13.53 178.45H12.11M19.90 179.72H12.11M12.11 178.45V179.72M14.49 176.54H11.06M12.11 179.08H11.06M11.06 176.54V179.08M19.90 180.23H15.90M19.90 180.74H15.90M15.90 180.23V180.74M15.90 180.48H14.43M19.90 181.25H14.43M14.43 180.48V181.25M11.06 177.81H9.93M14.43 180.86H9.93M9.93 177.81V180.86M11.87 174.10H8.83M9.93 179.34H8.83M8.83 174.10V179.34M6.02 162.49H5.31M8.83 176.72H5.31M5.31 162.49V176.72M3.97 129.84H2.23M5.31 169.61H2.23M2.23 129.84V169.61M4.33 91.05H1.32M2.23 149.72H1.32M1.32 91.05V149.72M4.24 61.57H0.80M1.32 120.38H0.80M0.80 61.57V120.38" stroke="#000" stroke-width="0.85" fill="none"/>
<rect x="16.20" y="39.00" width="3.70" height="142.50" fill="#000" stroke="none" stroke-width="0.9"/>
<path d="M53.58 39.00V28.30H66.82V39.00" stroke="#555" stroke-width="0.9" fill="none"/>
<path d="M40.35 39.00V27.00H60.20V28.30" stroke="#555" stroke-width="0.9" fill="none"/>
<path d="M27.12 39.00V26.50H50.28V27.00" stroke="#555" stroke-width="0.9" fill="none"/>
<path d="M80.05 39.00V23.40H93.28V39.00" stroke="#555" stroke-width="0.9" fill="none"/>
<path d="M38.70 26.50V20.10H86.67V23.40" stroke="#555" stroke-width="0.9" fill="none"/>
<path d="M107.80 39.00V26.00H121.00V39.00" stroke="#555" stroke-width="0.9" fill="none"/>
<path d="M134.20 39.00V24.30H147.40V39.00" stroke="#555" stroke-width="0.9" fill="none"/>
<path d="M114.40 26.00V18.40H140.80V24.30" stroke="#555" stroke-width="0.9" fill="none"/>
<path d="M160.60 39.00V18.40H173.80V39.00" stroke="#555" stroke-width="0.9" fill="none"/>
<path d="M127.60 18.40V13.50H167.20V18.40" stroke="#555" stroke-width="0.9" fill="none"/>
<path d="M62.68 20.10V4.30H147.40V13.50" stroke="#555" stroke-width="0.9" fill="none"/>
<text x="22.22" y="184.30" font-size="8.2" fill="#ff0000" textLength="16.40" lengthAdjust="spacing" transform="rotate(90 22.22 184.30)">CLP</text>
<text x="35.45" y="184.30" font-size="8.2" fill="#ff0000" textLength="16.40" lengthAdjust="spacing" transform="rotate(90 35.45 184.30)">CLP</text>
<text x="48.68" y="184.30" font-size="8.2" fill="#ff0000" textLength="16.40" lengthAdjust="spacing" transform="rotate(90 48.68 184.30)">CLP</text>
<text x="61.92" y="184.30" font-size="8.2" fill="#ff0000" textLength="16.40" lengthAdjust="spacing" transform="rotate(90 61.92 184.30)">CLP</text>
<text x="75.15" y="184.30" font-size="8.2" fill="#ff0000" textLength="16.40" lengthAdjust="spacing" transform="rotate(90 75.15 184.30)">CLP</text>
<text x="88.38" y="184.30" font-size="8.2" fill="#ff0000" textLength="16.40" lengthAdjust="spacing" transform="rotate(90 88.38 184.30)">CLP</text>
<text x="103.90" y="184.30" font-size="8.2" fill="#111" textLength="24.00" lengthAdjust="spacing" transform="rotate(90 103.90 184.30)">Sham</text>
<text x="117.10" y="184.30" font-size="8.2" fill="#111" textLength="24.00" lengthAdjust="spacing" transform="rotate(90 117.10 184.30)">Sham</text>
<text x="130.30" y="184.30" font-size="8.2" fill="#111" textLength="24.00" lengthAdjust="spacing" transform="rotate(90 130.30 184.30)">Sham</text>
<text x="143.50" y="184.30" font-size="8.2" fill="#111" textLength="24.00" lengthAdjust="spacing" transform="rotate(90 143.50 184.30)">Sham</text>
<text x="156.70" y="184.30" font-size="8.2" fill="#111" textLength="24.00" lengthAdjust="spacing" transform="rotate(90 156.70 184.30)">Sham</text>
<text x="169.90" y="184.30" font-size="8.2" fill="#111" textLength="24.00" lengthAdjust="spacing" transform="rotate(90 169.90 184.30)">Sham</text>
<defs><linearGradient id="cb" x1="0" y1="0" x2="0" y2="1"><stop offset="0" stop-color="#d73027"/><stop offset="0.2" stop-color="#fc8d59"/><stop offset="0.4" stop-color="#ffffbf"/><stop offset="0.6" stop-color="#e0f3f8"/><stop offset="0.8" stop-color="#91bfdb"/><stop offset="1" stop-color="#4575b4"/></linearGradient></defs>
<rect x="185.20" y="53.90" width="4.60" height="47.20" fill="url(#cb)" stroke="none" stroke-width="0.9"/>
<text x="197.60" y="61.00" font-size="8.6" fill="#111" stroke="#111" stroke-width="0.18" text-anchor="end">2</text>
<text x="197.60" y="69.60" font-size="8.6" fill="#111" stroke="#111" stroke-width="0.18" text-anchor="end">1</text>
<text x="197.60" y="78.20" font-size="8.6" fill="#111" stroke="#111" stroke-width="0.18" text-anchor="end">0</text>
<text x="197.60" y="86.60" font-size="8.6" fill="#111" stroke="#111" stroke-width="0.18" text-anchor="end">-1</text>
<text x="197.60" y="94.80" font-size="8.6" fill="#111" stroke="#111" stroke-width="0.18" text-anchor="end">-2</text>
<text x="197.60" y="103.40" font-size="8.6" fill="#111" stroke="#111" stroke-width="0.18" text-anchor="end">-3</text>
<rect x="279.00" y="194.20" width="7.00" height="7.20" fill="#ff0000" stroke="none" stroke-width="0.9"/>
<text x="291.70" y="202.50" font-size="11.0" fill="#ff0000" textLength="24.60" lengthAdjust="spacing">CLP</text>
<circle cx="328.20" cy="198.50" r="3.2" fill="none" stroke="#555" stroke-width="0.9"/>
<text x="337.10" y="202.50" font-size="11.0" fill="#111" textLength="33.20" lengthAdjust="spacing">Sham</text>
<text x="365.00" y="53.10" font-size="7.3" fill="#111" stroke="#111" stroke-width="0.18" textLength="138.50" lengthAdjust="spacingAndGlyphs">PD-1, PD-L1 cancer immunotherapy pathway</text>
<rect x="581.60" y="47.30" width="43.40" height="6.30" fill="#f8766d" stroke="#9a3b35" stroke-width="0.7"/>
<text x="268.00" y="60.70" font-size="7.3" fill="#111" stroke="#111" stroke-width="0.18" textLength="235.50" lengthAdjust="spacingAndGlyphs">Role of Pattern Recognition Receptors in Recognition of Bacteria and Viruses</text>
<rect x="538.40" y="54.90" width="43.20" height="6.60" fill="#00bfc4" stroke="#2a3d3d" stroke-width="0.8"/>
<text x="450.40" y="68.30" font-size="7.3" fill="#111" stroke="#111" stroke-width="0.18" textLength="53.10" lengthAdjust="spacingAndGlyphs">HMGB1 Signaling</text>
<rect x="538.40" y="62.50" width="43.20" height="6.60" fill="#00bfc4" stroke="#2a3d3d" stroke-width="0.8"/>
<text x="428.30" y="75.90" font-size="7.3" fill="#111" stroke="#111" stroke-width="0.18" textLength="75.20" lengthAdjust="spacingAndGlyphs">B cell Receptor Signaling</text>
<rect x="538.40" y="70.10" width="43.20" height="6.60" fill="#00bfc4" stroke="#2a3d3d" stroke-width="0.8"/>
<text x="324.90" y="83.50" font-size="7.3" fill="#111" stroke="#111" stroke-width="0.18" textLength="178.60" lengthAdjust="spacingAndGlyphs">Role of PKR in Interferon Induction and Antiviral Response</text>
<rect x="538.40" y="77.70" width="43.20" height="6.60" fill="#00bfc4" stroke="#2a3d3d" stroke-width="0.8"/>
<text x="330.30" y="91.10" font-size="7.3" fill="#111" stroke="#111" stroke-width="0.18" textLength="173.20" lengthAdjust="spacingAndGlyphs">Inhibition of ARE-Mediated mRNA Degradation Pathway</text>
<rect x="538.40" y="85.30" width="43.20" height="6.60" fill="#00bfc4" stroke="#2a3d3d" stroke-width="0.8"/>
<text x="464.20" y="98.70" font-size="7.3" fill="#111" stroke="#111" stroke-width="0.18" textLength="39.30" lengthAdjust="spacingAndGlyphs">Th1 Pathway</text>
<rect x="533.10" y="92.90" width="48.50" height="6.60" fill="#00bfc4" stroke="#2a3d3d" stroke-width="0.8"/>
<text x="387.80" y="106.30" font-size="7.3" fill="#111" stroke="#111" stroke-width="0.18" textLength="115.70" lengthAdjust="spacingAndGlyphs">iCOS-iCOSL Signaling in T Helper Cells</text>
<rect x="533.10" y="100.50" width="48.50" height="6.60" fill="#00bfc4" stroke="#2a3d3d" stroke-width="0.8"/>
<text x="397.40" y="113.90" font-size="7.3" fill="#111" stroke="#111" stroke-width="0.18" textLength="106.10" lengthAdjust="spacingAndGlyphs">Hepatic Fibrosis Signaling Pathway</text>
<rect x="533.10" y="108.10" width="48.50" height="6.60" fill="#00bfc4" stroke="#2a3d3d" stroke-width="0.8"/>
<text x="456.30" y="121.50" font-size="7.3" fill="#111" stroke="#111" stroke-width="0.18" textLength="47.20" lengthAdjust="spacingAndGlyphs">NF-kB Signaling</text>
<rect x="533.10" y="115.70" width="48.50" height="6.60" fill="#00bfc4" stroke="#2a3d3d" stroke-width="0.8"/>
<text x="374.10" y="129.10" font-size="7.3" fill="#111" stroke="#111" stroke-width="0.18" textLength="129.40" lengthAdjust="spacingAndGlyphs">Cardiac Hypertrophy Signaling (Enhanced)</text>
<rect x="528.40" y="123.30" width="53.20" height="6.60" fill="#00bfc4" stroke="#2a3d3d" stroke-width="0.8"/>
<text x="324.70" y="136.70" font-size="7.3" fill="#111" stroke="#111" stroke-width="0.18" textLength="178.80" lengthAdjust="spacingAndGlyphs">Systemic Lupus Erythematosus in T Cell Signaling Pathway</text>
<rect x="527.90" y="130.90" width="53.70" height="6.60" fill="#00bfc4" stroke="#2a3d3d" stroke-width="0.8"/>
<text x="385.70" y="144.30" font-size="7.3" fill="#111" stroke="#111" stroke-width="0.18" textLength="117.80" lengthAdjust="spacingAndGlyphs">Neuroinflammation Signaling Pathway</text>
<rect x="526.80" y="138.50" width="54.80" height="6.60" fill="#00bfc4" stroke="#2a3d3d" stroke-width="0.8"/>
<text x="329.20" y="151.90" font-size="7.3" fill="#111" stroke="#111" stroke-width="0.18" textLength="174.30" lengthAdjust="spacingAndGlyphs">Crosstalk between Dendritic Cells and Natural Killer Cells</text>
<rect x="524.50" y="146.10" width="57.10" height="6.60" fill="#00bfc4" stroke="#2a3d3d" stroke-width="0.8"/>
<text x="453.10" y="159.50" font-size="7.3" fill="#111" stroke="#111" stroke-width="0.18" textLength="50.40" lengthAdjust="spacingAndGlyphs">TREM1 Signaling</text>
<rect x="516.70" y="153.70" width="64.90" height="6.60" fill="#00bfc4" stroke="#2a3d3d" stroke-width="0.8"/>
<text x="324.70" y="167.10" font-size="7.3" fill="#111" stroke="#111" stroke-width="0.18" textLength="178.80" lengthAdjust="spacingAndGlyphs">Systemic Lupus Erythematosus in B Cell Signaling Pathway</text>
<rect x="514.90" y="161.30" width="66.70" height="6.60" fill="#00bfc4" stroke="#2a3d3d" stroke-width="0.8"/>
<text x="425.50" y="174.70" font-size="7.3" fill="#111" stroke="#111" stroke-width="0.18" textLength="78.00" lengthAdjust="spacingAndGlyphs">Dendritic Cell Maturation</text>
<rect x="513.20" y="168.90" width="68.40" height="6.60" fill="#00bfc4" stroke="#2a3d3d" stroke-width="0.8"/>
<rect x="507.50" y="45.50" width="123.00" height="131.30" fill="none" stroke="#777" stroke-width="0.9"/>
<line x1="516.50" y1="176.80" x2="516.50" y2="178.50" stroke="#777" stroke-width="0.8"/>
<text x="516.50" y="186.70" font-size="8.4" fill="#111" stroke="#111" stroke-width="0.18" text-anchor="middle">-3</text>
<line x1="538.22" y1="176.80" x2="538.22" y2="178.50" stroke="#777" stroke-width="0.8"/>
<text x="538.22" y="186.70" font-size="8.4" fill="#111" stroke="#111" stroke-width="0.18" text-anchor="middle">-2</text>
<line x1="559.94" y1="176.80" x2="559.94" y2="178.50" stroke="#777" stroke-width="0.8"/>
<text x="559.94" y="186.70" font-size="8.4" fill="#111" stroke="#111" stroke-width="0.18" text-anchor="middle">-1</text>
<line x1="581.66" y1="176.80" x2="581.66" y2="178.50" stroke="#777" stroke-width="0.8"/>
<text x="581.66" y="186.70" font-size="8.4" fill="#111" stroke="#111" stroke-width="0.18" text-anchor="middle">0</text>
<line x1="603.38" y1="176.80" x2="603.38" y2="178.50" stroke="#777" stroke-width="0.8"/>
<text x="603.38" y="186.70" font-size="8.4" fill="#111" stroke="#111" stroke-width="0.18" text-anchor="middle">1</text>
<line x1="625.10" y1="176.80" x2="625.10" y2="178.50" stroke="#777" stroke-width="0.8"/>
<text x="625.10" y="186.70" font-size="8.4" fill="#111" stroke="#111" stroke-width="0.18" text-anchor="middle">2</text>
<text x="537.60" y="195.60" font-size="8.4" fill="#111" stroke="#111" stroke-width="0.18" textLength="24.90" lengthAdjust="spacingAndGlyphs">Z-score</text>
<line x1="29.40" y1="246.40" x2="29.40" y2="352.60" stroke="#4a4a4a" stroke-width="0.9"/>
<line x1="25.10" y1="352.40" x2="29.40" y2="352.40" stroke="#4a4a4a" stroke-width="0.9"/>
<text x="24.10" y="355.00" font-size="9.0" fill="#111" stroke="#111" stroke-width="0.18" text-anchor="end">0</text>
<line x1="25.10" y1="325.90" x2="29.40" y2="325.90" stroke="#4a4a4a" stroke-width="0.9"/>
<text x="24.10" y="328.50" font-size="9.0" fill="#111" stroke="#111" stroke-width="0.18" text-anchor="end">5</text>
<line x1="25.10" y1="299.40" x2="29.40" y2="299.40" stroke="#4a4a4a" stroke-width="0.9"/>
<text x="24.10" y="302.00" font-size="9.0" fill="#111" stroke="#111" stroke-width="0.18" text-anchor="end">10</text>
<line x1="25.10" y1="272.90" x2="29.40" y2="272.90" stroke="#4a4a4a" stroke-width="0.9"/>
<text x="24.10" y="275.50" font-size="9.0" fill="#111" stroke="#111" stroke-width="0.18" text-anchor="end">15</text>
<line x1="25.10" y1="246.40" x2="29.40" y2="246.40" stroke="#4a4a4a" stroke-width="0.9"/>
<text x="24.10" y="249.00" font-size="9.0" fill="#111" stroke="#111" stroke-width="0.18" text-anchor="end">20</text>
<line x1="29.00" y1="352.40" x2="130.60" y2="352.40" stroke="#4a4a4a" stroke-width="0.9"/>
<text x="8.60" y="300.90" font-size="8.5" fill="#111" stroke="#111" stroke-width="0.18" text-anchor="middle" textLength="74.50" lengthAdjust="spacingAndGlyphs" transform="rotate(-90 8.60 300.90)">MFI on plasma cells</text>
<rect x="37.00" y="351.20" width="14.60" height="1.20" fill="none" stroke="#222" stroke-width="0.8"/>
<rect x="60.50" y="349.40" width="14.60" height="3.00" fill="none" stroke="#ff4545" stroke-width="0.7"/>
<rect x="83.60" y="319.80" width="14.80" height="32.60" fill="none" stroke="#333" stroke-width="0.9"/>
<rect x="107.30" y="290.10" width="14.50" height="62.30" fill="none" stroke="#ff4545" stroke-width="0.7"/>
<circle cx="40.89" cy="351.28" r="2.0" fill="none" stroke="#111" stroke-width="0.8"/>
<circle cx="41.46" cy="350.68" r="2.0" fill="none" stroke="#111" stroke-width="0.8"/>
<circle cx="46.80" cy="351.42" r="2.0" fill="none" stroke="#111" stroke-width="0.8"/>
<circle cx="40.45" cy="352.29" r="2.0" fill="none" stroke="#111" stroke-width="0.8"/>
<circle cx="39.66" cy="351.25" r="2.0" fill="none" stroke="#111" stroke-width="0.8"/>
<circle cx="48.94" cy="350.91" r="2.0" fill="none" stroke="#111" stroke-width="0.8"/>
<circle cx="44.04" cy="352.61" r="2.0" fill="none" stroke="#111" stroke-width="0.8"/>
<circle cx="48.56" cy="350.98" r="2.0" fill="none" stroke="#111" stroke-width="0.8"/>
<circle cx="42.91" cy="352.33" r="2.0" fill="none" stroke="#111" stroke-width="0.8"/>
<circle cx="43.21" cy="352.90" r="2.0" fill="none" stroke="#111" stroke-width="0.8"/>
<circle cx="41.10" cy="352.88" r="2.0" fill="none" stroke="#111" stroke-width="0.8"/>
<circle cx="44.81" cy="351.15" r="2.0" fill="none" stroke="#111" stroke-width="0.8"/>
<rect x="65.11" y="346.02" width="4.2" height="4.2" fill="#ff0000"/>
<rect x="68.02" y="346.54" width="4.2" height="4.2" fill="#ff0000"/>
<rect x="70.25" y="347.85" width="4.2" height="4.2" fill="#ff0000"/>
<rect x="64.13" y="346.49" width="4.2" height="4.2" fill="#ff0000"/>
<rect x="66.89" y="346.35" width="4.2" height="4.2" fill="#ff0000"/>
<rect x="69.93" y="345.99" width="4.2" height="4.2" fill="#ff0000"/>
<rect x="65.80" y="347.67" width="4.2" height="4.2" fill="#ff0000"/>
<rect x="63.01" y="348.59" width="4.2" height="4.2" fill="#ff0000"/>
<rect x="64.33" y="348.13" width="4.2" height="4.2" fill="#ff0000"/>
<rect x="66.43" y="346.74" width="4.2" height="4.2" fill="#ff0000"/>
<rect x="64.38" y="345.84" width="4.2" height="4.2" fill="#ff0000"/>
<rect x="61.94" y="348.90" width="4.2" height="4.2" fill="#ff0000"/>
<rect x="63.59" y="348.15" width="4.2" height="4.2" fill="#ff0000"/>
<rect x="61.15" y="347.75" width="4.2" height="4.2" fill="#ff0000"/>
<rect x="64.06" y="347.50" width="4.2" height="4.2" fill="#ff0000"/>
<rect x="63.32" y="345.76" width="4.2" height="4.2" fill="#ff0000"/>
<circle cx="90.10" cy="306.80" r="2.0" fill="none" stroke="#111" stroke-width="0.7"/>
<circle cx="92.30" cy="309.70" r="2.0" fill="none" stroke="#111" stroke-width="0.7"/>
<circle cx="89.40" cy="312.30" r="2.0" fill="none" stroke="#111" stroke-width="0.7"/>
<circle cx="93.00" cy="313.00" r="2.0" fill="none" stroke="#111" stroke-width="0.7"/>
<circle cx="91.60" cy="315.20" r="2.0" fill="none" stroke="#111" stroke-width="0.7"/>
<circle cx="85.80" cy="320.20" r="2.0" fill="none" stroke="#111" stroke-width="0.7"/>
<circle cx="88.70" cy="319.80" r="2.0" fill="none" stroke="#111" stroke-width="0.7"/>
<circle cx="91.60" cy="319.50" r="2.0" fill="none" stroke="#111" stroke-width="0.7"/>
<circle cx="96.60" cy="319.80" r="2.0" fill="none" stroke="#111" stroke-width="0.7"/>
<circle cx="90.60" cy="321.60" r="2.0" fill="none" stroke="#111" stroke-width="0.7"/>
<circle cx="93.70" cy="322.40" r="2.0" fill="none" stroke="#111" stroke-width="0.7"/>
<circle cx="93.00" cy="324.50" r="2.0" fill="none" stroke="#111" stroke-width="0.7"/>
<circle cx="88.00" cy="326.00" r="2.0" fill="none" stroke="#111" stroke-width="0.7"/>
<line x1="91.00" y1="310.50" x2="91.00" y2="329.00" stroke="#222" stroke-width="0.8"/>
<line x1="87.50" y1="310.50" x2="94.50" y2="310.50" stroke="#222" stroke-width="0.8"/>
<line x1="87.50" y1="329.00" x2="94.50" y2="329.00" stroke="#222" stroke-width="0.8"/>
<rect x="114.40" y="266.40" width="4.4" height="4.4" fill="#ff0000"/>
<rect x="110.40" y="267.70" width="4.4" height="4.4" fill="#ff0000"/>
<rect x="106.40" y="275.00" width="4.4" height="4.4" fill="#ff0000"/>
<rect x="110.40" y="277.60" width="4.4" height="4.4" fill="#ff0000"/>
<rect x="117.70" y="279.60" width="4.4" height="4.4" fill="#ff0000"/>
<rect x="107.10" y="280.90" width="4.4" height="4.4" fill="#ff0000"/>
<rect x="112.40" y="282.20" width="4.4" height="4.4" fill="#ff0000"/>
<rect x="111.10" y="286.20" width="4.4" height="4.4" fill="#ff0000"/>
<rect x="112.40" y="288.80" width="4.4" height="4.4" fill="#ff0000"/>
<rect x="107.10" y="292.80" width="4.4" height="4.4" fill="#ff0000"/>
<rect x="115.00" y="293.40" width="4.4" height="4.4" fill="#ff0000"/>
<rect x="117.70" y="296.70" width="4.4" height="4.4" fill="#ff0000"/>
<rect x="106.40" y="298.70" width="4.4" height="4.4" fill="#ff0000"/>
<rect x="114.40" y="300.00" width="4.4" height="4.4" fill="#ff0000"/>
<rect x="113.00" y="304.00" width="4.4" height="4.4" fill="#ff0000"/>
<rect x="109.70" y="305.30" width="4.4" height="4.4" fill="#ff0000"/>
<line x1="114.50" y1="277.50" x2="114.50" y2="302.50" stroke="#ff0000" stroke-width="0.8"/>
<line x1="110.50" y1="277.50" x2="118.50" y2="277.50" stroke="#ff0000" stroke-width="0.8"/>
<line x1="110.50" y1="302.50" x2="118.50" y2="302.50" stroke="#ff0000" stroke-width="0.8"/>
<line x1="44.40" y1="352.40" x2="44.40" y2="354.80" stroke="#4a4a4a" stroke-width="0.9"/>
<line x1="67.80" y1="352.40" x2="67.80" y2="354.80" stroke="#4a4a4a" stroke-width="0.9"/>
<line x1="91.40" y1="352.40" x2="91.40" y2="354.80" stroke="#4a4a4a" stroke-width="0.9"/>
<line x1="114.30" y1="352.40" x2="114.30" y2="354.80" stroke="#4a4a4a" stroke-width="0.9"/>
<text x="33.50" y="366.00" font-size="8.4" fill="#111" stroke="#111" stroke-width="0.18" textLength="21.40" lengthAdjust="spacingAndGlyphs">Sham</text>
<text x="60.00" y="366.00" font-size="8.4" fill="#ff0000" stroke="#ff0000" stroke-width="0.18" textLength="15.40" lengthAdjust="spacingAndGlyphs">CLP</text>
<text x="81.60" y="366.00" font-size="8.4" fill="#111" stroke="#111" stroke-width="0.18" textLength="21.10" lengthAdjust="spacingAndGlyphs">Sham</text>
<text x="108.20" y="366.00" font-size="8.4" fill="#ff0000" stroke="#ff0000" stroke-width="0.18" textLength="14.30" lengthAdjust="spacingAndGlyphs">CLP</text>
<line x1="38.10" y1="371.40" x2="75.40" y2="371.40" stroke="#888" stroke-width="0.9"/>
<line x1="85.60" y1="371.40" x2="122.50" y2="371.40" stroke="#888" stroke-width="0.9"/>
<text x="49.10" y="381.60" font-size="8.4" fill="#111" stroke="#111" stroke-width="0.18" textLength="17.90" lengthAdjust="spacingAndGlyphs">PD-1</text>
<text x="93.60" y="381.60" font-size="8.4" fill="#111" stroke="#111" stroke-width="0.18" textLength="21.20" lengthAdjust="spacingAndGlyphs">PD-L1</text>
<path d="M87.50 259.20V252.90H116.50V259.20" stroke="#444" stroke-width="0.9" fill="none"/>
<text x="88.70" y="250.10" font-size="8.4" fill="#111" stroke="#111" stroke-width="0.18" textLength="39.00" lengthAdjust="spacingAndGlyphs">p &lt; 0.0001</text>
<path d="M42.10 339.60V332.80H70.80V339.60" stroke="#444" stroke-width="0.9" fill="none"/>
<text x="43.80" y="330.10" font-size="8.4" fill="#111" stroke="#111" stroke-width="0.18" textLength="38.00" lengthAdjust="spacingAndGlyphs">p &lt; 0.0001</text>
<line x1="194.40" y1="246.80" x2="194.40" y2="352.20" stroke="#4a4a4a" stroke-width="0.9"/>
<line x1="190.10" y1="351.70" x2="194.40" y2="351.70" stroke="#4a4a4a" stroke-width="0.9"/>
<text x="188.90" y="353.30" font-size="9.0" fill="#111" stroke="#111" stroke-width="0.18" text-anchor="end">0</text>
<line x1="190.10" y1="325.52" x2="194.40" y2="325.52" stroke="#4a4a4a" stroke-width="0.9"/>
<line x1="190.10" y1="299.35" x2="194.40" y2="299.35" stroke="#4a4a4a" stroke-width="0.9"/>
<text x="188.90" y="300.95" font-size="9.0" fill="#111" stroke="#111" stroke-width="0.18" text-anchor="end">50</text>
<line x1="190.10" y1="273.18" x2="194.40" y2="273.18" stroke="#4a4a4a" stroke-width="0.9"/>
<line x1="190.10" y1="247.00" x2="194.40" y2="247.00" stroke="#4a4a4a" stroke-width="0.9"/>
<text x="188.90" y="248.60" font-size="9.0" fill="#111" stroke="#111" stroke-width="0.18" text-anchor="end">100</text>
<line x1="194.00" y1="352.00" x2="296.00" y2="352.00" stroke="#4a4a4a" stroke-width="0.9"/>
<text x="160.90" y="301.00" font-size="8.5" fill="#111" stroke="#111" stroke-width="0.18" text-anchor="middle" textLength="120.70" lengthAdjust="spacingAndGlyphs" transform="rotate(-90 160.90 301.00)">% PD-1+ or PD-L1+ plasma cells</text>
<text x="172.40" y="300.50" font-size="8.5" fill="#111" stroke="#111" stroke-width="0.18" text-anchor="middle" textLength="80.00" lengthAdjust="spacingAndGlyphs" transform="rotate(-90 172.40 300.50)">(among plasma cells)</text>
<rect x="202.60" y="341.00" width="14.40" height="11.00" fill="none" stroke="#333" stroke-width="0.9"/>
<rect x="226.30" y="314.10" width="14.00" height="37.90" fill="none" stroke="#ff4545" stroke-width="0.7"/>
<rect x="249.30" y="286.20" width="14.40" height="65.80" fill="none" stroke="#333" stroke-width="0.9"/>
<rect x="272.50" y="256.50" width="15.00" height="95.50" fill="none" stroke="#ff4545" stroke-width="0.7"/>
<circle cx="209.60" cy="325.20" r="2.0" fill="none" stroke="#222" stroke-width="0.7"/>
<circle cx="207.00" cy="334.50" r="2.0" fill="none" stroke="#222" stroke-width="0.7"/>
<circle cx="211.50" cy="333.50" r="2.0" fill="none" stroke="#222" stroke-width="0.7"/>
<circle cx="214.50" cy="334.50" r="2.0" fill="none" stroke="#222" stroke-width="0.7"/>
<circle cx="204.50" cy="340.50" r="2.0" fill="none" stroke="#222" stroke-width="0.7"/>
<circle cx="208.50" cy="340.00" r="2.0" fill="none" stroke="#222" stroke-width="0.7"/>
<circle cx="212.50" cy="341.50" r="2.0" fill="none" stroke="#222" stroke-width="0.7"/>
<circle cx="216.00" cy="341.00" r="2.0" fill="none" stroke="#222" stroke-width="0.7"/>
<circle cx="205.50" cy="345.50" r="2.0" fill="none" stroke="#222" stroke-width="0.7"/>
<circle cx="210.00" cy="346.50" r="2.0" fill="none" stroke="#222" stroke-width="0.7"/>
<circle cx="214.50" cy="346.00" r="2.0" fill="none" stroke="#222" stroke-width="0.7"/>
<circle cx="212.50" cy="349.50" r="2.0" fill="none" stroke="#222" stroke-width="0.7"/>
<circle cx="207.50" cy="348.50" r="2.0" fill="none" stroke="#222" stroke-width="0.7"/>
<line x1="209.60" y1="333.50" x2="209.60" y2="348.50" stroke="#222" stroke-width="0.8"/>
<line x1="206.10" y1="333.50" x2="213.10" y2="333.50" stroke="#222" stroke-width="0.8"/>
<line x1="206.10" y1="348.50" x2="213.10" y2="348.50" stroke="#222" stroke-width="0.8"/>
<rect x="232.75" y="290.75" width="4.3" height="4.3" fill="#ff0000"/>
<rect x="230.05" y="293.65" width="4.3" height="4.3" fill="#ff0000"/>
<rect x="230.95" y="300.35" width="4.3" height="4.3" fill="#ff0000"/>
<rect x="227.35" y="305.85" width="4.3" height="4.3" fill="#ff0000"/>
<rect x="230.85" y="305.35" width="4.3" height="4.3" fill="#ff0000"/>
<rect x="234.85" y="306.35" width="4.3" height="4.3" fill="#ff0000"/>
<rect x="228.85" y="308.85" width="4.3" height="4.3" fill="#ff0000"/>
<rect x="233.35" y="309.35" width="4.3" height="4.3" fill="#ff0000"/>
<rect x="226.35" y="310.35" width="4.3" height="4.3" fill="#ff0000"/>
<rect x="236.35" y="310.85" width="4.3" height="4.3" fill="#ff0000"/>
<rect x="230.35" y="312.35" width="4.3" height="4.3" fill="#ff0000"/>
<rect x="233.85" y="313.85" width="4.3" height="4.3" fill="#ff0000"/>
<rect x="228.35" y="314.35" width="4.3" height="4.3" fill="#ff0000"/>
<rect x="231.85" y="316.35" width="4.3" height="4.3" fill="#ff0000"/>
<rect x="230.65" y="322.45" width="4.3" height="4.3" fill="#ff0000"/>
<line x1="233.00" y1="303.00" x2="233.00" y2="323.00" stroke="#ff0000" stroke-width="0.8"/>
<line x1="229.00" y1="303.00" x2="237.00" y2="303.00" stroke="#ff0000" stroke-width="0.8"/>
<line x1="229.00" y1="323.00" x2="237.00" y2="323.00" stroke="#ff0000" stroke-width="0.8"/>
<circle cx="250.20" cy="261.80" r="2.0" fill="none" stroke="#222" stroke-width="0.7"/>
<circle cx="258.30" cy="263.60" r="2.0" fill="none" stroke="#222" stroke-width="0.7"/>
<circle cx="251.10" cy="267.20" r="2.0" fill="none" stroke="#222" stroke-width="0.7"/>
<circle cx="254.70" cy="267.80" r="2.0" fill="none" stroke="#222" stroke-width="0.7"/>
<circle cx="254.70" cy="279.80" r="2.0" fill="none" stroke="#222" stroke-width="0.7"/>
<circle cx="258.30" cy="279.80" r="2.0" fill="none" stroke="#222" stroke-width="0.7"/>
<circle cx="251.50" cy="296.50" r="2.0" fill="none" stroke="#222" stroke-width="0.7"/>
<circle cx="255.00" cy="297.50" r="2.0" fill="none" stroke="#222" stroke-width="0.7"/>
<circle cx="259.50" cy="297.00" r="2.0" fill="none" stroke="#222" stroke-width="0.7"/>
<circle cx="262.00" cy="299.50" r="2.0" fill="none" stroke="#222" stroke-width="0.7"/>
<circle cx="253.50" cy="301.50" r="2.0" fill="none" stroke="#222" stroke-width="0.7"/>
<circle cx="257.50" cy="302.50" r="2.0" fill="none" stroke="#222" stroke-width="0.7"/>
<circle cx="254.00" cy="305.50" r="2.0" fill="none" stroke="#222" stroke-width="0.7"/>
<line x1="256.50" y1="268.00" x2="256.50" y2="305.00" stroke="#222" stroke-width="0.8"/>
<line x1="252.00" y1="268.00" x2="261.00" y2="268.00" stroke="#222" stroke-width="0.8"/>
<line x1="252.00" y1="305.00" x2="261.00" y2="305.00" stroke="#222" stroke-width="0.8"/>
<rect x="274.35" y="246.85" width="4.3" height="4.3" fill="#ff0000"/>
<rect x="277.85" y="246.25" width="4.3" height="4.3" fill="#ff0000"/>
<rect x="281.35" y="247.35" width="4.3" height="4.3" fill="#ff0000"/>
<rect x="283.85" y="248.85" width="4.3" height="4.3" fill="#ff0000"/>
<rect x="272.35" y="250.35" width="4.3" height="4.3" fill="#ff0000"/>
<rect x="275.85" y="249.85" width="4.3" height="4.3" fill="#ff0000"/>
<rect x="279.85" y="250.85" width="4.3" height="4.3" fill="#ff0000"/>
<rect x="283.35" y="252.35" width="4.3" height="4.3" fill="#ff0000"/>
<rect x="273.85" y="253.85" width="4.3" height="4.3" fill="#ff0000"/>
<rect x="277.85" y="254.85" width="4.3" height="4.3" fill="#ff0000"/>
<rect x="281.35" y="255.85" width="4.3" height="4.3" fill="#ff0000"/>
<rect x="276.35" y="257.85" width="4.3" height="4.3" fill="#ff0000"/>
<rect x="279.35" y="259.85" width="4.3" height="4.3" fill="#ff0000"/>
<rect x="276.35" y="262.35" width="4.3" height="4.3" fill="#ff0000"/>
<rect x="274.35" y="256.35" width="4.3" height="4.3" fill="#ff0000"/>
<rect x="277.75" y="271.75" width="4.3" height="4.3" fill="#ff0000"/>
<line x1="209.60" y1="352.00" x2="209.60" y2="355.20" stroke="#4a4a4a" stroke-width="0.9"/>
<line x1="233.00" y1="352.00" x2="233.00" y2="355.20" stroke="#4a4a4a" stroke-width="0.9"/>
<line x1="256.60" y1="352.00" x2="256.60" y2="355.20" stroke="#4a4a4a" stroke-width="0.9"/>
<line x1="279.60" y1="352.00" x2="279.60" y2="355.20" stroke="#4a4a4a" stroke-width="0.9"/>
<text x="200.90" y="364.80" font-size="8.4" fill="#111" stroke="#111" stroke-width="0.18" textLength="20.40" lengthAdjust="spacingAndGlyphs">Sham</text>
<text x="226.90" y="364.80" font-size="8.4" fill="#ff0000" stroke="#ff0000" stroke-width="0.18" textLength="14.80" lengthAdjust="spacingAndGlyphs">CLP</text>
<text x="248.60" y="364.80" font-size="8.4" fill="#111" stroke="#111" stroke-width="0.18" textLength="20.40" lengthAdjust="spacingAndGlyphs">Sham</text>
<text x="274.80" y="364.80" font-size="8.4" fill="#ff0000" stroke="#ff0000" stroke-width="0.18" textLength="14.80" lengthAdjust="spacingAndGlyphs">CLP</text>
<line x1="205.30" y1="371.20" x2="241.70" y2="371.20" stroke="#888" stroke-width="0.9"/>
<line x1="252.60" y1="371.20" x2="288.80" y2="371.20" stroke="#888" stroke-width="0.9"/>
<text x="215.70" y="381.10" font-size="8.4" fill="#111" stroke="#111" stroke-width="0.18" textLength="17.70" lengthAdjust="spacingAndGlyphs">PD-1</text>
<text x="260.70" y="381.10" font-size="8.4" fill="#111" stroke="#111" stroke-width="0.18" textLength="21.20" lengthAdjust="spacingAndGlyphs">PD-L1</text>
<path d="M252.40 242.00V235.40H280.40V242.00" stroke="#444" stroke-width="0.9" fill="none"/>
<text x="253.80" y="231.00" font-size="8.4" fill="#111" stroke="#111" stroke-width="0.18" textLength="38.60" lengthAdjust="spacingAndGlyphs">p &lt; 0.0001</text>
<path d="M205.30 284.30V277.50H233.50V284.30" stroke="#444" stroke-width="0.9" fill="none"/>
<text x="208.00" y="273.90" font-size="8.4" fill="#111" stroke="#111" stroke-width="0.18" textLength="38.60" lengthAdjust="spacingAndGlyphs">p &lt; 0.0001</text>
<line x1="346.60" y1="244.80" x2="346.60" y2="351.30" stroke="#4a4a4a" stroke-width="0.9"/>
<line x1="342.30" y1="350.50" x2="346.60" y2="350.50" stroke="#4a4a4a" stroke-width="0.9"/>
<text x="341.30" y="352.20" font-size="9.0" fill="#111" stroke="#111" stroke-width="0.18" text-anchor="end">0</text>
<line x1="342.30" y1="324.12" x2="346.60" y2="324.12" stroke="#4a4a4a" stroke-width="0.9"/>
<text x="341.30" y="325.82" font-size="9.0" fill="#111" stroke="#111" stroke-width="0.18" text-anchor="end">0.5</text>
<line x1="342.30" y1="297.75" x2="346.60" y2="297.75" stroke="#4a4a4a" stroke-width="0.9"/>
<text x="341.30" y="299.45" font-size="9.0" fill="#111" stroke="#111" stroke-width="0.18" text-anchor="end">1</text>
<line x1="342.30" y1="271.38" x2="346.60" y2="271.38" stroke="#4a4a4a" stroke-width="0.9"/>
<text x="341.30" y="273.07" font-size="9.0" fill="#111" stroke="#111" stroke-width="0.18" text-anchor="end">1.5</text>
<line x1="342.30" y1="245.00" x2="346.60" y2="245.00" stroke="#4a4a4a" stroke-width="0.9"/>
<text x="341.30" y="246.70" font-size="9.0" fill="#111" stroke="#111" stroke-width="0.18" text-anchor="end">2</text>
<line x1="346.20" y1="351.20" x2="414.70" y2="351.20" stroke="#4a4a4a" stroke-width="0.9"/>
<text x="323.50" y="297.70" font-size="8.5" fill="#111" stroke="#111" stroke-width="0.18" text-anchor="middle" textLength="101.00" lengthAdjust="spacingAndGlyphs" transform="rotate(-90 323.50 297.70)">LAG-3 MFI on plasma cells</text>
<rect x="357.10" y="288.40" width="17.60" height="62.80" fill="none" stroke="#333" stroke-width="0.9"/>
<rect x="386.00" y="288.40" width="17.70" height="62.80" fill="none" stroke="#ff4545" stroke-width="0.7"/>
<line x1="365.90" y1="274.40" x2="365.90" y2="302.00" stroke="#333" stroke-width="0.8"/>
<line x1="361.40" y1="274.40" x2="370.40" y2="274.40" stroke="#333" stroke-width="0.8"/>
<line x1="361.40" y1="302.00" x2="370.40" y2="302.00" stroke="#333" stroke-width="0.8"/>
<circle cx="365.90" cy="259.70" r="1.7" fill="none" stroke="#222" stroke-width="0.7"/>
<circle cx="365.90" cy="272.30" r="1.7" fill="none" stroke="#222" stroke-width="0.7"/>
<circle cx="359.90" cy="281.20" r="1.7" fill="none" stroke="#222" stroke-width="0.7"/>
<circle cx="365.90" cy="283.30" r="1.7" fill="none" stroke="#222" stroke-width="0.7"/>
<circle cx="365.90" cy="289.10" r="1.7" fill="none" stroke="#222" stroke-width="0.7"/>
<circle cx="360.10" cy="290.70" r="1.7" fill="none" stroke="#222" stroke-width="0.7"/>
<circle cx="372.40" cy="291.00" r="1.7" fill="none" stroke="#222" stroke-width="0.7"/>
<circle cx="372.40" cy="294.60" r="1.7" fill="none" stroke="#222" stroke-width="0.7"/>
<circle cx="365.90" cy="296.30" r="1.7" fill="none" stroke="#222" stroke-width="0.7"/>
<circle cx="368.80" cy="300.30" r="1.7" fill="none" stroke="#222" stroke-width="0.7"/>
<circle cx="362.70" cy="301.80" r="1.7" fill="none" stroke="#222" stroke-width="0.7"/>
<line x1="394.70" y1="274.00" x2="394.70" y2="302.50" stroke="#ff0000" stroke-width="0.8"/>
<line x1="390.20" y1="274.00" x2="399.20" y2="274.00" stroke="#ff0000" stroke-width="0.8"/>
<line x1="390.20" y1="302.50" x2="399.20" y2="302.50" stroke="#ff0000" stroke-width="0.8"/>
<rect x="390.00" y="265.10" width="3.6" height="3.6" fill="#ff0000"/>
<rect x="396.20" y="266.40" width="3.6" height="3.6" fill="#ff0000"/>
<rect x="392.90" y="277.90" width="3.6" height="3.6" fill="#ff0000"/>
<rect x="392.90" y="283.10" width="3.6" height="3.6" fill="#ff0000"/>
<rect x="390.00" y="291.00" width="3.6" height="3.6" fill="#ff0000"/>
<rect x="396.20" y="291.00" width="3.6" height="3.6" fill="#ff0000"/>
<rect x="390.00" y="296.70" width="3.6" height="3.6" fill="#ff0000"/>
<rect x="396.20" y="297.80" width="3.6" height="3.6" fill="#ff0000"/>
<rect x="392.90" y="301.00" width="3.6" height="3.6" fill="#ff0000"/>
<line x1="365.50" y1="351.20" x2="365.50" y2="355.10" stroke="#4a4a4a" stroke-width="0.9"/>
<line x1="394.30" y1="351.20" x2="394.30" y2="355.10" stroke="#4a4a4a" stroke-width="0.9"/>
<text x="356.10" y="363.90" font-size="8.4" fill="#111" stroke="#111" stroke-width="0.18" textLength="21.00" lengthAdjust="spacingAndGlyphs">Sham</text>
<text x="387.90" y="363.90" font-size="8.4" fill="#ff0000" stroke="#ff0000" stroke-width="0.18" textLength="14.00" lengthAdjust="spacingAndGlyphs">CLP</text>
<line x1="463.50" y1="244.80" x2="463.50" y2="351.50" stroke="#4a4a4a" stroke-width="0.9"/>
<line x1="459.20" y1="350.50" x2="463.50" y2="350.50" stroke="#4a4a4a" stroke-width="0.9"/>
<text x="459.60" y="352.60" font-size="9.0" fill="#111" stroke="#111" stroke-width="0.18" text-anchor="end">20</text>
<line x1="459.20" y1="329.40" x2="463.50" y2="329.40" stroke="#4a4a4a" stroke-width="0.9"/>
<text x="459.60" y="331.50" font-size="9.0" fill="#111" stroke="#111" stroke-width="0.18" text-anchor="end">25</text>
<line x1="459.20" y1="308.30" x2="463.50" y2="308.30" stroke="#4a4a4a" stroke-width="0.9"/>
<text x="459.60" y="310.40" font-size="9.0" fill="#111" stroke="#111" stroke-width="0.18" text-anchor="end">30</text>
<line x1="459.20" y1="287.20" x2="463.50" y2="287.20" stroke="#4a4a4a" stroke-width="0.9"/>
<text x="459.60" y="289.30" font-size="9.0" fill="#111" stroke="#111" stroke-width="0.18" text-anchor="end">35</text>
<line x1="459.20" y1="266.10" x2="463.50" y2="266.10" stroke="#4a4a4a" stroke-width="0.9"/>
<text x="459.60" y="268.20" font-size="9.0" fill="#111" stroke="#111" stroke-width="0.18" text-anchor="end">40</text>
<line x1="459.20" y1="245.00" x2="463.50" y2="245.00" stroke="#4a4a4a" stroke-width="0.9"/>
<text x="459.60" y="247.10" font-size="9.0" fill="#111" stroke="#111" stroke-width="0.18" text-anchor="end">45</text>
<line x1="463.20" y1="351.50" x2="531.00" y2="351.50" stroke="#4a4a4a" stroke-width="0.9"/>
<text x="433.60" y="294.20" font-size="8.5" fill="#111" stroke="#111" stroke-width="0.18" text-anchor="middle" textLength="86.50" lengthAdjust="spacingAndGlyphs" transform="rotate(-90 433.60 294.20)">% LAG-3+ plasma cells</text>
<text x="444.20" y="294.10" font-size="8.5" fill="#111" stroke="#111" stroke-width="0.18" text-anchor="middle" textLength="82.20" lengthAdjust="spacingAndGlyphs" transform="rotate(-90 444.20 294.10)">(among plasma cells)</text>
<rect x="473.80" y="299.30" width="17.70" height="52.20" fill="none" stroke="#333" stroke-width="0.9"/>
<rect x="502.60" y="299.90" width="18.00" height="51.60" fill="none" stroke="#ff4545" stroke-width="0.7"/>
<line x1="482.60" y1="280.70" x2="482.60" y2="316.40" stroke="#333" stroke-width="0.8"/>
<line x1="478.10" y1="280.70" x2="487.10" y2="280.70" stroke="#333" stroke-width="0.8"/>
<line x1="478.10" y1="316.40" x2="487.10" y2="316.40" stroke="#333" stroke-width="0.8"/>
<circle cx="482.60" cy="270.10" r="1.7" fill="none" stroke="#222" stroke-width="0.7"/>
<circle cx="479.80" cy="282.20" r="1.7" fill="none" stroke="#222" stroke-width="0.7"/>
<circle cx="479.80" cy="285.50" r="1.7" fill="none" stroke="#222" stroke-width="0.7"/>
<circle cx="485.90" cy="285.50" r="1.7" fill="none" stroke="#222" stroke-width="0.7"/>
<circle cx="479.80" cy="292.20" r="1.7" fill="none" stroke="#222" stroke-width="0.7"/>
<circle cx="485.90" cy="295.50" r="1.7" fill="none" stroke="#222" stroke-width="0.7"/>
<circle cx="482.60" cy="300.80" r="1.7" fill="none" stroke="#222" stroke-width="0.7"/>
<circle cx="482.60" cy="308.10" r="1.7" fill="none" stroke="#222" stroke-width="0.7"/>
<circle cx="482.60" cy="311.70" r="1.7" fill="none" stroke="#222" stroke-width="0.7"/>
<circle cx="482.60" cy="316.60" r="1.7" fill="none" stroke="#222" stroke-width="0.7"/>
<circle cx="482.80" cy="331.90" r="1.7" fill="none" stroke="#222" stroke-width="0.7"/>
<line x1="511.40" y1="273.40" x2="511.40" y2="324.20" stroke="#ff0000" stroke-width="0.8"/>
<line x1="506.65" y1="273.40" x2="516.15" y2="273.40" stroke="#ff0000" stroke-width="0.8"/>
<line x1="506.65" y1="324.20" x2="516.15" y2="324.20" stroke="#ff0000" stroke-width="0.8"/>
<rect x="509.60" y="262.00" width="3.6" height="3.6" fill="#ff0000"/>
<rect x="509.60" y="271.60" width="3.6" height="3.6" fill="#ff0000"/>
<rect x="507.10" y="277.50" width="3.6" height="3.6" fill="#ff0000"/>
<rect x="512.90" y="279.30" width="3.6" height="3.6" fill="#ff0000"/>
<rect x="507.10" y="306.70" width="3.6" height="3.6" fill="#ff0000"/>
<rect x="512.90" y="307.70" width="3.6" height="3.6" fill="#ff0000"/>
<rect x="509.80" y="314.00" width="3.6" height="3.6" fill="#ff0000"/>
<rect x="509.80" y="318.00" width="3.6" height="3.6" fill="#ff0000"/>
<rect x="509.80" y="338.70" width="3.6" height="3.6" fill="#ff0000"/>
<line x1="482.40" y1="351.50" x2="482.40" y2="354.60" stroke="#4a4a4a" stroke-width="0.9"/>
<line x1="511.40" y1="351.50" x2="511.40" y2="354.60" stroke="#4a4a4a" stroke-width="0.9"/>
<text x="473.70" y="364.00" font-size="8.4" fill="#111" stroke="#111" stroke-width="0.18" textLength="20.90" lengthAdjust="spacingAndGlyphs">Sham</text>
<text x="505.40" y="364.00" font-size="8.4" fill="#ff0000" stroke="#ff0000" stroke-width="0.18" textLength="14.40" lengthAdjust="spacingAndGlyphs">CLP</text>
<line x1="583.20" y1="244.50" x2="583.20" y2="350.60" stroke="#4a4a4a" stroke-width="0.9"/>
<line x1="578.90" y1="350.30" x2="583.20" y2="350.30" stroke="#4a4a4a" stroke-width="0.9"/>
<text x="579.20" y="352.40" font-size="9.0" fill="#111" stroke="#111" stroke-width="0.18" text-anchor="end">0</text>
<line x1="578.90" y1="338.52" x2="583.20" y2="338.52" stroke="#4a4a4a" stroke-width="0.9"/>
<text x="579.20" y="340.62" font-size="9.0" fill="#111" stroke="#111" stroke-width="0.18" text-anchor="end">10</text>
<line x1="578.90" y1="326.74" x2="583.20" y2="326.74" stroke="#4a4a4a" stroke-width="0.9"/>
<text x="579.20" y="328.84" font-size="9.0" fill="#111" stroke="#111" stroke-width="0.18" text-anchor="end">20</text>
<line x1="578.90" y1="314.96" x2="583.20" y2="314.96" stroke="#4a4a4a" stroke-width="0.9"/>
<text x="579.20" y="317.06" font-size="9.0" fill="#111" stroke="#111" stroke-width="0.18" text-anchor="end">30</text>
<line x1="578.90" y1="303.18" x2="583.20" y2="303.18" stroke="#4a4a4a" stroke-width="0.9"/>
<text x="579.20" y="305.28" font-size="9.0" fill="#111" stroke="#111" stroke-width="0.18" text-anchor="end">40</text>
<line x1="578.90" y1="291.40" x2="583.20" y2="291.40" stroke="#4a4a4a" stroke-width="0.9"/>
<text x="579.20" y="293.50" font-size="9.0" fill="#111" stroke="#111" stroke-width="0.18" text-anchor="end">50</text>
<line x1="578.90" y1="279.62" x2="583.20" y2="279.62" stroke="#4a4a4a" stroke-width="0.9"/>
<text x="579.20" y="281.72" font-size="9.0" fill="#111" stroke="#111" stroke-width="0.18" text-anchor="end">60</text>
<line x1="578.90" y1="267.84" x2="583.20" y2="267.84" stroke="#4a4a4a" stroke-width="0.9"/>
<text x="579.20" y="269.94" font-size="9.0" fill="#111" stroke="#111" stroke-width="0.18" text-anchor="end">70</text>
<line x1="578.90" y1="256.06" x2="583.20" y2="256.06" stroke="#4a4a4a" stroke-width="0.9"/>
<text x="579.20" y="258.16" font-size="9.0" fill="#111" stroke="#111" stroke-width="0.18" text-anchor="end">80</text>
<line x1="578.90" y1="244.28" x2="583.20" y2="244.28" stroke="#4a4a4a" stroke-width="0.9"/>
<text x="579.20" y="246.38" font-size="9.0" fill="#111" stroke="#111" stroke-width="0.18" text-anchor="end">90</text>
<line x1="582.60" y1="350.30" x2="685.00" y2="350.30" stroke="#4a4a4a" stroke-width="0.9"/>
<text x="560.80" y="288.30" font-size="8.5" fill="#111" stroke="#111" stroke-width="0.18" text-anchor="middle" textLength="85.00" lengthAdjust="spacingAndGlyphs" transform="rotate(-90 560.80 288.30)">% proliferating T cells</text>
<rect x="591.50" y="347.90" width="14.10" height="2.40" fill="none" stroke="#333" stroke-width="0.9"/>
<rect x="614.90" y="263.60" width="14.00" height="86.70" fill="none" stroke="#333" stroke-width="0.9"/>
<rect x="638.30" y="305.20" width="14.30" height="45.10" fill="none" stroke="#ff4545" stroke-width="0.7"/>
<rect x="661.60" y="297.10" width="13.70" height="53.20" fill="none" stroke="#ff4545" stroke-width="0.7"/>
<circle cx="598.40" cy="342.50" r="1.7" fill="none" stroke="#222" stroke-width="0.8"/>
<circle cx="598.40" cy="345.50" r="1.7" fill="none" stroke="#222" stroke-width="0.8"/>
<circle cx="598.40" cy="348.00" r="1.7" fill="none" stroke="#222" stroke-width="0.8"/>
<circle cx="598.40" cy="349.50" r="1.7" fill="none" stroke="#222" stroke-width="0.8"/>
<line x1="598.40" y1="344.00" x2="598.40" y2="350.00" stroke="#333" stroke-width="0.8"/>
<line x1="595.40" y1="344.00" x2="601.40" y2="344.00" stroke="#333" stroke-width="0.8"/>
<line x1="595.40" y1="350.00" x2="601.40" y2="350.00" stroke="#333" stroke-width="0.8"/>
<line x1="621.60" y1="256.10" x2="621.60" y2="268.90" stroke="#333" stroke-width="0.8"/>
<line x1="618.35" y1="256.10" x2="624.85" y2="256.10" stroke="#333" stroke-width="0.8"/>
<line x1="618.35" y1="268.90" x2="624.85" y2="268.90" stroke="#333" stroke-width="0.8"/>
<circle cx="621.60" cy="254.10" r="1.7" fill="none" stroke="#222" stroke-width="0.8"/>
<circle cx="621.60" cy="260.60" r="1.7" fill="none" stroke="#222" stroke-width="0.8"/>
<circle cx="621.60" cy="266.50" r="1.7" fill="none" stroke="#222" stroke-width="0.8"/>
<circle cx="621.60" cy="268.60" r="1.7" fill="none" stroke="#222" stroke-width="0.8"/>
<line x1="645.50" y1="283.60" x2="645.50" y2="324.60" stroke="#ff4545" stroke-width="0.8"/>
<line x1="642.00" y1="283.60" x2="649.00" y2="283.60" stroke="#ff4545" stroke-width="0.8"/>
<line x1="642.00" y1="324.60" x2="649.00" y2="324.60" stroke="#ff4545" stroke-width="0.8"/>
<line x1="669.00" y1="278.50" x2="669.00" y2="314.50" stroke="#ff4545" stroke-width="0.8"/>
<line x1="665.50" y1="278.50" x2="672.50" y2="278.50" stroke="#ff4545" stroke-width="0.8"/>
<line x1="665.50" y1="314.50" x2="672.50" y2="314.50" stroke="#ff4545" stroke-width="0.8"/>
<line x1="645.50" y1="272.60" x2="669.00" y2="260.90" stroke="#ff4545" stroke-width="0.7"/>
<rect x="643.80" y="270.90" width="3.4" height="3.4" fill="#ff0000"/>
<rect x="667.30" y="259.20" width="3.4" height="3.4" fill="#ff0000"/>
<line x1="645.50" y1="286.80" x2="669.00" y2="281.80" stroke="#ff4545" stroke-width="0.7"/>
<rect x="643.80" y="285.10" width="3.4" height="3.4" fill="#ff0000"/>
<rect x="667.30" y="280.10" width="3.4" height="3.4" fill="#ff0000"/>
<line x1="645.50" y1="291.70" x2="669.00" y2="287.20" stroke="#ff4545" stroke-width="0.7"/>
<rect x="643.80" y="290.00" width="3.4" height="3.4" fill="#ff0000"/>
<rect x="667.30" y="285.50" width="3.4" height="3.4" fill="#ff0000"/>
<line x1="645.50" y1="300.10" x2="669.00" y2="296.20" stroke="#ff4545" stroke-width="0.7"/>
<rect x="643.80" y="298.40" width="3.4" height="3.4" fill="#ff0000"/>
<rect x="667.30" y="294.50" width="3.4" height="3.4" fill="#ff0000"/>
<line x1="645.50" y1="309.30" x2="669.00" y2="300.70" stroke="#ff4545" stroke-width="0.7"/>
<rect x="643.80" y="307.60" width="3.4" height="3.4" fill="#ff0000"/>
<rect x="667.30" y="299.00" width="3.4" height="3.4" fill="#ff0000"/>
<line x1="645.50" y1="310.90" x2="669.00" y2="313.20" stroke="#ff4545" stroke-width="0.7"/>
<rect x="643.80" y="309.20" width="3.4" height="3.4" fill="#ff0000"/>
<rect x="667.30" y="311.50" width="3.4" height="3.4" fill="#ff0000"/>
<line x1="645.50" y1="316.80" x2="669.00" y2="311.50" stroke="#ff4545" stroke-width="0.7"/>
<rect x="643.80" y="315.10" width="3.4" height="3.4" fill="#ff0000"/>
<rect x="667.30" y="309.80" width="3.4" height="3.4" fill="#ff0000"/>
<line x1="645.50" y1="331.20" x2="669.00" y2="315.00" stroke="#ff4545" stroke-width="0.7"/>
<rect x="643.80" y="329.50" width="3.4" height="3.4" fill="#ff0000"/>
<rect x="667.30" y="313.30" width="3.4" height="3.4" fill="#ff0000"/>
<line x1="645.50" y1="334.80" x2="669.00" y2="316.80" stroke="#ff4545" stroke-width="0.7"/>
<rect x="643.80" y="333.10" width="3.4" height="3.4" fill="#ff0000"/>
<rect x="667.30" y="315.10" width="3.4" height="3.4" fill="#ff0000"/>
<line x1="598.40" y1="350.30" x2="598.40" y2="353.00" stroke="#4a4a4a" stroke-width="0.9"/>
<line x1="622.10" y1="350.30" x2="622.10" y2="353.00" stroke="#4a4a4a" stroke-width="0.9"/>
<line x1="645.50" y1="350.30" x2="645.50" y2="353.00" stroke="#4a4a4a" stroke-width="0.9"/>
<line x1="668.50" y1="350.30" x2="668.50" y2="353.00" stroke="#4a4a4a" stroke-width="0.9"/>
<path d="M620.40 243.80V239.30H644.50V243.80" stroke="#444" stroke-width="0.9" fill="none"/>
<text x="614.30" y="235.30" font-size="8.4" fill="#111" stroke="#111" stroke-width="0.18" textLength="39.10" lengthAdjust="spacingAndGlyphs">p = 0.0020</text>
<path d="M643.70 257.30V252.60H668.50V257.30" stroke="#444" stroke-width="0.9" fill="none"/>
<text x="645.70" y="249.70" font-size="8.4" fill="#111" stroke="#111" stroke-width="0.18" textLength="40.00" lengthAdjust="spacingAndGlyphs">p = 0.0098</text>
<text x="558.20" y="364.40" font-size="9.0" fill="#111" stroke="#111" stroke-width="0.18" text-anchor="middle" textLength="45.80" lengthAdjust="spacingAndGlyphs">Sham T cells</text>
<line x1="595.70" y1="362.60" x2="600.10" y2="362.60" stroke="#111" stroke-width="1.0"/>
<line x1="597.90" y1="360.40" x2="597.90" y2="364.80" stroke="#111" stroke-width="1.0"/>
<line x1="619.60" y1="362.60" x2="624.00" y2="362.60" stroke="#111" stroke-width="1.0"/>
<line x1="621.80" y1="360.40" x2="621.80" y2="364.80" stroke="#111" stroke-width="1.0"/>
<line x1="643.00" y1="362.60" x2="647.40" y2="362.60" stroke="#111" stroke-width="1.0"/>
<line x1="645.20" y1="360.40" x2="645.20" y2="364.80" stroke="#111" stroke-width="1.0"/>
<line x1="666.20" y1="362.60" x2="670.60" y2="362.60" stroke="#111" stroke-width="1.0"/>
<line x1="668.40" y1="360.40" x2="668.40" y2="364.80" stroke="#111" stroke-width="1.0"/>
<text x="558.20" y="377.00" font-size="9.0" fill="#111" stroke="#111" stroke-width="0.18" text-anchor="middle" textLength="43.30" lengthAdjust="spacingAndGlyphs">αCD3/CD28</text>
<line x1="596.60" y1="373.70" x2="599.20" y2="373.70" stroke="#111" stroke-width="1.0"/>
<line x1="619.60" y1="373.70" x2="624.00" y2="373.70" stroke="#111" stroke-width="1.0"/>
<line x1="621.80" y1="371.50" x2="621.80" y2="375.90" stroke="#111" stroke-width="1.0"/>
<line x1="643.00" y1="373.70" x2="647.40" y2="373.70" stroke="#111" stroke-width="1.0"/>
<line x1="645.20" y1="371.50" x2="645.20" y2="375.90" stroke="#111" stroke-width="1.0"/>
<line x1="666.20" y1="373.70" x2="670.60" y2="373.70" stroke="#111" stroke-width="1.0"/>
<line x1="668.40" y1="371.50" x2="668.40" y2="375.90" stroke="#111" stroke-width="1.0"/>
<text x="558.20" y="391.00" font-size="9.0" fill="#ff0000" stroke="#ff0000" stroke-width="0.18" text-anchor="middle" textLength="60.70" lengthAdjust="spacingAndGlyphs">CLP Plasma cells</text>
<line x1="596.60" y1="388.60" x2="599.20" y2="388.60" stroke="#ff0000" stroke-width="1.0"/>
<line x1="620.50" y1="388.60" x2="623.10" y2="388.60" stroke="#ff0000" stroke-width="1.0"/>
<line x1="643.00" y1="388.60" x2="647.40" y2="388.60" stroke="#ff0000" stroke-width="1.0"/>
<line x1="645.20" y1="386.40" x2="645.20" y2="390.80" stroke="#ff0000" stroke-width="1.0"/>
<line x1="666.20" y1="388.60" x2="670.60" y2="388.60" stroke="#ff0000" stroke-width="1.0"/>
<line x1="668.40" y1="386.40" x2="668.40" y2="390.80" stroke="#ff0000" stroke-width="1.0"/>
<text x="558.20" y="403.20" font-size="9.0" fill="#ff0000" stroke="#ff0000" stroke-width="0.18" text-anchor="middle" textLength="42.80" lengthAdjust="spacingAndGlyphs">Isotypic IgG</text>
<line x1="596.60" y1="401.40" x2="599.20" y2="401.40" stroke="#ff0000" stroke-width="1.0"/>
<line x1="620.50" y1="401.40" x2="623.10" y2="401.40" stroke="#ff0000" stroke-width="1.0"/>
<line x1="643.00" y1="401.40" x2="647.40" y2="401.40" stroke="#ff0000" stroke-width="1.0"/>
<line x1="645.20" y1="399.20" x2="645.20" y2="403.60" stroke="#ff0000" stroke-width="1.0"/>
<line x1="667.10" y1="401.40" x2="669.70" y2="401.40" stroke="#ff0000" stroke-width="1.0"/>
<text x="558.20" y="416.60" font-size="9.0" fill="#ff0000" stroke="#ff0000" stroke-width="0.18" text-anchor="middle" textLength="55.40" lengthAdjust="spacingAndGlyphs">Anti-PD-L1 Abs</text>
<line x1="596.60" y1="414.20" x2="599.20" y2="414.20" stroke="#ff0000" stroke-width="1.0"/>
<line x1="620.50" y1="414.20" x2="623.10" y2="414.20" stroke="#ff0000" stroke-width="1.0"/>
<line x1="643.90" y1="414.20" x2="646.50" y2="414.20" stroke="#ff0000" stroke-width="1.0"/>
<line x1="666.20" y1="414.20" x2="670.60" y2="414.20" stroke="#ff0000" stroke-width="1.0"/>
<line x1="668.40" y1="412.00" x2="668.40" y2="416.40" stroke="#ff0000" stroke-width="1.0"/>
</svg></body></html>
